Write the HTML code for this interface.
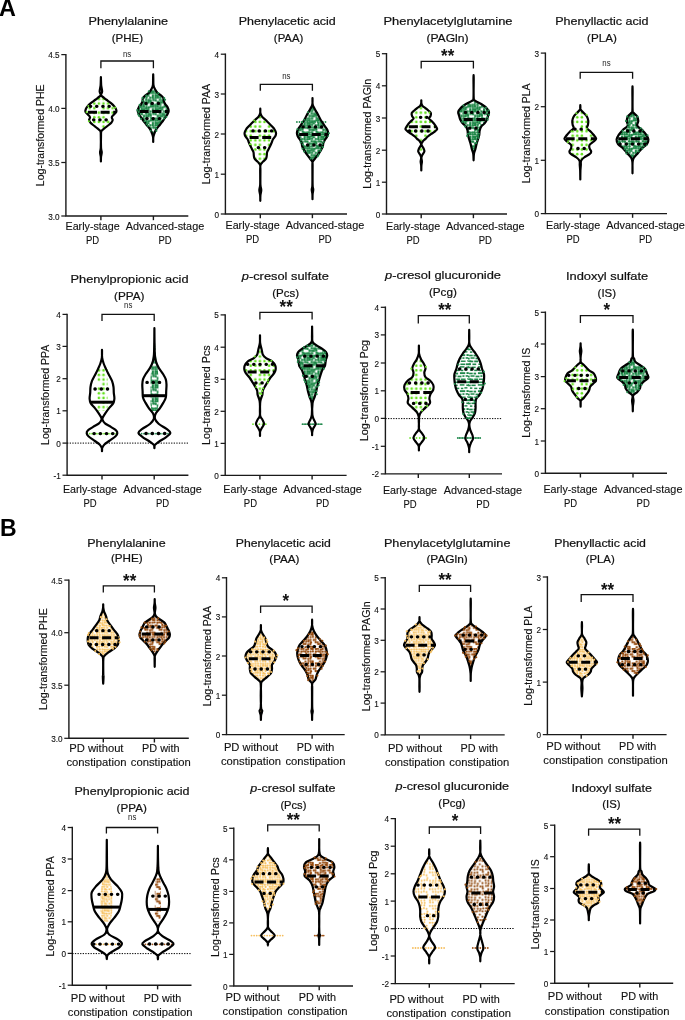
<!DOCTYPE html>
<html><head><meta charset="utf-8"><style>
html,body{margin:0;padding:0;background:#fff;}
svg{display:block;font-family:"Liberation Sans",sans-serif;will-change:transform;}
</style></head><body>
<svg width="685" height="1020" viewBox="0 0 685 1020">
<defs><pattern id="pdgl" width="18" height="18" patternUnits="userSpaceOnUse"><rect width="18" height="18" fill="#fff"/><rect x="1.36" y="0.65" width="3.96" height="1.63" fill="#1f884a"/><rect x="-16.64" y="0.4" width="3.96" height="1.69" fill="#1f884a"/><rect x="6.21" y="0.48" width="3.79" height="1.8" fill="#1f884a"/><rect x="-11.79" y="0.16" width="3.79" height="1.55" fill="#1f884a"/><rect x="10.75" y="0.52" width="4.83" height="1.42" fill="#1f884a"/><rect x="-7.25" y="0.69" width="4.83" height="1.88" fill="#1f884a"/><rect x="17.23" y="0.19" width="4.15" height="1.41" fill="#1f884a"/><rect x="-0.77" y="0.42" width="4.15" height="1.43" fill="#1f884a"/><rect x="0.73" y="3.38" width="2.11" height="1.62" fill="#1f884a"/><rect x="-17.27" y="3.61" width="2.11" height="1.66" fill="#1f884a"/><rect x="4.46" y="3.5" width="3.75" height="1.63" fill="#1f884a"/><rect x="-13.54" y="3.27" width="3.75" height="1.9" fill="#1f884a"/><rect x="10.4" y="3.52" width="4.94" height="1.56" fill="#1f884a"/><rect x="-7.6" y="3.24" width="4.94" height="1.54" fill="#1f884a"/><rect x="16.05" y="3.34" width="4.68" height="1.82" fill="#1f884a"/><rect x="-1.95" y="3.33" width="4.68" height="1.88" fill="#1f884a"/><rect x="0" y="6.65" width="2.73" height="1.63" fill="#1f884a"/><rect x="-18" y="6.69" width="2.73" height="1.6" fill="#1f884a"/><rect x="3.45" y="6.57" width="4.2" height="1.53" fill="#1f884a"/><rect x="-14.55" y="6.15" width="4.2" height="1.57" fill="#1f884a"/><rect x="9.8" y="6.17" width="4.65" height="1.52" fill="#1f884a"/><rect x="-8.2" y="6.16" width="4.65" height="1.43" fill="#1f884a"/><rect x="16.33" y="6.44" width="2.62" height="1.62" fill="#1f884a"/><rect x="-1.67" y="6.21" width="2.62" height="1.77" fill="#1f884a"/><rect x="1.93" y="9.35" width="2.41" height="1.51" fill="#1f884a"/><rect x="-16.07" y="9.26" width="2.41" height="1.89" fill="#1f884a"/><rect x="6.22" y="9.63" width="3.06" height="1.51" fill="#1f884a"/><rect x="-11.78" y="9.34" width="3.06" height="1.83" fill="#1f884a"/><rect x="10.92" y="9.69" width="2.35" height="1.51" fill="#1f884a"/><rect x="-7.08" y="9.25" width="2.35" height="1.79" fill="#1f884a"/><rect x="14.39" y="9.14" width="3.04" height="1.45" fill="#1f884a"/><rect x="-3.61" y="9.45" width="3.04" height="1.52" fill="#1f884a"/><rect x="1.12" y="12.68" width="3.59" height="1.64" fill="#1f884a"/><rect x="-16.88" y="12.44" width="3.59" height="1.83" fill="#1f884a"/><rect x="5.59" y="12.65" width="2.54" height="1.81" fill="#1f884a"/><rect x="-12.41" y="12.25" width="2.54" height="1.49" fill="#1f884a"/><rect x="9.92" y="12.22" width="5.29" height="1.88" fill="#1f884a"/><rect x="-8.08" y="12.63" width="5.29" height="1.7" fill="#1f884a"/><rect x="16.48" y="12.12" width="2.36" height="1.88" fill="#1f884a"/><rect x="-1.52" y="12.24" width="2.36" height="1.75" fill="#1f884a"/><rect x="2.47" y="15.28" width="4.09" height="1.49" fill="#1f884a"/><rect x="-15.53" y="15.53" width="4.09" height="1.43" fill="#1f884a"/><rect x="7.52" y="15.61" width="3.96" height="1.71" fill="#1f884a"/><rect x="-10.48" y="15.27" width="3.96" height="1.86" fill="#1f884a"/><rect x="12.41" y="15.26" width="2.06" height="1.62" fill="#1f884a"/><rect x="-5.59" y="15.14" width="2.06" height="1.49" fill="#1f884a"/><rect x="15.66" y="15.18" width="4" height="1.58" fill="#1f884a"/><rect x="-2.34" y="15.63" width="4" height="1.89" fill="#1f884a"/></pattern><pattern id="plg" width="18.4" height="18.4" patternUnits="userSpaceOnUse"><circle cx="2.3" cy="2.3" r="1.3" fill="#62e01c"/><circle cx="6.9" cy="2.3" r="1.3" fill="#62e01c"/><circle cx="11.5" cy="2.3" r="1.3" fill="#62e01c"/><circle cx="16.1" cy="2.3" r="1.3" fill="#62e01c"/><circle cx="2.3" cy="6.9" r="1.3" fill="#62e01c"/><circle cx="6.9" cy="6.9" r="1.3" fill="#62e01c"/><circle cx="11.5" cy="6.9" r="1.3" fill="#62e01c"/><circle cx="2.3" cy="11.5" r="1.3" fill="#62e01c"/><circle cx="6.9" cy="11.5" r="1.3" fill="#62e01c"/><circle cx="11.5" cy="11.5" r="1.3" fill="#62e01c"/><circle cx="16.1" cy="11.5" r="1.3" fill="#62e01c"/><circle cx="2.3" cy="16.1" r="1.3" fill="#62e01c"/><circle cx="11.5" cy="16.1" r="1.3" fill="#62e01c"/><circle cx="16.1" cy="16.1" r="1.3" fill="#62e01c"/></pattern><pattern id="por" width="14.4" height="14.4" patternUnits="userSpaceOnUse"><rect width="14.4" height="14.4" fill="#fff"/><circle cx="1.6" cy="1.44" r="1.1" fill="#f7c160"/><circle cx="3.89" cy="1.62" r="1.1" fill="#f7c160"/><circle cx="6.19" cy="1.6" r="1.1" fill="#f7c160"/><circle cx="8.32" cy="1.49" r="1.1" fill="#f7c160"/><circle cx="10.87" cy="1.32" r="1.1" fill="#f7c160"/><circle cx="13.28" cy="1.31" r="1.1" fill="#f7c160"/><circle cx="1.34" cy="4.09" r="1.1" fill="#f7c160"/><circle cx="3.83" cy="3.49" r="1.1" fill="#f7c160"/><circle cx="6.08" cy="3.54" r="1.1" fill="#f7c160"/><circle cx="7.98" cy="3.85" r="1.1" fill="#f7c160"/><circle cx="10.9" cy="3.58" r="1.1" fill="#f7c160"/><circle cx="13.4" cy="3.6" r="1.1" fill="#f7c160"/><circle cx="1.62" cy="5.76" r="1.1" fill="#f7c160"/><circle cx="3.4" cy="6.18" r="1.1" fill="#f7c160"/><circle cx="5.67" cy="6.41" r="1.1" fill="#f7c160"/><circle cx="8.34" cy="6.39" r="1.1" fill="#f7c160"/><circle cx="10.97" cy="5.7" r="1.1" fill="#f7c160"/><circle cx="13.51" cy="6.41" r="1.1" fill="#f7c160"/><circle cx="1.08" cy="8.48" r="1.1" fill="#f7c160"/><circle cx="3.24" cy="8.4" r="1.1" fill="#f7c160"/><circle cx="6.35" cy="8.61" r="1.1" fill="#f7c160"/><circle cx="10.47" cy="8.35" r="1.1" fill="#f7c160"/><circle cx="12.91" cy="8.31" r="1.1" fill="#f7c160"/><circle cx="1.19" cy="10.62" r="1.1" fill="#f7c160"/><circle cx="4.08" cy="10.75" r="1.1" fill="#f7c160"/><circle cx="5.53" cy="11.17" r="1.1" fill="#f7c160"/><circle cx="8.61" cy="10.87" r="1.1" fill="#f7c160"/><circle cx="11.09" cy="10.32" r="1.1" fill="#f7c160"/><circle cx="13.15" cy="10.32" r="1.1" fill="#f7c160"/><circle cx="0.94" cy="12.84" r="1.1" fill="#f7c160"/><circle cx="3.73" cy="13.15" r="1.1" fill="#f7c160"/><circle cx="6.16" cy="13.51" r="1.1" fill="#f7c160"/><circle cx="10.5" cy="13.18" r="1.1" fill="#f7c160"/><circle cx="12.71" cy="13.17" r="1.1" fill="#f7c160"/></pattern><pattern id="pdg" width="13.8" height="13.8" patternUnits="userSpaceOnUse"><rect width="13.8" height="13.8" fill="#fff"/><circle cx="0.83" cy="0.92" r="1.28" fill="#1b8645"/><circle cx="3.65" cy="1.17" r="1.28" fill="#1b8645"/><circle cx="6.01" cy="1.04" r="1.28" fill="#1b8645"/><circle cx="8.46" cy="0.74" r="1.28" fill="#1b8645"/><circle cx="12.28" cy="1.1" r="1.28" fill="#1b8645"/><circle cx="1.56" cy="3.33" r="1.28" fill="#1b8645"/><circle cx="3.83" cy="3.75" r="1.28" fill="#1b8645"/><circle cx="8.2" cy="3.15" r="1.28" fill="#1b8645"/><circle cx="10.67" cy="3.59" r="1.28" fill="#1b8645"/><circle cx="12.36" cy="3.85" r="1.28" fill="#1b8645"/><circle cx="6.04" cy="5.57" r="1.28" fill="#1b8645"/><circle cx="8.41" cy="5.6" r="1.28" fill="#1b8645"/><circle cx="10.29" cy="5.8" r="1.28" fill="#1b8645"/><circle cx="12.64" cy="5.28" r="1.28" fill="#1b8645"/><circle cx="0.71" cy="8.35" r="1.28" fill="#1b8645"/><circle cx="3.29" cy="8.34" r="1.28" fill="#1b8645"/><circle cx="5.4" cy="8.07" r="1.28" fill="#1b8645"/><circle cx="8.39" cy="8.24" r="1.28" fill="#1b8645"/><circle cx="13.1" cy="7.64" r="1.28" fill="#1b8645"/><circle cx="1.18" cy="10.14" r="1.28" fill="#1b8645"/><circle cx="3.59" cy="10.37" r="1.28" fill="#1b8645"/><circle cx="5.81" cy="10.16" r="1.28" fill="#1b8645"/><circle cx="8.4" cy="10.75" r="1.28" fill="#1b8645"/><circle cx="10.7" cy="10.82" r="1.28" fill="#1b8645"/><circle cx="12.72" cy="10.05" r="1.28" fill="#1b8645"/><circle cx="1.15" cy="12.76" r="1.28" fill="#1b8645"/><circle cx="3.92" cy="12.67" r="1.28" fill="#1b8645"/><circle cx="6.05" cy="12.71" r="1.28" fill="#1b8645"/><circle cx="8.24" cy="12.22" r="1.28" fill="#1b8645"/><circle cx="10.26" cy="13.11" r="1.28" fill="#1b8645"/></pattern><pattern id="pbr" width="14.4" height="14.4" patternUnits="userSpaceOnUse"><rect width="14.4" height="14.4" fill="#fff"/><circle cx="1.17" cy="0.83" r="1.12" fill="#94480c"/><circle cx="3.92" cy="1.6" r="1.12" fill="#94480c"/><circle cx="5.82" cy="0.89" r="1.12" fill="#94480c"/><circle cx="8.83" cy="0.83" r="1.12" fill="#94480c"/><circle cx="10.32" cy="0.89" r="1.12" fill="#94480c"/><circle cx="13.39" cy="1.02" r="1.12" fill="#94480c"/><circle cx="1.32" cy="3.2" r="1.12" fill="#94480c"/><circle cx="3.22" cy="3.61" r="1.12" fill="#94480c"/><circle cx="5.7" cy="3.63" r="1.12" fill="#94480c"/><circle cx="8.28" cy="3.51" r="1.12" fill="#94480c"/><circle cx="10.46" cy="3.3" r="1.12" fill="#94480c"/><circle cx="13.34" cy="3.63" r="1.12" fill="#94480c"/><circle cx="3.96" cy="5.73" r="1.12" fill="#94480c"/><circle cx="6.31" cy="6.4" r="1.12" fill="#94480c"/><circle cx="8.21" cy="6.42" r="1.12" fill="#94480c"/><circle cx="11.3" cy="6.39" r="1.12" fill="#94480c"/><circle cx="12.94" cy="6.23" r="1.12" fill="#94480c"/><circle cx="0.8" cy="8.73" r="1.12" fill="#94480c"/><circle cx="3.89" cy="8.03" r="1.12" fill="#94480c"/><circle cx="6.19" cy="7.92" r="1.12" fill="#94480c"/><circle cx="8.58" cy="8.81" r="1.12" fill="#94480c"/><circle cx="13.21" cy="8.66" r="1.12" fill="#94480c"/><circle cx="1.39" cy="10.49" r="1.12" fill="#94480c"/><circle cx="3.21" cy="10.34" r="1.12" fill="#94480c"/><circle cx="6.01" cy="10.87" r="1.12" fill="#94480c"/><circle cx="8.08" cy="10.5" r="1.12" fill="#94480c"/><circle cx="3.16" cy="13.65" r="1.12" fill="#94480c"/><circle cx="6.26" cy="13.03" r="1.12" fill="#94480c"/><circle cx="8.42" cy="13.13" r="1.12" fill="#94480c"/><circle cx="10.31" cy="13.4" r="1.12" fill="#94480c"/></pattern><pattern id="porl" width="16.8" height="16.8" patternUnits="userSpaceOnUse"><rect width="16.8" height="16.8" fill="#fff"/><circle cx="1.35" cy="1.64" r="1" fill="#f7c160"/><circle cx="3.9" cy="1.07" r="1" fill="#f7c160"/><circle cx="6.52" cy="1.79" r="1" fill="#f7c160"/><circle cx="12.96" cy="1.53" r="1" fill="#f7c160"/><circle cx="15.5" cy="1.4" r="1" fill="#f7c160"/><circle cx="7.41" cy="4.44" r="1" fill="#f7c160"/><circle cx="15.8" cy="4.58" r="1" fill="#f7c160"/><circle cx="1.67" cy="7.27" r="1" fill="#f7c160"/><circle cx="4.42" cy="6.57" r="1" fill="#f7c160"/><circle cx="6.97" cy="6.51" r="1" fill="#f7c160"/><circle cx="9.94" cy="7.12" r="1" fill="#f7c160"/><circle cx="13.04" cy="7.17" r="1" fill="#f7c160"/><circle cx="15.56" cy="7.07" r="1" fill="#f7c160"/><circle cx="1.29" cy="10.3" r="1" fill="#f7c160"/><circle cx="4.4" cy="10.06" r="1" fill="#f7c160"/><circle cx="9.92" cy="10.04" r="1" fill="#f7c160"/><circle cx="12.5" cy="9.35" r="1" fill="#f7c160"/><circle cx="15.28" cy="9.4" r="1" fill="#f7c160"/><circle cx="1.81" cy="12.65" r="1" fill="#f7c160"/><circle cx="4.67" cy="12.67" r="1" fill="#f7c160"/><circle cx="10.11" cy="12.18" r="1" fill="#f7c160"/><circle cx="12.86" cy="12.15" r="1" fill="#f7c160"/><circle cx="1.37" cy="15.07" r="1" fill="#f7c160"/><circle cx="4.31" cy="14.96" r="1" fill="#f7c160"/><circle cx="9.83" cy="15.5" r="1" fill="#f7c160"/><circle cx="12.39" cy="15.56" r="1" fill="#f7c160"/><circle cx="15.18" cy="15.62" r="1" fill="#f7c160"/></pattern><pattern id="pbrl" width="16.8" height="16.8" patternUnits="userSpaceOnUse"><rect width="16.8" height="16.8" fill="#fff"/><circle cx="0.91" cy="1.15" r="1.05" fill="#8e460a"/><circle cx="3.86" cy="1.65" r="1.05" fill="#8e460a"/><circle cx="7.4" cy="1.65" r="1.05" fill="#8e460a"/><circle cx="10.29" cy="1.84" r="1.05" fill="#8e460a"/><circle cx="13.01" cy="1.33" r="1.05" fill="#8e460a"/><circle cx="15.87" cy="1.14" r="1.05" fill="#8e460a"/><circle cx="1.84" cy="4.42" r="1.05" fill="#8e460a"/><circle cx="4.68" cy="4.52" r="1.05" fill="#8e460a"/><circle cx="6.62" cy="4.32" r="1.05" fill="#8e460a"/><circle cx="9.5" cy="3.75" r="1.05" fill="#8e460a"/><circle cx="12.22" cy="4.14" r="1.05" fill="#8e460a"/><circle cx="15.36" cy="3.96" r="1.05" fill="#8e460a"/><circle cx="1.32" cy="7.28" r="1.05" fill="#8e460a"/><circle cx="4.7" cy="7.45" r="1.05" fill="#8e460a"/><circle cx="9.41" cy="7.39" r="1.05" fill="#8e460a"/><circle cx="15.26" cy="6.77" r="1.05" fill="#8e460a"/><circle cx="1.46" cy="9.89" r="1.05" fill="#8e460a"/><circle cx="4.45" cy="9.49" r="1.05" fill="#8e460a"/><circle cx="7.48" cy="10.22" r="1.05" fill="#8e460a"/><circle cx="12.16" cy="9.57" r="1.05" fill="#8e460a"/><circle cx="15.52" cy="9.4" r="1.05" fill="#8e460a"/><circle cx="0.97" cy="12.19" r="1.05" fill="#8e460a"/><circle cx="4.25" cy="12.73" r="1.05" fill="#8e460a"/><circle cx="6.98" cy="12.31" r="1.05" fill="#8e460a"/><circle cx="10.04" cy="12.94" r="1.05" fill="#8e460a"/><circle cx="12.22" cy="12.91" r="1.05" fill="#8e460a"/><circle cx="15.67" cy="12.31" r="1.05" fill="#8e460a"/><circle cx="1.16" cy="15.71" r="1.05" fill="#8e460a"/><circle cx="4.35" cy="15.89" r="1.05" fill="#8e460a"/><circle cx="7.05" cy="15.65" r="1.05" fill="#8e460a"/><circle cx="12.47" cy="15" r="1.05" fill="#8e460a"/></pattern><pattern id="pwh" width="4" height="4" patternUnits="userSpaceOnUse"><rect width="4" height="4" fill="#fff"/></pattern><clipPath id="fc1"><rect x="0" y="0" width="685" height="414"/></clipPath><clipPath id="fc2"><rect x="0" y="0" width="685" height="414"/></clipPath><clipPath id="fc3"><rect x="0" y="0" width="685" height="428"/></clipPath><clipPath id="fc4"><rect x="0" y="0" width="685" height="428"/></clipPath><clipPath id="fc5"><rect x="0" y="0" width="685" height="926"/></clipPath><clipPath id="fc6"><rect x="0" y="0" width="685" height="930"/></clipPath><clipPath id="fc7"><rect x="0" y="0" width="685" height="935"/></clipPath><clipPath id="fc8"><rect x="0" y="0" width="685" height="934"/></clipPath></defs>
<rect width="685" height="1020" fill="#fff"/>
<text x="-0.9" y="15.7" font-size="23.4" text-anchor="start" font-weight="bold" fill="#000">A</text><text x="-0.1" y="536.2" font-size="23" text-anchor="start" font-weight="bold" fill="#000">B</text>
<path d="M65.9 53.9 V216 H188.3" fill="none" stroke="#1a1a1a" stroke-width="1.4"/>
<line x1="61.3" y1="54.6" x2="65.9" y2="54.6" stroke="#1a1a1a" stroke-width="1.25"/>
<text x="59.6" y="58.1" font-size="8.2" text-anchor="end" font-weight="normal" fill="#111" stroke="#111" stroke-width="0.12">4.5</text>
<line x1="61.3" y1="108.4" x2="65.9" y2="108.4" stroke="#1a1a1a" stroke-width="1.25"/>
<text x="59.6" y="111.9" font-size="8.2" text-anchor="end" font-weight="normal" fill="#111" stroke="#111" stroke-width="0.12">4.0</text>
<line x1="61.3" y1="162.5" x2="65.9" y2="162.5" stroke="#1a1a1a" stroke-width="1.25"/>
<text x="59.6" y="166" font-size="8.2" text-anchor="end" font-weight="normal" fill="#111" stroke="#111" stroke-width="0.12">3.5</text>
<line x1="61.3" y1="216" x2="65.9" y2="216" stroke="#1a1a1a" stroke-width="1.25"/>
<text x="59.6" y="219.5" font-size="8.2" text-anchor="end" font-weight="normal" fill="#111" stroke="#111" stroke-width="0.12">3.0</text>
<line x1="100.9" y1="216" x2="100.9" y2="220.2" stroke="#1a1a1a" stroke-width="1.4"/>
<line x1="153.4" y1="216" x2="153.4" y2="220.2" stroke="#1a1a1a" stroke-width="1.4"/>
<text transform="translate(44.4 135.3) rotate(-90)" font-size="10.53" text-anchor="middle" fill="#111" stroke="#111" stroke-width="0.15">Log-transformed PHE</text>
<text x="128.3" y="25" font-size="11.8" text-anchor="middle" font-weight="normal" textLength="79.5" lengthAdjust="spacingAndGlyphs" fill="#111" stroke="#111" stroke-width="0.22">Phenylalanine</text>
<text x="127.4" y="41.8" font-size="11.8" text-anchor="middle" font-weight="normal" textLength="31.2" lengthAdjust="spacingAndGlyphs" fill="#111" stroke="#111" stroke-width="0.22">(PHE)</text>
<path d="M100.9 68.2 V61 H153.4 V68.2" fill="none" stroke="#111" stroke-width="1.3"/>
<text x="127.1" y="56.6" font-size="8.2" text-anchor="middle" font-weight="normal" textLength="8.3" lengthAdjust="spacingAndGlyphs" fill="#222">ns</text>
<text x="92.6" y="229.8" font-size="10.7" text-anchor="middle" font-weight="normal" textLength="54.2" lengthAdjust="spacingAndGlyphs" fill="#111" stroke="#111" stroke-width="0.12">Early-stage</text>
<text x="92.6" y="243.8" font-size="10.7" text-anchor="middle" font-weight="normal" textLength="13.2" lengthAdjust="spacingAndGlyphs" fill="#111" stroke="#111" stroke-width="0.12">PD</text>
<text x="165" y="229.8" font-size="10.7" text-anchor="middle" font-weight="normal" textLength="78.5" lengthAdjust="spacingAndGlyphs" fill="#111" stroke="#111" stroke-width="0.12">Advanced-stage</text>
<text x="165" y="243.8" font-size="10.7" text-anchor="middle" font-weight="normal" textLength="13.2" lengthAdjust="spacingAndGlyphs" fill="#111" stroke="#111" stroke-width="0.12">PD</text>
<path d="M100.9 77.19 C100.92 77.86 100.96 79.77 101.02 81.2 C101.08 82.64 101.06 84.1 101.25 85.8 C101.44 87.5 102.18 89.85 102.15 91.4 C102.12 92.95 100.74 94.03 101.05 95.1 C101.36 96.17 102.91 96.88 104 97.8 C105.09 98.72 106.38 99.67 107.6 100.6 C108.82 101.53 110.22 102.48 111.3 103.4 C112.38 104.32 113.33 105.18 114.1 106.1 C114.87 107.02 115.52 107.97 115.9 108.9 C116.28 109.83 116.7 110.78 116.4 111.7 C116.1 112.62 114.87 113.48 114.1 114.4 C113.33 115.32 112.03 116.27 111.8 117.2 C111.57 118.13 112.78 119.08 112.7 120 C112.62 120.92 112.07 121.78 111.3 122.7 C110.53 123.62 109.25 124.57 108.1 125.5 C106.95 126.43 105.51 127.38 104.4 128.3 C103.29 129.22 102.01 129.93 101.45 131 C100.89 132.07 101.09 131.93 101.02 134.7 C100.95 137.47 100.9 144.67 101.02 147.6 C101.14 150.53 101.75 150.75 101.75 152.3 C101.75 153.85 101.16 155.38 101.02 156.9 C100.88 158.42 100.92 160.66 100.9 161.41 C100.88 160.66 100.92 158.42 100.78 156.9 C100.64 155.38 100.05 153.85 100.05 152.3 C100.05 150.75 100.66 150.53 100.78 147.6 C100.9 144.67 100.85 137.47 100.78 134.7 C100.71 131.93 100.91 132.07 100.35 131 C99.79 129.93 98.51 129.22 97.4 128.3 C96.29 127.38 94.85 126.43 93.7 125.5 C92.55 124.57 91.27 123.62 90.5 122.7 C89.73 121.78 89.18 120.92 89.1 120 C89.02 119.08 90.23 118.13 90 117.2 C89.77 116.27 88.47 115.32 87.7 114.4 C86.93 113.48 85.7 112.62 85.4 111.7 C85.1 110.78 85.52 109.83 85.9 108.9 C86.28 107.97 86.93 107.02 87.7 106.1 C88.47 105.18 89.42 104.32 90.5 103.4 C91.58 102.48 92.98 101.53 94.2 100.6 C95.42 99.67 96.71 98.72 97.8 97.8 C98.89 96.88 100.44 96.17 100.75 95.1 C101.06 94.03 99.68 92.95 99.65 91.4 C99.62 89.85 100.36 87.5 100.55 85.8 C100.74 84.1 100.72 82.64 100.78 81.2 C100.84 79.77 100.88 77.86 100.9 77.19Z" fill="url(#plg)" stroke="none"/>

<path d="M100.9 77.19 C100.92 77.86 100.96 79.77 101.02 81.2 C101.08 82.64 101.06 84.1 101.25 85.8 C101.44 87.5 102.18 89.85 102.15 91.4 C102.12 92.95 100.74 94.03 101.05 95.1 C101.36 96.17 102.91 96.88 104 97.8 C105.09 98.72 106.38 99.67 107.6 100.6 C108.82 101.53 110.22 102.48 111.3 103.4 C112.38 104.32 113.33 105.18 114.1 106.1 C114.87 107.02 115.52 107.97 115.9 108.9 C116.28 109.83 116.7 110.78 116.4 111.7 C116.1 112.62 114.87 113.48 114.1 114.4 C113.33 115.32 112.03 116.27 111.8 117.2 C111.57 118.13 112.78 119.08 112.7 120 C112.62 120.92 112.07 121.78 111.3 122.7 C110.53 123.62 109.25 124.57 108.1 125.5 C106.95 126.43 105.51 127.38 104.4 128.3 C103.29 129.22 102.01 129.93 101.45 131 C100.89 132.07 101.09 131.93 101.02 134.7 C100.95 137.47 100.9 144.67 101.02 147.6 C101.14 150.53 101.75 150.75 101.75 152.3 C101.75 153.85 101.16 155.38 101.02 156.9 C100.88 158.42 100.92 160.66 100.9 161.41 C100.88 160.66 100.92 158.42 100.78 156.9 C100.64 155.38 100.05 153.85 100.05 152.3 C100.05 150.75 100.66 150.53 100.78 147.6 C100.9 144.67 100.85 137.47 100.78 134.7 C100.71 131.93 100.91 132.07 100.35 131 C99.79 129.93 98.51 129.22 97.4 128.3 C96.29 127.38 94.85 126.43 93.7 125.5 C92.55 124.57 91.27 123.62 90.5 122.7 C89.73 121.78 89.18 120.92 89.1 120 C89.02 119.08 90.23 118.13 90 117.2 C89.77 116.27 88.47 115.32 87.7 114.4 C86.93 113.48 85.7 112.62 85.4 111.7 C85.1 110.78 85.52 109.83 85.9 108.9 C86.28 107.97 86.93 107.02 87.7 106.1 C88.47 105.18 89.42 104.32 90.5 103.4 C91.58 102.48 92.98 101.53 94.2 100.6 C95.42 99.67 96.71 98.72 97.8 97.8 C98.89 96.88 100.44 96.17 100.75 95.1 C101.06 94.03 99.68 92.95 99.65 91.4 C99.62 89.85 100.36 87.5 100.55 85.8 C100.74 84.1 100.72 82.64 100.78 81.2 C100.84 79.77 100.88 77.86 100.9 77.19Z" fill="none" stroke="#000" stroke-width="2.2" stroke-linejoin="round"/>
<circle cx="88.38" cy="106.02" r="1.05" fill="#6fe52e"/><circle cx="115.15" cy="107.49" r="1.05" fill="#6fe52e"/><circle cx="86.7" cy="112.13" r="1.05" fill="#6fe52e"/><circle cx="88.87" cy="121.24" r="1.05" fill="#6fe52e"/>
<line x1="85.91" y1="112.3" x2="115.89" y2="112.3" stroke="#000" stroke-width="3" stroke-dasharray="9 3.6" stroke-dashoffset="10.49"/>
<line x1="89.37" y1="106.3" x2="112.43" y2="106.3" stroke="#000" stroke-width="3.3" stroke-linecap="round" stroke-dasharray="0.3 5.9" stroke-dashoffset="11.38"/>
<line x1="90.96" y1="119.8" x2="110.84" y2="119.8" stroke="#000" stroke-width="3.3" stroke-linecap="round" stroke-dasharray="0.3 5.9" stroke-dashoffset="9.79"/>
<path d="M153.2 74.39 C153.22 75.14 153.28 77.15 153.32 78.9 C153.36 80.65 153.23 83.28 153.45 84.9 C153.67 86.52 154.02 87.35 154.65 88.6 C155.27 89.85 156.16 91.28 157.2 92.4 C158.24 93.52 159.85 94.32 160.9 95.3 C161.95 96.28 163 97.3 163.5 98.3 C164 99.3 163.58 100.3 163.9 101.3 C164.22 102.3 164.78 103.3 165.4 104.3 C166.02 105.3 167.05 106.18 167.6 107.3 C168.15 108.42 168.77 109.77 168.7 111 C168.63 112.23 167.88 113.47 167.2 114.7 C166.52 115.93 165.47 117.15 164.6 118.4 C163.73 119.65 162.93 120.95 162 122.2 C161.07 123.45 160 124.67 159 125.9 C158 127.13 156.76 128.37 156 129.6 C155.24 130.83 154.9 132.05 154.45 133.3 C154 134.55 153.53 135.65 153.32 137.1 C153.11 138.55 153.22 141.19 153.2 142.01 C153.18 141.19 153.29 138.55 153.08 137.1 C152.87 135.65 152.4 134.55 151.95 133.3 C151.5 132.05 151.16 130.83 150.4 129.6 C149.64 128.37 148.4 127.13 147.4 125.9 C146.4 124.67 145.33 123.45 144.4 122.2 C143.47 120.95 142.67 119.65 141.8 118.4 C140.93 117.15 139.88 115.93 139.2 114.7 C138.52 113.47 137.77 112.23 137.7 111 C137.63 109.77 138.25 108.42 138.8 107.3 C139.35 106.18 140.38 105.3 141 104.3 C141.62 103.3 142.18 102.3 142.5 101.3 C142.82 100.3 142.4 99.3 142.9 98.3 C143.4 97.3 144.45 96.28 145.5 95.3 C146.55 94.32 148.16 93.52 149.2 92.4 C150.24 91.28 151.12 89.85 151.75 88.6 C152.38 87.35 152.73 86.52 152.95 84.9 C153.17 83.28 153.04 80.65 153.08 78.9 C153.12 77.15 153.18 75.14 153.2 74.39Z" fill="url(#pdg)" stroke="none"/>

<path d="M153.2 74.39 C153.22 75.14 153.28 77.15 153.32 78.9 C153.36 80.65 153.23 83.28 153.45 84.9 C153.67 86.52 154.02 87.35 154.65 88.6 C155.27 89.85 156.16 91.28 157.2 92.4 C158.24 93.52 159.85 94.32 160.9 95.3 C161.95 96.28 163 97.3 163.5 98.3 C164 99.3 163.58 100.3 163.9 101.3 C164.22 102.3 164.78 103.3 165.4 104.3 C166.02 105.3 167.05 106.18 167.6 107.3 C168.15 108.42 168.77 109.77 168.7 111 C168.63 112.23 167.88 113.47 167.2 114.7 C166.52 115.93 165.47 117.15 164.6 118.4 C163.73 119.65 162.93 120.95 162 122.2 C161.07 123.45 160 124.67 159 125.9 C158 127.13 156.76 128.37 156 129.6 C155.24 130.83 154.9 132.05 154.45 133.3 C154 134.55 153.53 135.65 153.32 137.1 C153.11 138.55 153.22 141.19 153.2 142.01 C153.18 141.19 153.29 138.55 153.08 137.1 C152.87 135.65 152.4 134.55 151.95 133.3 C151.5 132.05 151.16 130.83 150.4 129.6 C149.64 128.37 148.4 127.13 147.4 125.9 C146.4 124.67 145.33 123.45 144.4 122.2 C143.47 120.95 142.67 119.65 141.8 118.4 C140.93 117.15 139.88 115.93 139.2 114.7 C138.52 113.47 137.77 112.23 137.7 111 C137.63 109.77 138.25 108.42 138.8 107.3 C139.35 106.18 140.38 105.3 141 104.3 C141.62 103.3 142.18 102.3 142.5 101.3 C142.82 100.3 142.4 99.3 142.9 98.3 C143.4 97.3 144.45 96.28 145.5 95.3 C146.55 94.32 148.16 93.52 149.2 92.4 C150.24 91.28 151.12 89.85 151.75 88.6 C152.38 87.35 152.73 86.52 152.95 84.9 C153.17 83.28 153.04 80.65 153.08 78.9 C153.12 77.15 153.18 75.14 153.2 74.39Z" fill="none" stroke="#000" stroke-width="2.2" stroke-linejoin="round"/>
<circle cx="148.77" cy="91.42" r="1.05" fill="#1f884a"/><circle cx="158.27" cy="93.09" r="1.05" fill="#1f884a"/><circle cx="146.2" cy="95.55" r="1.05" fill="#1f884a"/><circle cx="142.55" cy="97.9" r="1.05" fill="#1f884a"/><circle cx="164.23" cy="98.07" r="1.05" fill="#1f884a"/><circle cx="142.62" cy="100.64" r="1.05" fill="#1f884a"/><circle cx="165.11" cy="99.82" r="1.05" fill="#1f884a"/><circle cx="139.67" cy="104.83" r="1.05" fill="#1f884a"/><circle cx="139.98" cy="106.91" r="1.05" fill="#1f884a"/><circle cx="137.38" cy="110.11" r="1.05" fill="#1f884a"/><circle cx="138.4" cy="111.92" r="1.05" fill="#1f884a"/><circle cx="138.27" cy="114.55" r="1.05" fill="#1f884a"/><circle cx="139.2" cy="116" r="1.05" fill="#1f884a"/><circle cx="166.29" cy="116.99" r="1.05" fill="#1f884a"/><circle cx="140.87" cy="118.84" r="1.05" fill="#1f884a"/><circle cx="163.89" cy="118.4" r="1.05" fill="#1f884a"/><circle cx="144.54" cy="121.32" r="1.05" fill="#1f884a"/><circle cx="146.53" cy="123.97" r="1.05" fill="#1f884a"/><circle cx="147.89" cy="125.8" r="1.05" fill="#1f884a"/><circle cx="156.16" cy="128.49" r="1.05" fill="#1f884a"/><circle cx="150.66" cy="130.7" r="1.05" fill="#1f884a"/><circle cx="156.39" cy="130.83" r="1.05" fill="#1f884a"/>
<line x1="137.9" y1="111.5" x2="168.5" y2="111.5" stroke="#000" stroke-width="3" stroke-dasharray="9 3.6" stroke-dashoffset="10.8"/>
<line x1="143.25" y1="103.4" x2="163.15" y2="103.4" stroke="#000" stroke-width="3.3" stroke-linecap="round" stroke-dasharray="0.3 5.9" stroke-dashoffset="9.8"/>
<line x1="143.74" y1="118.6" x2="162.66" y2="118.6" stroke="#000" stroke-width="3.3" stroke-linecap="round" stroke-dasharray="0.3 5.9" stroke-dashoffset="9.31"/>
<path d="M225.4 53.5 V214 H347" fill="none" stroke="#1a1a1a" stroke-width="1.4"/>
<line x1="220.8" y1="54.2" x2="225.4" y2="54.2" stroke="#1a1a1a" stroke-width="1.25"/>
<text x="219.1" y="57.7" font-size="8.2" text-anchor="end" font-weight="normal" fill="#111" stroke="#111" stroke-width="0.12">4</text>
<line x1="220.8" y1="94" x2="225.4" y2="94" stroke="#1a1a1a" stroke-width="1.25"/>
<text x="219.1" y="97.5" font-size="8.2" text-anchor="end" font-weight="normal" fill="#111" stroke="#111" stroke-width="0.12">3</text>
<line x1="220.8" y1="134" x2="225.4" y2="134" stroke="#1a1a1a" stroke-width="1.25"/>
<text x="219.1" y="137.5" font-size="8.2" text-anchor="end" font-weight="normal" fill="#111" stroke="#111" stroke-width="0.12">2</text>
<line x1="220.8" y1="174.2" x2="225.4" y2="174.2" stroke="#1a1a1a" stroke-width="1.25"/>
<text x="219.1" y="177.7" font-size="8.2" text-anchor="end" font-weight="normal" fill="#111" stroke="#111" stroke-width="0.12">1</text>
<line x1="220.8" y1="214" x2="225.4" y2="214" stroke="#1a1a1a" stroke-width="1.25"/>
<text x="219.1" y="217.5" font-size="8.2" text-anchor="end" font-weight="normal" fill="#111" stroke="#111" stroke-width="0.12">0</text>
<line x1="260.3" y1="214" x2="260.3" y2="218.2" stroke="#1a1a1a" stroke-width="1.4"/>
<line x1="312.4" y1="214" x2="312.4" y2="218.2" stroke="#1a1a1a" stroke-width="1.4"/>
<text transform="translate(210.1 134.1) rotate(-90)" font-size="10.53" text-anchor="middle" fill="#111" stroke="#111" stroke-width="0.15">Log-transformed PAA</text>
<text x="287.3" y="25" font-size="11.8" text-anchor="middle" font-weight="normal" textLength="97" lengthAdjust="spacingAndGlyphs" fill="#111" stroke="#111" stroke-width="0.22">Phenylacetic acid</text>
<text x="288.6" y="41.8" font-size="11.8" text-anchor="middle" font-weight="normal" textLength="29.5" lengthAdjust="spacingAndGlyphs" fill="#111" stroke="#111" stroke-width="0.22">(PAA)</text>
<path d="M260.3 90.7 V84.3 H312.4 V90.7" fill="none" stroke="#111" stroke-width="1.3"/>
<text x="286.3" y="78.6" font-size="8.2" text-anchor="middle" font-weight="normal" textLength="8.3" lengthAdjust="spacingAndGlyphs" fill="#222">ns</text>
<text x="252.6" y="229.4" font-size="10.7" text-anchor="middle" font-weight="normal" textLength="54.2" lengthAdjust="spacingAndGlyphs" fill="#111" stroke="#111" stroke-width="0.12">Early-stage</text>
<text x="252.6" y="243.4" font-size="10.7" text-anchor="middle" font-weight="normal" textLength="13.2" lengthAdjust="spacingAndGlyphs" fill="#111" stroke="#111" stroke-width="0.12">PD</text>
<text x="325" y="229.4" font-size="10.7" text-anchor="middle" font-weight="normal" textLength="78.5" lengthAdjust="spacingAndGlyphs" fill="#111" stroke="#111" stroke-width="0.12">Advanced-stage</text>
<text x="325" y="243.4" font-size="10.7" text-anchor="middle" font-weight="normal" textLength="13.2" lengthAdjust="spacingAndGlyphs" fill="#111" stroke="#111" stroke-width="0.12">PD</text>
<path d="M260.3 108.69 C260.32 109.46 260.16 111.98 260.45 113.3 C260.74 114.62 261.21 115.52 262.05 116.6 C262.89 117.68 264.39 118.72 265.5 119.8 C266.61 120.88 267.63 122.02 268.7 123.1 C269.77 124.18 270.92 125.23 271.9 126.3 C272.88 127.37 273.92 128.42 274.6 129.5 C275.28 130.58 275.87 131.72 276 132.8 C276.13 133.88 275.9 134.93 275.4 136 C274.9 137.07 273.62 138.12 273 139.2 C272.38 140.28 272.15 141.42 271.7 142.5 C271.25 143.58 270.8 144.62 270.3 145.7 C269.8 146.78 269.23 147.92 268.7 149 C268.17 150.08 267.42 151.13 267.1 152.2 C266.78 153.27 266.98 154.32 266.8 155.4 C266.62 156.48 266.67 157.62 266 158.7 C265.33 159.78 263.73 160.83 262.8 161.9 C261.88 162.97 260.85 163.67 260.45 165.1 C260.05 166.53 260.43 167.25 260.42 170.5 C260.42 173.75 260.28 181.35 260.42 184.6 C260.56 187.85 261.25 188.2 261.25 190 C261.25 191.8 260.58 193.6 260.42 195.4 C260.26 197.2 260.32 199.91 260.3 200.81 C260.28 199.91 260.34 197.2 260.18 195.4 C260.02 193.6 259.35 191.8 259.35 190 C259.35 188.2 260.04 187.85 260.18 184.6 C260.32 181.35 260.19 173.75 260.18 170.5 C260.18 167.25 260.55 166.53 260.15 165.1 C259.75 163.67 258.73 162.97 257.8 161.9 C256.88 160.83 255.27 159.78 254.6 158.7 C253.93 157.62 253.98 156.48 253.8 155.4 C253.62 154.32 253.82 153.27 253.5 152.2 C253.18 151.13 252.43 150.08 251.9 149 C251.37 147.92 250.8 146.78 250.3 145.7 C249.8 144.62 249.35 143.58 248.9 142.5 C248.45 141.42 248.22 140.28 247.6 139.2 C246.98 138.12 245.7 137.07 245.2 136 C244.7 134.93 244.47 133.88 244.6 132.8 C244.73 131.72 245.32 130.58 246 129.5 C246.68 128.42 247.72 127.37 248.7 126.3 C249.68 125.23 250.83 124.18 251.9 123.1 C252.97 122.02 253.99 120.88 255.1 119.8 C256.21 118.72 257.71 117.68 258.55 116.6 C259.39 115.52 259.86 114.62 260.15 113.3 C260.44 111.98 260.28 109.46 260.3 108.69Z" fill="url(#plg)" stroke="none"/>

<path d="M260.3 108.69 C260.32 109.46 260.16 111.98 260.45 113.3 C260.74 114.62 261.21 115.52 262.05 116.6 C262.89 117.68 264.39 118.72 265.5 119.8 C266.61 120.88 267.63 122.02 268.7 123.1 C269.77 124.18 270.92 125.23 271.9 126.3 C272.88 127.37 273.92 128.42 274.6 129.5 C275.28 130.58 275.87 131.72 276 132.8 C276.13 133.88 275.9 134.93 275.4 136 C274.9 137.07 273.62 138.12 273 139.2 C272.38 140.28 272.15 141.42 271.7 142.5 C271.25 143.58 270.8 144.62 270.3 145.7 C269.8 146.78 269.23 147.92 268.7 149 C268.17 150.08 267.42 151.13 267.1 152.2 C266.78 153.27 266.98 154.32 266.8 155.4 C266.62 156.48 266.67 157.62 266 158.7 C265.33 159.78 263.73 160.83 262.8 161.9 C261.88 162.97 260.85 163.67 260.45 165.1 C260.05 166.53 260.43 167.25 260.42 170.5 C260.42 173.75 260.28 181.35 260.42 184.6 C260.56 187.85 261.25 188.2 261.25 190 C261.25 191.8 260.58 193.6 260.42 195.4 C260.26 197.2 260.32 199.91 260.3 200.81 C260.28 199.91 260.34 197.2 260.18 195.4 C260.02 193.6 259.35 191.8 259.35 190 C259.35 188.2 260.04 187.85 260.18 184.6 C260.32 181.35 260.19 173.75 260.18 170.5 C260.18 167.25 260.55 166.53 260.15 165.1 C259.75 163.67 258.73 162.97 257.8 161.9 C256.88 160.83 255.27 159.78 254.6 158.7 C253.93 157.62 253.98 156.48 253.8 155.4 C253.62 154.32 253.82 153.27 253.5 152.2 C253.18 151.13 252.43 150.08 251.9 149 C251.37 147.92 250.8 146.78 250.3 145.7 C249.8 144.62 249.35 143.58 248.9 142.5 C248.45 141.42 248.22 140.28 247.6 139.2 C246.98 138.12 245.7 137.07 245.2 136 C244.7 134.93 244.47 133.88 244.6 132.8 C244.73 131.72 245.32 130.58 246 129.5 C246.68 128.42 247.72 127.37 248.7 126.3 C249.68 125.23 250.83 124.18 251.9 123.1 C252.97 122.02 253.99 120.88 255.1 119.8 C256.21 118.72 257.71 117.68 258.55 116.6 C259.39 115.52 259.86 114.62 260.15 113.3 C260.44 111.98 260.28 109.46 260.3 108.69Z" fill="none" stroke="#000" stroke-width="2.2" stroke-linejoin="round"/>
<circle cx="254.17" cy="120.47" r="1.05" fill="#6fe52e"/><circle cx="250.07" cy="144.23" r="1.05" fill="#6fe52e"/>
<line x1="246.4" y1="137.6" x2="274.2" y2="137.6" stroke="#000" stroke-width="3" stroke-dasharray="9 3.6" stroke-dashoffset="9.4"/>
<line x1="247.21" y1="130.9" x2="273.39" y2="130.9" stroke="#000" stroke-width="3.3" stroke-linecap="round" stroke-dasharray="0.3 5.9" stroke-dashoffset="6.74"/>
<line x1="253.02" y1="147.6" x2="267.58" y2="147.6" stroke="#000" stroke-width="3.3" stroke-linecap="round" stroke-dasharray="0.3 5.9" stroke-dashoffset="7.13"/>
<path d="M312.5 97.99 C312.52 99.02 312.29 102.43 312.62 104.2 C312.95 105.97 313.64 106.93 314.5 108.6 C315.36 110.27 316.78 112.35 317.8 114.2 C318.82 116.05 319.77 118.23 320.6 119.7 C321.43 121.17 322.07 121.88 322.8 123 C323.53 124.12 324.25 125.28 325 126.4 C325.75 127.52 326.78 128.6 327.3 129.7 C327.82 130.8 328.1 131.9 328.1 133 C328.1 134.1 327.82 135.18 327.3 136.3 C326.78 137.42 325.65 138.58 325 139.7 C324.35 140.82 323.77 141.9 323.4 143 C323.03 144.1 323.17 145.2 322.8 146.3 C322.43 147.4 321.93 148.3 321.2 149.6 C320.47 150.9 319.42 152.62 318.4 154.1 C317.38 155.58 316.06 157.22 315.1 158.5 C314.14 159.78 313.06 160.68 312.65 161.8 C312.24 162.92 312.62 161.32 312.62 165.2 C312.62 169.08 312.51 181.05 312.62 185.1 C312.73 189.15 313.25 188.02 313.25 189.5 C313.25 190.98 312.75 192.4 312.62 194 C312.5 195.6 312.52 198.26 312.5 199.11 C312.48 198.26 312.5 195.6 312.38 194 C312.25 192.4 311.75 190.98 311.75 189.5 C311.75 188.02 312.27 189.15 312.38 185.1 C312.49 181.05 312.38 169.08 312.38 165.2 C312.38 161.32 312.76 162.92 312.35 161.8 C311.94 160.68 310.86 159.78 309.9 158.5 C308.94 157.22 307.62 155.58 306.6 154.1 C305.58 152.62 304.53 150.9 303.8 149.6 C303.07 148.3 302.57 147.4 302.2 146.3 C301.83 145.2 301.97 144.1 301.6 143 C301.23 141.9 300.65 140.82 300 139.7 C299.35 138.58 298.22 137.42 297.7 136.3 C297.18 135.18 296.9 134.1 296.9 133 C296.9 131.9 297.18 130.8 297.7 129.7 C298.22 128.6 299.25 127.52 300 126.4 C300.75 125.28 301.47 124.12 302.2 123 C302.93 121.88 303.57 121.17 304.4 119.7 C305.23 118.23 306.18 116.05 307.2 114.2 C308.22 112.35 309.64 110.27 310.5 108.6 C311.36 106.93 312.05 105.97 312.38 104.2 C312.71 102.43 312.48 99.02 312.5 97.99Z" fill="url(#pdg)" stroke="none"/>
<circle cx="296.90" cy="122.00" r="0.90" fill="#238a4e"/><circle cx="299.50" cy="122.00" r="0.90" fill="#238a4e"/><circle cx="302.10" cy="122.00" r="0.90" fill="#238a4e"/><circle cx="304.70" cy="122.00" r="0.90" fill="#238a4e"/><circle cx="307.30" cy="122.00" r="0.90" fill="#238a4e"/><circle cx="309.90" cy="122.00" r="0.90" fill="#238a4e"/><circle cx="312.50" cy="122.00" r="0.90" fill="#238a4e"/><circle cx="315.10" cy="122.00" r="0.90" fill="#238a4e"/><circle cx="317.70" cy="122.00" r="0.90" fill="#238a4e"/><circle cx="320.30" cy="122.00" r="0.90" fill="#238a4e"/><circle cx="322.90" cy="122.00" r="0.90" fill="#238a4e"/><circle cx="325.50" cy="122.00" r="0.90" fill="#238a4e"/>
<path d="M312.5 97.99 C312.52 99.02 312.29 102.43 312.62 104.2 C312.95 105.97 313.64 106.93 314.5 108.6 C315.36 110.27 316.78 112.35 317.8 114.2 C318.82 116.05 319.77 118.23 320.6 119.7 C321.43 121.17 322.07 121.88 322.8 123 C323.53 124.12 324.25 125.28 325 126.4 C325.75 127.52 326.78 128.6 327.3 129.7 C327.82 130.8 328.1 131.9 328.1 133 C328.1 134.1 327.82 135.18 327.3 136.3 C326.78 137.42 325.65 138.58 325 139.7 C324.35 140.82 323.77 141.9 323.4 143 C323.03 144.1 323.17 145.2 322.8 146.3 C322.43 147.4 321.93 148.3 321.2 149.6 C320.47 150.9 319.42 152.62 318.4 154.1 C317.38 155.58 316.06 157.22 315.1 158.5 C314.14 159.78 313.06 160.68 312.65 161.8 C312.24 162.92 312.62 161.32 312.62 165.2 C312.62 169.08 312.51 181.05 312.62 185.1 C312.73 189.15 313.25 188.02 313.25 189.5 C313.25 190.98 312.75 192.4 312.62 194 C312.5 195.6 312.52 198.26 312.5 199.11 C312.48 198.26 312.5 195.6 312.38 194 C312.25 192.4 311.75 190.98 311.75 189.5 C311.75 188.02 312.27 189.15 312.38 185.1 C312.49 181.05 312.38 169.08 312.38 165.2 C312.38 161.32 312.76 162.92 312.35 161.8 C311.94 160.68 310.86 159.78 309.9 158.5 C308.94 157.22 307.62 155.58 306.6 154.1 C305.58 152.62 304.53 150.9 303.8 149.6 C303.07 148.3 302.57 147.4 302.2 146.3 C301.83 145.2 301.97 144.1 301.6 143 C301.23 141.9 300.65 140.82 300 139.7 C299.35 138.58 298.22 137.42 297.7 136.3 C297.18 135.18 296.9 134.1 296.9 133 C296.9 131.9 297.18 130.8 297.7 129.7 C298.22 128.6 299.25 127.52 300 126.4 C300.75 125.28 301.47 124.12 302.2 123 C302.93 121.88 303.57 121.17 304.4 119.7 C305.23 118.23 306.18 116.05 307.2 114.2 C308.22 112.35 309.64 110.27 310.5 108.6 C311.36 106.93 312.05 105.97 312.38 104.2 C312.71 102.43 312.48 99.02 312.5 97.99Z" fill="none" stroke="#000" stroke-width="2.2" stroke-linejoin="round"/>
<circle cx="308.03" cy="112.19" r="1.05" fill="#1f884a"/><circle cx="304.12" cy="119.68" r="1.05" fill="#1f884a"/><circle cx="302.1" cy="122.13" r="1.05" fill="#1f884a"/><circle cx="297.51" cy="129.11" r="1.05" fill="#1f884a"/><circle cx="328.86" cy="133.29" r="1.05" fill="#1f884a"/><circle cx="327.88" cy="135.82" r="1.05" fill="#1f884a"/><circle cx="301.06" cy="140.02" r="1.05" fill="#1f884a"/><circle cx="300.75" cy="142.55" r="1.05" fill="#1f884a"/><circle cx="323.67" cy="142.06" r="1.05" fill="#1f884a"/><circle cx="302.85" cy="144.47" r="1.05" fill="#1f884a"/><circle cx="322.31" cy="144.13" r="1.05" fill="#1f884a"/><circle cx="322.82" cy="147.1" r="1.05" fill="#1f884a"/><circle cx="302.51" cy="148.69" r="1.05" fill="#1f884a"/><circle cx="320.8" cy="149.18" r="1.05" fill="#1f884a"/><circle cx="304.09" cy="151.44" r="1.05" fill="#1f884a"/><circle cx="320.32" cy="151.1" r="1.05" fill="#1f884a"/><circle cx="318.8" cy="154.44" r="1.05" fill="#1f884a"/><circle cx="317.73" cy="156.36" r="1.05" fill="#1f884a"/><circle cx="310.81" cy="158.61" r="1.05" fill="#1f884a"/>
<line x1="297.26" y1="134.5" x2="327.74" y2="134.5" stroke="#000" stroke-width="3" stroke-dasharray="9 3.6" stroke-dashoffset="10.74"/>
<line x1="301.45" y1="126.9" x2="323.55" y2="126.9" stroke="#000" stroke-width="3.3" stroke-linecap="round" stroke-dasharray="0.3 5.9" stroke-dashoffset="10.9"/>
<line x1="303.76" y1="145" x2="321.24" y2="145" stroke="#000" stroke-width="3.3" stroke-linecap="round" stroke-dasharray="0.3 5.9" stroke-dashoffset="8.59"/>
<path d="M386.5 53 V214 H507" fill="none" stroke="#1a1a1a" stroke-width="1.4"/>
<line x1="381.9" y1="53.7" x2="386.5" y2="53.7" stroke="#1a1a1a" stroke-width="1.25"/>
<text x="380.2" y="57.2" font-size="8.2" text-anchor="end" font-weight="normal" fill="#111" stroke="#111" stroke-width="0.12">5</text>
<line x1="381.9" y1="85.8" x2="386.5" y2="85.8" stroke="#1a1a1a" stroke-width="1.25"/>
<text x="380.2" y="89.3" font-size="8.2" text-anchor="end" font-weight="normal" fill="#111" stroke="#111" stroke-width="0.12">4</text>
<line x1="381.9" y1="118" x2="386.5" y2="118" stroke="#1a1a1a" stroke-width="1.25"/>
<text x="380.2" y="121.5" font-size="8.2" text-anchor="end" font-weight="normal" fill="#111" stroke="#111" stroke-width="0.12">3</text>
<line x1="381.9" y1="150.2" x2="386.5" y2="150.2" stroke="#1a1a1a" stroke-width="1.25"/>
<text x="380.2" y="153.7" font-size="8.2" text-anchor="end" font-weight="normal" fill="#111" stroke="#111" stroke-width="0.12">2</text>
<line x1="381.9" y1="182.2" x2="386.5" y2="182.2" stroke="#1a1a1a" stroke-width="1.25"/>
<text x="380.2" y="185.7" font-size="8.2" text-anchor="end" font-weight="normal" fill="#111" stroke="#111" stroke-width="0.12">1</text>
<line x1="381.9" y1="214" x2="386.5" y2="214" stroke="#1a1a1a" stroke-width="1.25"/>
<text x="380.2" y="217.5" font-size="8.2" text-anchor="end" font-weight="normal" fill="#111" stroke="#111" stroke-width="0.12">0</text>
<line x1="421.2" y1="214" x2="421.2" y2="218.2" stroke="#1a1a1a" stroke-width="1.4"/>
<line x1="473.4" y1="214" x2="473.4" y2="218.2" stroke="#1a1a1a" stroke-width="1.4"/>
<text transform="translate(371.2 133.85) rotate(-90)" font-size="10.53" text-anchor="middle" fill="#111" stroke="#111" stroke-width="0.15">Log-transformed PAGln</text>
<text x="448" y="25" font-size="11.8" text-anchor="middle" font-weight="normal" textLength="129" lengthAdjust="spacingAndGlyphs" fill="#111" stroke="#111" stroke-width="0.22">Phenylacetylglutamine</text>
<text x="447.5" y="41.8" font-size="11.8" text-anchor="middle" font-weight="normal" textLength="42.2" lengthAdjust="spacingAndGlyphs" fill="#111" stroke="#111" stroke-width="0.22">(PAGln)</text>
<path d="M421.2 68.5 V61.3 H473.4 V68.5" fill="none" stroke="#111" stroke-width="1.3"/>
<text x="447.7" y="62" font-size="17.5" text-anchor="middle" font-weight="bold" textLength="13.2" lengthAdjust="spacingAndGlyphs" fill="#111">**</text>
<text x="413.1" y="230" font-size="10.7" text-anchor="middle" font-weight="normal" textLength="54.2" lengthAdjust="spacingAndGlyphs" fill="#111" stroke="#111" stroke-width="0.12">Early-stage</text>
<text x="413.1" y="244" font-size="10.7" text-anchor="middle" font-weight="normal" textLength="13.2" lengthAdjust="spacingAndGlyphs" fill="#111" stroke="#111" stroke-width="0.12">PD</text>
<text x="485.3" y="230" font-size="10.7" text-anchor="middle" font-weight="normal" textLength="78.5" lengthAdjust="spacingAndGlyphs" fill="#111" stroke="#111" stroke-width="0.12">Advanced-stage</text>
<text x="485.3" y="244" font-size="10.7" text-anchor="middle" font-weight="normal" textLength="13.2" lengthAdjust="spacingAndGlyphs" fill="#111" stroke="#111" stroke-width="0.12">PD</text>
<path d="M421.3 100.29 C421.32 100.84 421.21 102.65 421.42 103.6 C421.63 104.55 421.82 105.22 422.55 106 C423.28 106.78 424.79 107.52 425.8 108.3 C426.81 109.08 427.75 109.92 428.6 110.7 C429.45 111.48 430.58 112.08 430.9 113 C431.22 113.92 430.82 115.28 430.5 116.2 C430.18 117.12 428.73 117.6 429 118.5 C429.27 119.4 431.12 120.55 432.1 121.6 C433.08 122.65 434.12 123.75 434.9 124.8 C435.68 125.85 436.45 127.12 436.8 127.9 C437.15 128.68 437.38 128.85 437 129.5 C436.62 130.15 435.52 131.02 434.5 131.8 C433.48 132.58 432.02 133.42 430.9 134.2 C429.78 134.98 428.7 135.72 427.8 136.5 C426.9 137.28 426.31 138.12 425.5 138.9 C424.69 139.68 423.63 140.28 422.95 141.2 C422.27 142.12 421.33 143.22 421.42 144.4 C421.51 145.58 423 147.13 423.5 148.3 C424 149.47 424.56 150.35 424.4 151.4 C424.24 152.45 423.05 153.55 422.55 154.6 C422.05 155.65 421.52 156.53 421.42 157.7 C421.32 158.87 421.95 160.3 421.95 161.6 C421.95 162.9 421.53 164.03 421.42 165.5 C421.31 166.97 421.32 169.59 421.3 170.41 C421.28 169.59 421.29 166.97 421.18 165.5 C421.07 164.03 420.65 162.9 420.65 161.6 C420.65 160.3 421.28 158.87 421.18 157.7 C421.08 156.53 420.55 155.65 420.05 154.6 C419.55 153.55 418.36 152.45 418.2 151.4 C418.04 150.35 418.6 149.47 419.1 148.3 C419.6 147.13 421.09 145.58 421.18 144.4 C421.27 143.22 420.33 142.12 419.65 141.2 C418.97 140.28 417.91 139.68 417.1 138.9 C416.29 138.12 415.7 137.28 414.8 136.5 C413.9 135.72 412.82 134.98 411.7 134.2 C410.58 133.42 409.12 132.58 408.1 131.8 C407.08 131.02 405.98 130.15 405.6 129.5 C405.22 128.85 405.45 128.68 405.8 127.9 C406.15 127.12 406.92 125.85 407.7 124.8 C408.48 123.75 409.52 122.65 410.5 121.6 C411.48 120.55 413.33 119.4 413.6 118.5 C413.87 117.6 412.42 117.12 412.1 116.2 C411.78 115.28 411.38 113.92 411.7 113 C412.02 112.08 413.15 111.48 414 110.7 C414.85 109.92 415.79 109.08 416.8 108.3 C417.81 107.52 419.32 106.78 420.05 106 C420.78 105.22 420.97 104.55 421.18 103.6 C421.39 102.65 421.28 100.84 421.3 100.29Z" fill="url(#plg)" stroke="none"/>

<path d="M421.3 100.29 C421.32 100.84 421.21 102.65 421.42 103.6 C421.63 104.55 421.82 105.22 422.55 106 C423.28 106.78 424.79 107.52 425.8 108.3 C426.81 109.08 427.75 109.92 428.6 110.7 C429.45 111.48 430.58 112.08 430.9 113 C431.22 113.92 430.82 115.28 430.5 116.2 C430.18 117.12 428.73 117.6 429 118.5 C429.27 119.4 431.12 120.55 432.1 121.6 C433.08 122.65 434.12 123.75 434.9 124.8 C435.68 125.85 436.45 127.12 436.8 127.9 C437.15 128.68 437.38 128.85 437 129.5 C436.62 130.15 435.52 131.02 434.5 131.8 C433.48 132.58 432.02 133.42 430.9 134.2 C429.78 134.98 428.7 135.72 427.8 136.5 C426.9 137.28 426.31 138.12 425.5 138.9 C424.69 139.68 423.63 140.28 422.95 141.2 C422.27 142.12 421.33 143.22 421.42 144.4 C421.51 145.58 423 147.13 423.5 148.3 C424 149.47 424.56 150.35 424.4 151.4 C424.24 152.45 423.05 153.55 422.55 154.6 C422.05 155.65 421.52 156.53 421.42 157.7 C421.32 158.87 421.95 160.3 421.95 161.6 C421.95 162.9 421.53 164.03 421.42 165.5 C421.31 166.97 421.32 169.59 421.3 170.41 C421.28 169.59 421.29 166.97 421.18 165.5 C421.07 164.03 420.65 162.9 420.65 161.6 C420.65 160.3 421.28 158.87 421.18 157.7 C421.08 156.53 420.55 155.65 420.05 154.6 C419.55 153.55 418.36 152.45 418.2 151.4 C418.04 150.35 418.6 149.47 419.1 148.3 C419.6 147.13 421.09 145.58 421.18 144.4 C421.27 143.22 420.33 142.12 419.65 141.2 C418.97 140.28 417.91 139.68 417.1 138.9 C416.29 138.12 415.7 137.28 414.8 136.5 C413.9 135.72 412.82 134.98 411.7 134.2 C410.58 133.42 409.12 132.58 408.1 131.8 C407.08 131.02 405.98 130.15 405.6 129.5 C405.22 128.85 405.45 128.68 405.8 127.9 C406.15 127.12 406.92 125.85 407.7 124.8 C408.48 123.75 409.52 122.65 410.5 121.6 C411.48 120.55 413.33 119.4 413.6 118.5 C413.87 117.6 412.42 117.12 412.1 116.2 C411.78 115.28 411.38 113.92 411.7 113 C412.02 112.08 413.15 111.48 414 110.7 C414.85 109.92 415.79 109.08 416.8 108.3 C417.81 107.52 419.32 106.78 420.05 106 C420.78 105.22 420.97 104.55 421.18 103.6 C421.39 102.65 421.28 100.84 421.3 100.29Z" fill="none" stroke="#000" stroke-width="2.2" stroke-linejoin="round"/>
<circle cx="429.38" cy="112.57" r="1.05" fill="#6fe52e"/>
<line x1="406.54" y1="126.7" x2="436.06" y2="126.7" stroke="#000" stroke-width="3" stroke-dasharray="9 3.6" stroke-dashoffset="10.26"/>
<line x1="414.62" y1="117.3" x2="427.98" y2="117.3" stroke="#000" stroke-width="3.3" stroke-linecap="round" stroke-dasharray="0.3 5.9" stroke-dashoffset="6.53"/>
<line x1="409.03" y1="131" x2="433.57" y2="131" stroke="#000" stroke-width="3.3" stroke-linecap="round" stroke-dasharray="0.3 5.9" stroke-dashoffset="12.12"/>
<path d="M473.6 75.19 C473.62 75.88 473.7 75.5 473.72 79.3 C473.74 83.1 473.45 94.42 473.72 98 C473.99 101.58 473.97 99.72 475.35 100.8 C476.73 101.88 480.11 103.27 482 104.5 C483.89 105.73 485.53 106.97 486.7 108.2 C487.87 109.43 488.77 110.65 489 111.9 C489.23 113.15 488.42 114.45 488.1 115.7 C487.78 116.95 487.65 118.17 487.1 119.4 C486.55 120.63 485.8 121.87 484.8 123.1 C483.8 124.33 481.95 125.55 481.1 126.8 C480.25 128.05 480.02 129.2 479.7 130.6 C479.38 132 479.52 133.65 479.2 135.2 C478.88 136.75 478.27 138.33 477.8 139.9 C477.33 141.47 476.81 143.05 476.4 144.6 C475.99 146.15 475.76 147.65 475.35 149.2 C474.94 150.75 474.24 152.05 473.95 153.9 C473.66 155.75 473.66 159.24 473.6 160.31 C473.54 159.24 473.54 155.75 473.25 153.9 C472.96 152.05 472.26 150.75 471.85 149.2 C471.44 147.65 471.21 146.15 470.8 144.6 C470.39 143.05 469.87 141.47 469.4 139.9 C468.93 138.33 468.32 136.75 468 135.2 C467.68 133.65 467.82 132 467.5 130.6 C467.18 129.2 466.95 128.05 466.1 126.8 C465.25 125.55 463.4 124.33 462.4 123.1 C461.4 121.87 460.65 120.63 460.1 119.4 C459.55 118.17 459.42 116.95 459.1 115.7 C458.78 114.45 457.97 113.15 458.2 111.9 C458.43 110.65 459.33 109.43 460.5 108.2 C461.67 106.97 463.31 105.73 465.2 104.5 C467.09 103.27 470.47 101.88 471.85 100.8 C473.23 99.72 473.21 101.58 473.48 98 C473.75 94.42 473.46 83.1 473.48 79.3 C473.5 75.5 473.58 75.88 473.6 75.19Z" fill="url(#pdg)" stroke="none"/>

<path d="M473.6 75.19 C473.62 75.88 473.7 75.5 473.72 79.3 C473.74 83.1 473.45 94.42 473.72 98 C473.99 101.58 473.97 99.72 475.35 100.8 C476.73 101.88 480.11 103.27 482 104.5 C483.89 105.73 485.53 106.97 486.7 108.2 C487.87 109.43 488.77 110.65 489 111.9 C489.23 113.15 488.42 114.45 488.1 115.7 C487.78 116.95 487.65 118.17 487.1 119.4 C486.55 120.63 485.8 121.87 484.8 123.1 C483.8 124.33 481.95 125.55 481.1 126.8 C480.25 128.05 480.02 129.2 479.7 130.6 C479.38 132 479.52 133.65 479.2 135.2 C478.88 136.75 478.27 138.33 477.8 139.9 C477.33 141.47 476.81 143.05 476.4 144.6 C475.99 146.15 475.76 147.65 475.35 149.2 C474.94 150.75 474.24 152.05 473.95 153.9 C473.66 155.75 473.66 159.24 473.6 160.31 C473.54 159.24 473.54 155.75 473.25 153.9 C472.96 152.05 472.26 150.75 471.85 149.2 C471.44 147.65 471.21 146.15 470.8 144.6 C470.39 143.05 469.87 141.47 469.4 139.9 C468.93 138.33 468.32 136.75 468 135.2 C467.68 133.65 467.82 132 467.5 130.6 C467.18 129.2 466.95 128.05 466.1 126.8 C465.25 125.55 463.4 124.33 462.4 123.1 C461.4 121.87 460.65 120.63 460.1 119.4 C459.55 118.17 459.42 116.95 459.1 115.7 C458.78 114.45 457.97 113.15 458.2 111.9 C458.43 110.65 459.33 109.43 460.5 108.2 C461.67 106.97 463.31 105.73 465.2 104.5 C467.09 103.27 470.47 101.88 471.85 100.8 C473.23 99.72 473.21 101.58 473.48 98 C473.75 94.42 473.46 83.1 473.48 79.3 C473.5 75.5 473.58 75.88 473.6 75.19Z" fill="none" stroke="#000" stroke-width="2.2" stroke-linejoin="round"/>
<circle cx="463.42" cy="105.52" r="1.05" fill="#1f884a"/><circle cx="485.98" cy="107.68" r="1.05" fill="#1f884a"/><circle cx="488.4" cy="110.36" r="1.05" fill="#1f884a"/><circle cx="489.02" cy="114.75" r="1.05" fill="#1f884a"/><circle cx="487.17" cy="117.33" r="1.05" fill="#1f884a"/><circle cx="487.69" cy="119.7" r="1.05" fill="#1f884a"/><circle cx="462.27" cy="121.84" r="1.05" fill="#1f884a"/><circle cx="464.99" cy="126.4" r="1.05" fill="#1f884a"/><circle cx="468.05" cy="133.81" r="1.05" fill="#1f884a"/><circle cx="478.9" cy="133.79" r="1.05" fill="#1f884a"/><circle cx="467.19" cy="135.92" r="1.05" fill="#1f884a"/><circle cx="478.53" cy="136.03" r="1.05" fill="#1f884a"/><circle cx="478.36" cy="138.05" r="1.05" fill="#1f884a"/><circle cx="476.8" cy="140.39" r="1.05" fill="#1f884a"/><circle cx="476.32" cy="142.97" r="1.05" fill="#1f884a"/>
<line x1="460.1" y1="119.4" x2="487.1" y2="119.4" stroke="#000" stroke-width="3" stroke-dasharray="9 3.6" stroke-dashoffset="9"/>
<line x1="460.12" y1="112.4" x2="487.08" y2="112.4" stroke="#000" stroke-width="3.3" stroke-linecap="round" stroke-dasharray="0.3 5.9" stroke-dashoffset="7.13"/>
<line x1="468.42" y1="128.2" x2="478.78" y2="128.2" stroke="#000" stroke-width="3.3" stroke-linecap="round" stroke-dasharray="0.3 5.9" stroke-dashoffset="11.23"/>
<path d="M545.4 52.4 V213.6 H667" fill="none" stroke="#1a1a1a" stroke-width="1.4"/>
<line x1="540.8" y1="53.1" x2="545.4" y2="53.1" stroke="#1a1a1a" stroke-width="1.25"/>
<text x="539.1" y="56.6" font-size="8.2" text-anchor="end" font-weight="normal" fill="#111" stroke="#111" stroke-width="0.12">3</text>
<line x1="540.8" y1="106.7" x2="545.4" y2="106.7" stroke="#1a1a1a" stroke-width="1.25"/>
<text x="539.1" y="110.2" font-size="8.2" text-anchor="end" font-weight="normal" fill="#111" stroke="#111" stroke-width="0.12">2</text>
<line x1="540.8" y1="160.3" x2="545.4" y2="160.3" stroke="#1a1a1a" stroke-width="1.25"/>
<text x="539.1" y="163.8" font-size="8.2" text-anchor="end" font-weight="normal" fill="#111" stroke="#111" stroke-width="0.12">1</text>
<line x1="540.8" y1="213.6" x2="545.4" y2="213.6" stroke="#1a1a1a" stroke-width="1.25"/>
<text x="539.1" y="217.1" font-size="8.2" text-anchor="end" font-weight="normal" fill="#111" stroke="#111" stroke-width="0.12">0</text>
<line x1="580.2" y1="213.6" x2="580.2" y2="217.8" stroke="#1a1a1a" stroke-width="1.4"/>
<line x1="632.6" y1="213.6" x2="632.6" y2="217.8" stroke="#1a1a1a" stroke-width="1.4"/>
<text transform="translate(530.1 133.35) rotate(-90)" font-size="10.53" text-anchor="middle" fill="#111" stroke="#111" stroke-width="0.15">Log-transformed PLA</text>
<text x="601.9" y="25" font-size="11.8" text-anchor="middle" font-weight="normal" textLength="93.3" lengthAdjust="spacingAndGlyphs" fill="#111" stroke="#111" stroke-width="0.22">Phenyllactic acid</text>
<text x="601.9" y="41.8" font-size="11.8" text-anchor="middle" font-weight="normal" textLength="29.7" lengthAdjust="spacingAndGlyphs" fill="#111" stroke="#111" stroke-width="0.22">(PLA)</text>
<path d="M580.2 78.8 V72.3 H632.6 V78.8" fill="none" stroke="#111" stroke-width="1.3"/>
<text x="606.5" y="66.3" font-size="8.2" text-anchor="middle" font-weight="normal" textLength="8.3" lengthAdjust="spacingAndGlyphs" fill="#222">ns</text>
<text x="573.1" y="228.9" font-size="10.7" text-anchor="middle" font-weight="normal" textLength="54.2" lengthAdjust="spacingAndGlyphs" fill="#111" stroke="#111" stroke-width="0.12">Early-stage</text>
<text x="573.1" y="242.9" font-size="10.7" text-anchor="middle" font-weight="normal" textLength="13.2" lengthAdjust="spacingAndGlyphs" fill="#111" stroke="#111" stroke-width="0.12">PD</text>
<text x="645.5" y="228.9" font-size="10.7" text-anchor="middle" font-weight="normal" textLength="78.5" lengthAdjust="spacingAndGlyphs" fill="#111" stroke="#111" stroke-width="0.12">Advanced-stage</text>
<text x="645.5" y="242.9" font-size="10.7" text-anchor="middle" font-weight="normal" textLength="13.2" lengthAdjust="spacingAndGlyphs" fill="#111" stroke="#111" stroke-width="0.12">PD</text>
<path d="M580.3 105.19 C580.32 105.86 579.92 107.98 580.42 109.2 C580.92 110.42 582.2 111.25 583.3 112.5 C584.4 113.75 586.17 115.32 587 116.7 C587.83 118.08 588.15 119.42 588.3 120.8 C588.45 122.18 588.12 123.75 587.9 125 C587.68 126.25 586.52 127.18 587 128.3 C587.48 129.42 589.68 130.58 590.8 131.7 C591.92 132.82 592.8 133.82 593.7 135 C594.6 136.18 596.27 137.68 596.2 138.8 C596.13 139.92 594.42 140.67 593.3 141.7 C592.18 142.73 590.13 143.9 589.5 145 C588.87 146.1 589.22 147.18 589.5 148.3 C589.78 149.42 591.2 150.72 591.2 151.7 C591.2 152.68 590.68 153.23 589.5 154.2 C588.32 155.17 585.51 156.4 584.1 157.5 C582.69 158.6 581.59 159.55 581.05 160.8 C580.51 162.05 580.95 163.33 580.85 165 C580.74 166.67 580.51 168.4 580.42 170.8 C580.33 173.2 580.32 177.97 580.3 179.41 C580.28 177.97 580.27 173.2 580.18 170.8 C580.09 168.4 579.86 166.67 579.75 165 C579.64 163.33 580.09 162.05 579.55 160.8 C579.01 159.55 577.91 158.6 576.5 157.5 C575.09 156.4 572.28 155.17 571.1 154.2 C569.92 153.23 569.4 152.68 569.4 151.7 C569.4 150.72 570.82 149.42 571.1 148.3 C571.38 147.18 571.73 146.1 571.1 145 C570.47 143.9 568.42 142.73 567.3 141.7 C566.18 140.67 564.47 139.92 564.4 138.8 C564.33 137.68 566 136.18 566.9 135 C567.8 133.82 568.68 132.82 569.8 131.7 C570.92 130.58 573.12 129.42 573.6 128.3 C574.08 127.18 572.92 126.25 572.7 125 C572.48 123.75 572.15 122.18 572.3 120.8 C572.45 119.42 572.77 118.08 573.6 116.7 C574.43 115.32 576.2 113.75 577.3 112.5 C578.4 111.25 579.68 110.42 580.18 109.2 C580.68 107.98 580.28 105.86 580.3 105.19Z" fill="url(#plg)" stroke="none"/>

<path d="M580.3 105.19 C580.32 105.86 579.92 107.98 580.42 109.2 C580.92 110.42 582.2 111.25 583.3 112.5 C584.4 113.75 586.17 115.32 587 116.7 C587.83 118.08 588.15 119.42 588.3 120.8 C588.45 122.18 588.12 123.75 587.9 125 C587.68 126.25 586.52 127.18 587 128.3 C587.48 129.42 589.68 130.58 590.8 131.7 C591.92 132.82 592.8 133.82 593.7 135 C594.6 136.18 596.27 137.68 596.2 138.8 C596.13 139.92 594.42 140.67 593.3 141.7 C592.18 142.73 590.13 143.9 589.5 145 C588.87 146.1 589.22 147.18 589.5 148.3 C589.78 149.42 591.2 150.72 591.2 151.7 C591.2 152.68 590.68 153.23 589.5 154.2 C588.32 155.17 585.51 156.4 584.1 157.5 C582.69 158.6 581.59 159.55 581.05 160.8 C580.51 162.05 580.95 163.33 580.85 165 C580.74 166.67 580.51 168.4 580.42 170.8 C580.33 173.2 580.32 177.97 580.3 179.41 C580.28 177.97 580.27 173.2 580.18 170.8 C580.09 168.4 579.86 166.67 579.75 165 C579.64 163.33 580.09 162.05 579.55 160.8 C579.01 159.55 577.91 158.6 576.5 157.5 C575.09 156.4 572.28 155.17 571.1 154.2 C569.92 153.23 569.4 152.68 569.4 151.7 C569.4 150.72 570.82 149.42 571.1 148.3 C571.38 147.18 571.73 146.1 571.1 145 C570.47 143.9 568.42 142.73 567.3 141.7 C566.18 140.67 564.47 139.92 564.4 138.8 C564.33 137.68 566 136.18 566.9 135 C567.8 133.82 568.68 132.82 569.8 131.7 C570.92 130.58 573.12 129.42 573.6 128.3 C574.08 127.18 572.92 126.25 572.7 125 C572.48 123.75 572.15 122.18 572.3 120.8 C572.45 119.42 572.77 118.08 573.6 116.7 C574.43 115.32 576.2 113.75 577.3 112.5 C578.4 111.25 579.68 110.42 580.18 109.2 C580.68 107.98 580.28 105.86 580.3 105.19Z" fill="none" stroke="#000" stroke-width="2.2" stroke-linejoin="round"/>
<circle cx="576.39" cy="113.36" r="1.05" fill="#6fe52e"/><circle cx="586.56" cy="114.75" r="1.05" fill="#6fe52e"/><circle cx="586.65" cy="128.75" r="1.05" fill="#6fe52e"/><circle cx="571.51" cy="131.28" r="1.05" fill="#6fe52e"/><circle cx="567.86" cy="142.27" r="1.05" fill="#6fe52e"/>
<line x1="564.43" y1="138.75" x2="596.17" y2="138.75" stroke="#000" stroke-width="3" stroke-dasharray="9 3.6" stroke-dashoffset="11.37"/>
<line x1="574.39" y1="129.2" x2="586.21" y2="129.2" stroke="#000" stroke-width="3.3" stroke-linecap="round" stroke-dasharray="0.3 5.9" stroke-dashoffset="11.96"/>
<line x1="572.8" y1="148.5" x2="587.8" y2="148.5" stroke="#000" stroke-width="3.3" stroke-linecap="round" stroke-dasharray="0.3 5.9" stroke-dashoffset="7.35"/>
<path d="M632.5 86.29 C632.52 87.14 632.6 87.42 632.62 91.4 C632.64 95.39 632.43 106.6 632.62 110.2 C632.81 113.8 633 111.97 633.75 113 C634.5 114.03 636.34 115.07 637.1 116.4 C637.86 117.73 638.27 119.47 638.3 121 C638.33 122.53 636.62 124.07 637.3 125.6 C637.98 127.13 640.9 128.67 642.4 130.2 C643.9 131.73 645.3 133.27 646.3 134.8 C647.3 136.33 648.28 137.87 648.4 139.4 C648.52 140.93 648.12 142.47 647 144 C645.88 145.53 643.23 147.07 641.7 148.6 C640.17 150.13 639.11 151.67 637.8 153.2 C636.49 154.73 634.71 156.33 633.85 157.8 C632.99 159.27 632.85 159.41 632.62 162 C632.39 164.59 632.52 171.43 632.5 173.31 C632.48 171.43 632.61 164.59 632.38 162 C632.15 159.41 632.01 159.27 631.15 157.8 C630.29 156.33 628.51 154.73 627.2 153.2 C625.89 151.67 624.83 150.13 623.3 148.6 C621.77 147.07 619.12 145.53 618 144 C616.88 142.47 616.48 140.93 616.6 139.4 C616.72 137.87 617.7 136.33 618.7 134.8 C619.7 133.27 621.1 131.73 622.6 130.2 C624.1 128.67 627.02 127.13 627.7 125.6 C628.38 124.07 626.67 122.53 626.7 121 C626.73 119.47 627.14 117.73 627.9 116.4 C628.66 115.07 630.5 114.03 631.25 113 C632 111.97 632.19 113.8 632.38 110.2 C632.57 106.6 632.36 95.39 632.38 91.4 C632.4 87.42 632.48 87.14 632.5 86.29Z" fill="url(#pdg)" stroke="none"/>

<path d="M632.5 86.29 C632.52 87.14 632.6 87.42 632.62 91.4 C632.64 95.39 632.43 106.6 632.62 110.2 C632.81 113.8 633 111.97 633.75 113 C634.5 114.03 636.34 115.07 637.1 116.4 C637.86 117.73 638.27 119.47 638.3 121 C638.33 122.53 636.62 124.07 637.3 125.6 C637.98 127.13 640.9 128.67 642.4 130.2 C643.9 131.73 645.3 133.27 646.3 134.8 C647.3 136.33 648.28 137.87 648.4 139.4 C648.52 140.93 648.12 142.47 647 144 C645.88 145.53 643.23 147.07 641.7 148.6 C640.17 150.13 639.11 151.67 637.8 153.2 C636.49 154.73 634.71 156.33 633.85 157.8 C632.99 159.27 632.85 159.41 632.62 162 C632.39 164.59 632.52 171.43 632.5 173.31 C632.48 171.43 632.61 164.59 632.38 162 C632.15 159.41 632.01 159.27 631.15 157.8 C630.29 156.33 628.51 154.73 627.2 153.2 C625.89 151.67 624.83 150.13 623.3 148.6 C621.77 147.07 619.12 145.53 618 144 C616.88 142.47 616.48 140.93 616.6 139.4 C616.72 137.87 617.7 136.33 618.7 134.8 C619.7 133.27 621.1 131.73 622.6 130.2 C624.1 128.67 627.02 127.13 627.7 125.6 C628.38 124.07 626.67 122.53 626.7 121 C626.73 119.47 627.14 117.73 627.9 116.4 C628.66 115.07 630.5 114.03 631.25 113 C632 111.97 632.19 113.8 632.38 110.2 C632.57 106.6 632.36 95.39 632.38 91.4 C632.4 87.42 632.48 87.14 632.5 86.29Z" fill="none" stroke="#000" stroke-width="2.2" stroke-linejoin="round"/>
<circle cx="627.27" cy="116.4" r="1.05" fill="#1f884a"/><circle cx="637.53" cy="116.58" r="1.05" fill="#1f884a"/><circle cx="625.96" cy="120.93" r="1.05" fill="#1f884a"/><circle cx="628.2" cy="124.33" r="1.05" fill="#1f884a"/><circle cx="628.14" cy="126.66" r="1.05" fill="#1f884a"/><circle cx="640.78" cy="128.22" r="1.05" fill="#1f884a"/><circle cx="622.58" cy="130.83" r="1.05" fill="#1f884a"/><circle cx="642.56" cy="130.25" r="1.05" fill="#1f884a"/><circle cx="647.52" cy="135.31" r="1.05" fill="#1f884a"/><circle cx="647.21" cy="139.33" r="1.05" fill="#1f884a"/><circle cx="618.64" cy="142.66" r="1.05" fill="#1f884a"/><circle cx="646.4" cy="144.96" r="1.05" fill="#1f884a"/><circle cx="643.74" cy="146.31" r="1.05" fill="#1f884a"/><circle cx="624.59" cy="148.94" r="1.05" fill="#1f884a"/><circle cx="642.36" cy="148.67" r="1.05" fill="#1f884a"/><circle cx="626.22" cy="150.98" r="1.05" fill="#1f884a"/><circle cx="638.67" cy="151.37" r="1.05" fill="#1f884a"/><circle cx="626.42" cy="153.53" r="1.05" fill="#1f884a"/>
<line x1="616.87" y1="138.8" x2="648.13" y2="138.8" stroke="#000" stroke-width="3" stroke-dasharray="9 3.6" stroke-dashoffset="11.13"/>
<line x1="623.72" y1="131" x2="641.28" y2="131" stroke="#000" stroke-width="3.3" stroke-linecap="round" stroke-dasharray="0.3 5.9" stroke-dashoffset="8.63"/>
<line x1="619.92" y1="144.1" x2="645.08" y2="144.1" stroke="#000" stroke-width="3.3" stroke-linecap="round" stroke-dasharray="0.3 5.9" stroke-dashoffset="6.23"/>
<path d="M67.1 313.7 V475.2 H188.4" fill="none" stroke="#1a1a1a" stroke-width="1.4"/>
<line x1="62.5" y1="314.4" x2="67.1" y2="314.4" stroke="#1a1a1a" stroke-width="1.25"/>
<text x="60.8" y="317.9" font-size="8.2" text-anchor="end" font-weight="normal" fill="#111" stroke="#111" stroke-width="0.12">4</text>
<line x1="62.5" y1="346.4" x2="67.1" y2="346.4" stroke="#1a1a1a" stroke-width="1.25"/>
<text x="60.8" y="349.9" font-size="8.2" text-anchor="end" font-weight="normal" fill="#111" stroke="#111" stroke-width="0.12">3</text>
<line x1="62.5" y1="378.7" x2="67.1" y2="378.7" stroke="#1a1a1a" stroke-width="1.25"/>
<text x="60.8" y="382.2" font-size="8.2" text-anchor="end" font-weight="normal" fill="#111" stroke="#111" stroke-width="0.12">2</text>
<line x1="62.5" y1="410.8" x2="67.1" y2="410.8" stroke="#1a1a1a" stroke-width="1.25"/>
<text x="60.8" y="414.3" font-size="8.2" text-anchor="end" font-weight="normal" fill="#111" stroke="#111" stroke-width="0.12">1</text>
<line x1="62.5" y1="443.1" x2="67.1" y2="443.1" stroke="#1a1a1a" stroke-width="1.25"/>
<text x="60.8" y="446.6" font-size="8.2" text-anchor="end" font-weight="normal" fill="#111" stroke="#111" stroke-width="0.12">0</text>
<line x1="62.5" y1="475.2" x2="67.1" y2="475.2" stroke="#1a1a1a" stroke-width="1.25"/>
<text x="60.8" y="478.7" font-size="8.2" text-anchor="end" font-weight="normal" fill="#111" stroke="#111" stroke-width="0.12">-1</text>
<line x1="102" y1="475.2" x2="102" y2="479.4" stroke="#1a1a1a" stroke-width="1.4"/>
<line x1="154.2" y1="475.2" x2="154.2" y2="479.4" stroke="#1a1a1a" stroke-width="1.4"/>
<line x1="67.1" y1="443.1" x2="188.4" y2="443.1" stroke="#000" stroke-width="1" stroke-dasharray="1.3 1.3"/>
<text transform="translate(49.2 394.8) rotate(-90)" font-size="10.53" text-anchor="middle" fill="#111" stroke="#111" stroke-width="0.15">Log-transformed PPA</text>
<text x="129.5" y="283.4" font-size="11.8" text-anchor="middle" font-weight="normal" textLength="118" lengthAdjust="spacingAndGlyphs" fill="#111" stroke="#111" stroke-width="0.22">Phenylpropionic acid</text>
<text x="129.2" y="299.6" font-size="11.8" text-anchor="middle" font-weight="normal" textLength="30.4" lengthAdjust="spacingAndGlyphs" fill="#111" stroke="#111" stroke-width="0.22">(PPA)</text>
<path d="M102 321 V314.4 H154.2 V321" fill="none" stroke="#111" stroke-width="1.3"/>
<text x="128.2" y="307.7" font-size="8.2" text-anchor="middle" font-weight="normal" textLength="8.3" lengthAdjust="spacingAndGlyphs" fill="#222">ns</text>
<text x="90" y="493.2" font-size="10.7" text-anchor="middle" font-weight="normal" textLength="54.2" lengthAdjust="spacingAndGlyphs" fill="#111" stroke="#111" stroke-width="0.12">Early-stage</text>
<text x="90" y="507.2" font-size="10.7" text-anchor="middle" font-weight="normal" textLength="13.2" lengthAdjust="spacingAndGlyphs" fill="#111" stroke="#111" stroke-width="0.12">PD</text>
<text x="162.6" y="493.2" font-size="10.7" text-anchor="middle" font-weight="normal" textLength="78.5" lengthAdjust="spacingAndGlyphs" fill="#111" stroke="#111" stroke-width="0.12">Advanced-stage</text>
<text x="162.6" y="507.2" font-size="10.7" text-anchor="middle" font-weight="normal" textLength="13.2" lengthAdjust="spacingAndGlyphs" fill="#111" stroke="#111" stroke-width="0.12">PD</text>
<path d="M102 349.79 C102.02 351.09 101.84 355.32 102.12 357.6 C102.4 359.88 102.97 361.53 103.65 363.5 C104.33 365.47 105.29 367.45 106.2 369.4 C107.11 371.35 108.12 373.25 109.1 375.2 C110.08 377.15 111.37 379.13 112.1 381.1 C112.83 383.07 113.22 385.03 113.5 387 C113.78 388.97 113.65 390.95 113.8 392.9 C113.95 394.85 114.5 396.95 114.4 398.7 C114.3 400.45 114.08 401.83 113.2 403.4 C112.32 404.97 110.37 406.53 109.1 408.1 C107.83 409.67 106.66 411.23 105.6 412.8 C104.54 414.37 103.26 416.32 102.75 417.5 C102.24 418.68 102.17 418.92 102.55 419.9 C102.92 420.88 103.61 422.23 105 423.4 C106.39 424.57 109.03 425.73 110.9 426.9 C112.77 428.07 115.13 429.32 116.2 430.4 C117.27 431.48 117.4 432.42 117.3 433.4 C117.2 434.38 116.97 435.03 115.6 436.3 C114.23 437.57 110.97 439.63 109.1 441 C107.23 442.37 105.56 443.32 104.4 444.5 C103.24 445.68 102.52 446.98 102.12 448.1 C101.72 449.22 102.02 450.69 102 451.21 C101.98 450.69 102.28 449.22 101.88 448.1 C101.48 446.98 100.76 445.68 99.6 444.5 C98.44 443.32 96.77 442.37 94.9 441 C93.03 439.63 89.77 437.57 88.4 436.3 C87.03 435.03 86.8 434.38 86.7 433.4 C86.6 432.42 86.73 431.48 87.8 430.4 C88.87 429.32 91.23 428.07 93.1 426.9 C94.97 425.73 97.61 424.57 99 423.4 C100.39 422.23 101.08 420.88 101.45 419.9 C101.83 418.92 101.76 418.68 101.25 417.5 C100.74 416.32 99.46 414.37 98.4 412.8 C97.34 411.23 96.17 409.67 94.9 408.1 C93.63 406.53 91.68 404.97 90.8 403.4 C89.92 401.83 89.7 400.45 89.6 398.7 C89.5 396.95 90.05 394.85 90.2 392.9 C90.35 390.95 90.22 388.97 90.5 387 C90.78 385.03 91.17 383.07 91.9 381.1 C92.63 379.13 93.92 377.15 94.9 375.2 C95.88 373.25 96.89 371.35 97.8 369.4 C98.71 367.45 99.67 365.47 100.35 363.5 C101.03 361.53 101.6 359.88 101.88 357.6 C102.16 355.32 101.98 351.09 102 349.79Z" fill="url(#pwh)" stroke="none"/>
<rect x="96.6" y="367" width="11" height="44" fill="url(#plg)"/><circle cx="87.30" cy="433.70" r="0.90" fill="#6fe52e"/><circle cx="89.70" cy="433.70" r="0.90" fill="#6fe52e"/><circle cx="92.10" cy="433.70" r="0.90" fill="#6fe52e"/><circle cx="94.50" cy="433.70" r="0.90" fill="#6fe52e"/><circle cx="96.90" cy="433.70" r="0.90" fill="#6fe52e"/><circle cx="99.30" cy="433.70" r="0.90" fill="#6fe52e"/><circle cx="101.70" cy="433.70" r="0.90" fill="#6fe52e"/><circle cx="104.10" cy="433.70" r="0.90" fill="#6fe52e"/><circle cx="106.50" cy="433.70" r="0.90" fill="#6fe52e"/><circle cx="108.90" cy="433.70" r="0.90" fill="#6fe52e"/><circle cx="111.30" cy="433.70" r="0.90" fill="#6fe52e"/><circle cx="113.70" cy="433.70" r="0.90" fill="#6fe52e"/><circle cx="116.10" cy="433.70" r="0.90" fill="#6fe52e"/>
<path d="M102 349.79 C102.02 351.09 101.84 355.32 102.12 357.6 C102.4 359.88 102.97 361.53 103.65 363.5 C104.33 365.47 105.29 367.45 106.2 369.4 C107.11 371.35 108.12 373.25 109.1 375.2 C110.08 377.15 111.37 379.13 112.1 381.1 C112.83 383.07 113.22 385.03 113.5 387 C113.78 388.97 113.65 390.95 113.8 392.9 C113.95 394.85 114.5 396.95 114.4 398.7 C114.3 400.45 114.08 401.83 113.2 403.4 C112.32 404.97 110.37 406.53 109.1 408.1 C107.83 409.67 106.66 411.23 105.6 412.8 C104.54 414.37 103.26 416.32 102.75 417.5 C102.24 418.68 102.17 418.92 102.55 419.9 C102.92 420.88 103.61 422.23 105 423.4 C106.39 424.57 109.03 425.73 110.9 426.9 C112.77 428.07 115.13 429.32 116.2 430.4 C117.27 431.48 117.4 432.42 117.3 433.4 C117.2 434.38 116.97 435.03 115.6 436.3 C114.23 437.57 110.97 439.63 109.1 441 C107.23 442.37 105.56 443.32 104.4 444.5 C103.24 445.68 102.52 446.98 102.12 448.1 C101.72 449.22 102.02 450.69 102 451.21 C101.98 450.69 102.28 449.22 101.88 448.1 C101.48 446.98 100.76 445.68 99.6 444.5 C98.44 443.32 96.77 442.37 94.9 441 C93.03 439.63 89.77 437.57 88.4 436.3 C87.03 435.03 86.8 434.38 86.7 433.4 C86.6 432.42 86.73 431.48 87.8 430.4 C88.87 429.32 91.23 428.07 93.1 426.9 C94.97 425.73 97.61 424.57 99 423.4 C100.39 422.23 101.08 420.88 101.45 419.9 C101.83 418.92 101.76 418.68 101.25 417.5 C100.74 416.32 99.46 414.37 98.4 412.8 C97.34 411.23 96.17 409.67 94.9 408.1 C93.63 406.53 91.68 404.97 90.8 403.4 C89.92 401.83 89.7 400.45 89.6 398.7 C89.5 396.95 90.05 394.85 90.2 392.9 C90.35 390.95 90.22 388.97 90.5 387 C90.78 385.03 91.17 383.07 91.9 381.1 C92.63 379.13 93.92 377.15 94.9 375.2 C95.88 373.25 96.89 371.35 97.8 369.4 C98.71 367.45 99.67 365.47 100.35 363.5 C101.03 361.53 101.6 359.88 101.88 357.6 C102.16 355.32 101.98 351.09 102 349.79Z" fill="none" stroke="#000" stroke-width="2.2" stroke-linejoin="round"/>
<line x1="90.49" y1="402.2" x2="113.51" y2="402.2" stroke="#000" stroke-width="3"/>
<line x1="92.2" y1="389" x2="111.8" y2="389" stroke="#000" stroke-width="3.3" stroke-linecap="round" stroke-dasharray="0.3 5.9" stroke-dashoffset="9.65"/>
<line x1="88.62" y1="433.6" x2="115.38" y2="433.6" stroke="#000" stroke-width="3.3" stroke-linecap="round" stroke-dasharray="0.3 5.9" stroke-dashoffset="7.03"/>
<path d="M154.4 328.19 C154.42 330.43 154.45 337.2 154.52 341.6 C154.59 346 154.63 351.35 154.85 354.6 C155.07 357.85 155.22 358.93 155.85 361.1 C156.47 363.27 157.38 365.42 158.6 367.6 C159.82 369.78 162 372.23 163.2 374.2 C164.4 376.17 165.25 377.67 165.8 379.4 C166.35 381.13 166.43 382.65 166.5 384.6 C166.57 386.55 166.32 388.93 166.2 391.1 C166.08 393.27 166.3 395.63 165.8 397.6 C165.3 399.57 164.17 401.15 163.2 402.9 C162.23 404.65 161.22 406.37 160 408.1 C158.78 409.83 156.71 411.57 155.85 413.3 C154.99 415.03 154.39 416.77 154.85 418.5 C155.31 420.23 156.66 421.97 158.6 423.7 C160.54 425.43 164.53 427.37 166.5 428.9 C168.47 430.43 170.4 431.58 170.4 432.9 C170.4 434.22 168.47 435.28 166.5 436.8 C164.53 438.32 160.59 440.58 158.6 442 C156.61 443.42 155.25 444.26 154.55 445.3 C153.85 446.34 154.43 447.72 154.4 448.21 C154.38 447.72 154.95 446.34 154.25 445.3 C153.55 444.26 152.19 443.42 150.2 442 C148.21 440.58 144.27 438.32 142.3 436.8 C140.33 435.28 138.4 434.22 138.4 432.9 C138.4 431.58 140.33 430.43 142.3 428.9 C144.27 427.37 148.26 425.43 150.2 423.7 C152.14 421.97 153.49 420.23 153.95 418.5 C154.41 416.77 153.81 415.03 152.95 413.3 C152.09 411.57 150.03 409.83 148.8 408.1 C147.58 406.37 146.57 404.65 145.6 402.9 C144.63 401.15 143.5 399.57 143 397.6 C142.5 395.63 142.72 393.27 142.6 391.1 C142.48 388.93 142.23 386.55 142.3 384.6 C142.37 382.65 142.45 381.13 143 379.4 C143.55 377.67 144.4 376.17 145.6 374.2 C146.8 372.23 148.98 369.78 150.2 367.6 C151.43 365.42 152.33 363.27 152.95 361.1 C153.58 358.93 153.73 357.85 153.95 354.6 C154.17 351.35 154.21 346 154.28 341.6 C154.35 337.2 154.38 330.43 154.4 328.19Z" fill="url(#pwh)" stroke="none"/>
<path d="M154 342 L155 342 L156 356 L157.5 366 L158.5 378 L158.5 404 L157.5 411 L151.5 411 L150.5 404 L150.5 378 L151.5 366 L153 356 Z" fill="url(#pdg)"/><circle cx="139.20" cy="433.70" r="0.90" fill="#238a4e"/><circle cx="141.60" cy="433.70" r="0.90" fill="#238a4e"/><circle cx="144.00" cy="433.70" r="0.90" fill="#238a4e"/><circle cx="146.40" cy="433.70" r="0.90" fill="#238a4e"/><circle cx="148.80" cy="433.70" r="0.90" fill="#238a4e"/><circle cx="151.20" cy="433.70" r="0.90" fill="#238a4e"/><circle cx="153.60" cy="433.70" r="0.90" fill="#238a4e"/><circle cx="156.00" cy="433.70" r="0.90" fill="#238a4e"/><circle cx="158.40" cy="433.70" r="0.90" fill="#238a4e"/><circle cx="160.80" cy="433.70" r="0.90" fill="#238a4e"/><circle cx="163.20" cy="433.70" r="0.90" fill="#238a4e"/><circle cx="165.60" cy="433.70" r="0.90" fill="#238a4e"/><circle cx="168.00" cy="433.70" r="0.90" fill="#238a4e"/>
<path d="M154.4 328.19 C154.42 330.43 154.45 337.2 154.52 341.6 C154.59 346 154.63 351.35 154.85 354.6 C155.07 357.85 155.22 358.93 155.85 361.1 C156.47 363.27 157.38 365.42 158.6 367.6 C159.82 369.78 162 372.23 163.2 374.2 C164.4 376.17 165.25 377.67 165.8 379.4 C166.35 381.13 166.43 382.65 166.5 384.6 C166.57 386.55 166.32 388.93 166.2 391.1 C166.08 393.27 166.3 395.63 165.8 397.6 C165.3 399.57 164.17 401.15 163.2 402.9 C162.23 404.65 161.22 406.37 160 408.1 C158.78 409.83 156.71 411.57 155.85 413.3 C154.99 415.03 154.39 416.77 154.85 418.5 C155.31 420.23 156.66 421.97 158.6 423.7 C160.54 425.43 164.53 427.37 166.5 428.9 C168.47 430.43 170.4 431.58 170.4 432.9 C170.4 434.22 168.47 435.28 166.5 436.8 C164.53 438.32 160.59 440.58 158.6 442 C156.61 443.42 155.25 444.26 154.55 445.3 C153.85 446.34 154.43 447.72 154.4 448.21 C154.38 447.72 154.95 446.34 154.25 445.3 C153.55 444.26 152.19 443.42 150.2 442 C148.21 440.58 144.27 438.32 142.3 436.8 C140.33 435.28 138.4 434.22 138.4 432.9 C138.4 431.58 140.33 430.43 142.3 428.9 C144.27 427.37 148.26 425.43 150.2 423.7 C152.14 421.97 153.49 420.23 153.95 418.5 C154.41 416.77 153.81 415.03 152.95 413.3 C152.09 411.57 150.03 409.83 148.8 408.1 C147.58 406.37 146.57 404.65 145.6 402.9 C144.63 401.15 143.5 399.57 143 397.6 C142.5 395.63 142.72 393.27 142.6 391.1 C142.48 388.93 142.23 386.55 142.3 384.6 C142.37 382.65 142.45 381.13 143 379.4 C143.55 377.67 144.4 376.17 145.6 374.2 C146.8 372.23 148.98 369.78 150.2 367.6 C151.43 365.42 152.33 363.27 152.95 361.1 C153.58 358.93 153.73 357.85 153.95 354.6 C154.17 351.35 154.21 346 154.28 341.6 C154.35 337.2 154.38 330.43 154.4 328.19Z" fill="none" stroke="#000" stroke-width="2.2" stroke-linejoin="round"/>
<line x1="142.88" y1="395.7" x2="165.92" y2="395.7" stroke="#000" stroke-width="3"/>
<line x1="144.4" y1="382.4" x2="164.4" y2="382.4" stroke="#000" stroke-width="3.3" stroke-linecap="round" stroke-dasharray="0.3 5.9" stroke-dashoffset="9.85"/>
<line x1="140.8" y1="433.5" x2="168" y2="433.5" stroke="#000" stroke-width="3.3" stroke-linecap="round" stroke-dasharray="0.3 5.9" stroke-dashoffset="7.25"/>
<path d="M225.2 314.2 V475.4 H346.6" fill="none" stroke="#1a1a1a" stroke-width="1.4"/>
<line x1="220.6" y1="314.9" x2="225.2" y2="314.9" stroke="#1a1a1a" stroke-width="1.25"/>
<text x="218.9" y="318.4" font-size="8.2" text-anchor="end" font-weight="normal" fill="#111" stroke="#111" stroke-width="0.12">5</text>
<line x1="220.6" y1="347.2" x2="225.2" y2="347.2" stroke="#1a1a1a" stroke-width="1.25"/>
<text x="218.9" y="350.7" font-size="8.2" text-anchor="end" font-weight="normal" fill="#111" stroke="#111" stroke-width="0.12">4</text>
<line x1="220.6" y1="379.3" x2="225.2" y2="379.3" stroke="#1a1a1a" stroke-width="1.25"/>
<text x="218.9" y="382.8" font-size="8.2" text-anchor="end" font-weight="normal" fill="#111" stroke="#111" stroke-width="0.12">3</text>
<line x1="220.6" y1="411.3" x2="225.2" y2="411.3" stroke="#1a1a1a" stroke-width="1.25"/>
<text x="218.9" y="414.8" font-size="8.2" text-anchor="end" font-weight="normal" fill="#111" stroke="#111" stroke-width="0.12">2</text>
<line x1="220.6" y1="443.4" x2="225.2" y2="443.4" stroke="#1a1a1a" stroke-width="1.25"/>
<text x="218.9" y="446.9" font-size="8.2" text-anchor="end" font-weight="normal" fill="#111" stroke="#111" stroke-width="0.12">1</text>
<line x1="220.6" y1="475.4" x2="225.2" y2="475.4" stroke="#1a1a1a" stroke-width="1.25"/>
<text x="218.9" y="478.9" font-size="8.2" text-anchor="end" font-weight="normal" fill="#111" stroke="#111" stroke-width="0.12">0</text>
<line x1="259.9" y1="475.4" x2="259.9" y2="479.6" stroke="#1a1a1a" stroke-width="1.4"/>
<line x1="312.1" y1="475.4" x2="312.1" y2="479.6" stroke="#1a1a1a" stroke-width="1.4"/>
<text transform="translate(209.9 395.15) rotate(-90)" font-size="10.53" text-anchor="middle" textLength="99.6" lengthAdjust="spacingAndGlyphs" fill="#111" stroke="#111" stroke-width="0.15">Log-transformed Pcs</text>
<text x="285.3" y="280.4" font-size="11.8" text-anchor="middle" font-weight="normal" textLength="87" lengthAdjust="spacingAndGlyphs" fill="#111" stroke="#111" stroke-width="0.22"><tspan font-style="italic">p</tspan>-cresol sulfate</text>
<text x="285.6" y="297.3" font-size="11.8" text-anchor="middle" font-weight="normal" textLength="26.8" lengthAdjust="spacingAndGlyphs" fill="#111" stroke="#111" stroke-width="0.22">(Pcs)</text>
<path d="M259.9 319.6 V312.3 H312.1 V319.6" fill="none" stroke="#111" stroke-width="1.3"/>
<text x="286.2" y="312.8" font-size="17.5" text-anchor="middle" font-weight="bold" textLength="13.2" lengthAdjust="spacingAndGlyphs" fill="#111">**</text>
<text x="250.4" y="493.2" font-size="10.7" text-anchor="middle" font-weight="normal" textLength="54.2" lengthAdjust="spacingAndGlyphs" fill="#111" stroke="#111" stroke-width="0.12">Early-stage</text>
<text x="250.4" y="507.2" font-size="10.7" text-anchor="middle" font-weight="normal" textLength="13.2" lengthAdjust="spacingAndGlyphs" fill="#111" stroke="#111" stroke-width="0.12">PD</text>
<text x="322.6" y="493.2" font-size="10.7" text-anchor="middle" font-weight="normal" textLength="78.5" lengthAdjust="spacingAndGlyphs" fill="#111" stroke="#111" stroke-width="0.12">Advanced-stage</text>
<text x="322.6" y="507.2" font-size="10.7" text-anchor="middle" font-weight="normal" textLength="13.2" lengthAdjust="spacingAndGlyphs" fill="#111" stroke="#111" stroke-width="0.12">PD</text>
<path d="M260 335.29 C260.02 336.58 259.85 340.65 260.12 343 C260.39 345.35 261.19 347.43 261.65 349.4 C262.11 351.37 262.16 353.35 262.9 354.8 C263.64 356.25 264.57 357.02 266.1 358.1 C267.63 359.18 270.57 360.05 272.1 361.3 C273.63 362.55 274.72 364.17 275.3 365.6 C275.88 367.03 275.78 368.63 275.6 369.9 C275.42 371.17 275.05 371.93 274.2 373.2 C273.35 374.47 271.57 376.07 270.5 377.5 C269.43 378.93 268.7 380.37 267.8 381.8 C266.9 383.23 265.92 384.65 265.1 386.1 C264.28 387.55 263.35 389.05 262.9 390.5 C262.45 391.95 262.74 393.37 262.4 394.8 C262.06 396.23 261.23 397.67 260.85 399.1 C260.47 400.53 260.24 400.7 260.12 403.4 C260 406.1 259.74 412.6 260.12 415.3 C260.5 418 261.75 418.17 262.4 419.6 C263.05 421.03 264.12 422.47 264 423.9 C263.88 425.33 262.3 426.93 261.65 428.2 C261 429.47 260.39 430.22 260.12 431.5 C259.85 432.78 260.02 435.17 260 435.91 C259.98 435.17 260.15 432.78 259.88 431.5 C259.61 430.22 259 429.47 258.35 428.2 C257.7 426.93 256.12 425.33 256 423.9 C255.88 422.47 256.95 421.03 257.6 419.6 C258.25 418.17 259.5 418 259.88 415.3 C260.26 412.6 260 406.1 259.88 403.4 C259.76 400.7 259.53 400.53 259.15 399.1 C258.77 397.67 257.94 396.23 257.6 394.8 C257.26 393.37 257.55 391.95 257.1 390.5 C256.65 389.05 255.72 387.55 254.9 386.1 C254.08 384.65 253.1 383.23 252.2 381.8 C251.3 380.37 250.57 378.93 249.5 377.5 C248.43 376.07 246.65 374.47 245.8 373.2 C244.95 371.93 244.58 371.17 244.4 369.9 C244.22 368.63 244.12 367.03 244.7 365.6 C245.28 364.17 246.37 362.55 247.9 361.3 C249.43 360.05 252.37 359.18 253.9 358.1 C255.43 357.02 256.36 356.25 257.1 354.8 C257.84 353.35 257.89 351.37 258.35 349.4 C258.81 347.43 259.61 345.35 259.88 343 C260.15 340.65 259.98 336.58 260 335.29Z" fill="url(#plg)" stroke="none" clip-path="url(#fc1)"/>
<circle cx="253.00" cy="424.20" r="0.90" fill="#6fe52e"/><circle cx="256.20" cy="424.20" r="0.90" fill="#6fe52e"/><circle cx="259.40" cy="424.20" r="0.90" fill="#6fe52e"/><circle cx="262.60" cy="424.20" r="0.90" fill="#6fe52e"/><circle cx="265.80" cy="424.20" r="0.90" fill="#6fe52e"/>
<path d="M260 335.29 C260.02 336.58 259.85 340.65 260.12 343 C260.39 345.35 261.19 347.43 261.65 349.4 C262.11 351.37 262.16 353.35 262.9 354.8 C263.64 356.25 264.57 357.02 266.1 358.1 C267.63 359.18 270.57 360.05 272.1 361.3 C273.63 362.55 274.72 364.17 275.3 365.6 C275.88 367.03 275.78 368.63 275.6 369.9 C275.42 371.17 275.05 371.93 274.2 373.2 C273.35 374.47 271.57 376.07 270.5 377.5 C269.43 378.93 268.7 380.37 267.8 381.8 C266.9 383.23 265.92 384.65 265.1 386.1 C264.28 387.55 263.35 389.05 262.9 390.5 C262.45 391.95 262.74 393.37 262.4 394.8 C262.06 396.23 261.23 397.67 260.85 399.1 C260.47 400.53 260.24 400.7 260.12 403.4 C260 406.1 259.74 412.6 260.12 415.3 C260.5 418 261.75 418.17 262.4 419.6 C263.05 421.03 264.12 422.47 264 423.9 C263.88 425.33 262.3 426.93 261.65 428.2 C261 429.47 260.39 430.22 260.12 431.5 C259.85 432.78 260.02 435.17 260 435.91 C259.98 435.17 260.15 432.78 259.88 431.5 C259.61 430.22 259 429.47 258.35 428.2 C257.7 426.93 256.12 425.33 256 423.9 C255.88 422.47 256.95 421.03 257.6 419.6 C258.25 418.17 259.5 418 259.88 415.3 C260.26 412.6 260 406.1 259.88 403.4 C259.76 400.7 259.53 400.53 259.15 399.1 C258.77 397.67 257.94 396.23 257.6 394.8 C257.26 393.37 257.55 391.95 257.1 390.5 C256.65 389.05 255.72 387.55 254.9 386.1 C254.08 384.65 253.1 383.23 252.2 381.8 C251.3 380.37 250.57 378.93 249.5 377.5 C248.43 376.07 246.65 374.47 245.8 373.2 C244.95 371.93 244.58 371.17 244.4 369.9 C244.22 368.63 244.12 367.03 244.7 365.6 C245.28 364.17 246.37 362.55 247.9 361.3 C249.43 360.05 252.37 359.18 253.9 358.1 C255.43 357.02 256.36 356.25 257.1 354.8 C257.84 353.35 257.89 351.37 258.35 349.4 C258.81 347.43 259.61 345.35 259.88 343 C260.15 340.65 259.98 336.58 260 335.29Z" fill="none" stroke="#000" stroke-width="2.2" stroke-linejoin="round"/>
<circle cx="254.76" cy="356.44" r="1.05" fill="#6fe52e"/><circle cx="271.4" cy="360.78" r="1.05" fill="#6fe52e"/><circle cx="267.99" cy="380.03" r="1.05" fill="#6fe52e"/><circle cx="267.86" cy="382.58" r="1.05" fill="#6fe52e"/><circle cx="256.25" cy="387.07" r="1.05" fill="#6fe52e"/><circle cx="263.06" cy="388.35" r="1.05" fill="#6fe52e"/><circle cx="262.21" cy="391.08" r="1.05" fill="#6fe52e"/><circle cx="261.35" cy="394.06" r="1.05" fill="#6fe52e"/>
<line x1="245.25" y1="371.9" x2="274.75" y2="371.9" stroke="#000" stroke-width="3" stroke-dasharray="9 3.6" stroke-dashoffset="10.25"/>
<line x1="247.47" y1="364.3" x2="272.53" y2="364.3" stroke="#000" stroke-width="3.3" stroke-linecap="round" stroke-dasharray="0.3 5.9" stroke-dashoffset="6.18"/>
<line x1="254.69" y1="382.9" x2="265.31" y2="382.9" stroke="#000" stroke-width="3.3" stroke-linecap="round" stroke-dasharray="0.3 5.9" stroke-dashoffset="11.36"/>
<path d="M312.1 326.49 C312.12 328.06 312.15 333.37 312.22 335.9 C312.3 338.43 311.89 340.15 312.55 341.7 C313.21 343.25 314.63 344.05 316.2 345.2 C317.78 346.35 320.35 347.45 322 348.6 C323.65 349.75 325.23 350.93 326.1 352.1 C326.97 353.27 327.2 354.43 327.2 355.6 C327.2 356.77 326.38 357.95 326.1 359.1 C325.82 360.25 325.7 361.35 325.5 362.5 C325.3 363.65 325.38 364.83 324.9 366 C324.42 367.17 323.28 368.15 322.6 369.5 C321.92 370.85 321.38 372.37 320.8 374.1 C320.22 375.83 319.67 377.97 319.1 379.9 C318.53 381.83 317.88 383.77 317.4 385.7 C316.92 387.63 316.68 389.57 316.2 391.5 C315.72 393.43 315.11 395.37 314.5 397.3 C313.89 399.23 312.91 400.2 312.55 403.1 C312.19 406 312.15 412 312.35 414.7 C312.55 417.4 313.21 417.75 313.75 419.3 C314.29 420.85 315.7 422.45 315.6 424 C315.5 425.55 313.71 427.25 313.15 428.6 C312.59 429.95 312.4 431.02 312.22 432.1 C312.05 433.19 312.12 434.61 312.1 435.11 C312.08 434.61 312.16 433.19 311.98 432.1 C311.81 431.02 311.61 429.95 311.05 428.6 C310.49 427.25 308.7 425.55 308.6 424 C308.5 422.45 309.91 420.85 310.45 419.3 C310.99 417.75 311.65 417.4 311.85 414.7 C312.05 412 312.01 406 311.65 403.1 C311.29 400.2 310.31 399.23 309.7 397.3 C309.09 395.37 308.48 393.43 308 391.5 C307.52 389.57 307.28 387.63 306.8 385.7 C306.32 383.77 305.67 381.83 305.1 379.9 C304.53 377.97 303.98 375.83 303.4 374.1 C302.82 372.37 302.28 370.85 301.6 369.5 C300.92 368.15 299.78 367.17 299.3 366 C298.82 364.83 298.9 363.65 298.7 362.5 C298.5 361.35 298.38 360.25 298.1 359.1 C297.82 357.95 297 356.77 297 355.6 C297 354.43 297.23 353.27 298.1 352.1 C298.97 350.93 300.55 349.75 302.2 348.6 C303.85 347.45 306.43 346.35 308 345.2 C309.57 344.05 310.99 343.25 311.65 341.7 C312.31 340.15 311.91 338.43 311.98 335.9 C312.06 333.37 312.08 328.06 312.1 326.49Z" fill="url(#pdg)" stroke="none" clip-path="url(#fc2)"/>
<circle cx="302.50" cy="424.20" r="0.90" fill="#238a4e"/><circle cx="304.10" cy="424.20" r="0.90" fill="#238a4e"/><circle cx="305.70" cy="424.20" r="0.90" fill="#238a4e"/><circle cx="307.30" cy="424.20" r="0.90" fill="#238a4e"/><circle cx="308.90" cy="424.20" r="0.90" fill="#238a4e"/><circle cx="310.50" cy="424.20" r="0.90" fill="#238a4e"/><circle cx="312.10" cy="424.20" r="0.90" fill="#238a4e"/><circle cx="313.70" cy="424.20" r="0.90" fill="#238a4e"/><circle cx="315.30" cy="424.20" r="0.90" fill="#238a4e"/><circle cx="316.90" cy="424.20" r="0.90" fill="#238a4e"/><circle cx="318.50" cy="424.20" r="0.90" fill="#238a4e"/><circle cx="320.10" cy="424.20" r="0.90" fill="#238a4e"/><circle cx="321.70" cy="424.20" r="0.90" fill="#238a4e"/>
<path d="M312.1 326.49 C312.12 328.06 312.15 333.37 312.22 335.9 C312.3 338.43 311.89 340.15 312.55 341.7 C313.21 343.25 314.63 344.05 316.2 345.2 C317.78 346.35 320.35 347.45 322 348.6 C323.65 349.75 325.23 350.93 326.1 352.1 C326.97 353.27 327.2 354.43 327.2 355.6 C327.2 356.77 326.38 357.95 326.1 359.1 C325.82 360.25 325.7 361.35 325.5 362.5 C325.3 363.65 325.38 364.83 324.9 366 C324.42 367.17 323.28 368.15 322.6 369.5 C321.92 370.85 321.38 372.37 320.8 374.1 C320.22 375.83 319.67 377.97 319.1 379.9 C318.53 381.83 317.88 383.77 317.4 385.7 C316.92 387.63 316.68 389.57 316.2 391.5 C315.72 393.43 315.11 395.37 314.5 397.3 C313.89 399.23 312.91 400.2 312.55 403.1 C312.19 406 312.15 412 312.35 414.7 C312.55 417.4 313.21 417.75 313.75 419.3 C314.29 420.85 315.7 422.45 315.6 424 C315.5 425.55 313.71 427.25 313.15 428.6 C312.59 429.95 312.4 431.02 312.22 432.1 C312.05 433.19 312.12 434.61 312.1 435.11 C312.08 434.61 312.16 433.19 311.98 432.1 C311.81 431.02 311.61 429.95 311.05 428.6 C310.49 427.25 308.7 425.55 308.6 424 C308.5 422.45 309.91 420.85 310.45 419.3 C310.99 417.75 311.65 417.4 311.85 414.7 C312.05 412 312.01 406 311.65 403.1 C311.29 400.2 310.31 399.23 309.7 397.3 C309.09 395.37 308.48 393.43 308 391.5 C307.52 389.57 307.28 387.63 306.8 385.7 C306.32 383.77 305.67 381.83 305.1 379.9 C304.53 377.97 303.98 375.83 303.4 374.1 C302.82 372.37 302.28 370.85 301.6 369.5 C300.92 368.15 299.78 367.17 299.3 366 C298.82 364.83 298.9 363.65 298.7 362.5 C298.5 361.35 298.38 360.25 298.1 359.1 C297.82 357.95 297 356.77 297 355.6 C297 354.43 297.23 353.27 298.1 352.1 C298.97 350.93 300.55 349.75 302.2 348.6 C303.85 347.45 306.43 346.35 308 345.2 C309.57 344.05 310.99 343.25 311.65 341.7 C312.31 340.15 311.91 338.43 311.98 335.9 C312.06 333.37 312.08 328.06 312.1 326.49Z" fill="none" stroke="#000" stroke-width="2.2" stroke-linejoin="round"/>
<circle cx="307.26" cy="345.47" r="1.05" fill="#1f884a"/><circle cx="303.86" cy="347.42" r="1.05" fill="#1f884a"/><circle cx="324.97" cy="352.54" r="1.05" fill="#1f884a"/><circle cx="297.08" cy="357.36" r="1.05" fill="#1f884a"/><circle cx="298.24" cy="359.78" r="1.05" fill="#1f884a"/><circle cx="325.06" cy="359.16" r="1.05" fill="#1f884a"/><circle cx="297.77" cy="362.07" r="1.05" fill="#1f884a"/><circle cx="324.69" cy="361.19" r="1.05" fill="#1f884a"/><circle cx="300.03" cy="363.9" r="1.05" fill="#1f884a"/><circle cx="300.62" cy="366.53" r="1.05" fill="#1f884a"/><circle cx="323.95" cy="366.03" r="1.05" fill="#1f884a"/><circle cx="302.04" cy="368.49" r="1.05" fill="#1f884a"/><circle cx="323.93" cy="368.66" r="1.05" fill="#1f884a"/><circle cx="302.9" cy="375.68" r="1.05" fill="#1f884a"/><circle cx="304.26" cy="379.95" r="1.05" fill="#1f884a"/><circle cx="317.92" cy="379.69" r="1.05" fill="#1f884a"/><circle cx="305.3" cy="382.13" r="1.05" fill="#1f884a"/><circle cx="319.13" cy="382.46" r="1.05" fill="#1f884a"/><circle cx="307.67" cy="384.25" r="1.05" fill="#1f884a"/><circle cx="318.72" cy="385.23" r="1.05" fill="#1f884a"/><circle cx="316.99" cy="386.82" r="1.05" fill="#1f884a"/><circle cx="308.81" cy="389.39" r="1.05" fill="#1f884a"/><circle cx="316.31" cy="391.2" r="1.05" fill="#1f884a"/><circle cx="316.73" cy="394.24" r="1.05" fill="#1f884a"/><circle cx="309.82" cy="396.69" r="1.05" fill="#1f884a"/>
<line x1="299.27" y1="365.8" x2="324.93" y2="365.8" stroke="#000" stroke-width="3" stroke-dasharray="9 3.6" stroke-dashoffset="8.33"/>
<line x1="298.99" y1="356.2" x2="325.21" y2="356.2" stroke="#000" stroke-width="3.3" stroke-linecap="round" stroke-dasharray="0.3 5.9" stroke-dashoffset="6.76"/>
<line x1="305.87" y1="376.4" x2="318.33" y2="376.4" stroke="#000" stroke-width="3.3" stroke-linecap="round" stroke-dasharray="0.3 5.9" stroke-dashoffset="6.08"/>
<path d="M385.4 306.6 V473.9 H502" fill="none" stroke="#1a1a1a" stroke-width="1.4"/>
<line x1="380.8" y1="307.3" x2="385.4" y2="307.3" stroke="#1a1a1a" stroke-width="1.25"/>
<text x="379.1" y="310.8" font-size="8.2" text-anchor="end" font-weight="normal" fill="#111" stroke="#111" stroke-width="0.12">4</text>
<line x1="380.8" y1="334.9" x2="385.4" y2="334.9" stroke="#1a1a1a" stroke-width="1.25"/>
<text x="379.1" y="338.4" font-size="8.2" text-anchor="end" font-weight="normal" fill="#111" stroke="#111" stroke-width="0.12">3</text>
<line x1="380.8" y1="363" x2="385.4" y2="363" stroke="#1a1a1a" stroke-width="1.25"/>
<text x="379.1" y="366.5" font-size="8.2" text-anchor="end" font-weight="normal" fill="#111" stroke="#111" stroke-width="0.12">2</text>
<line x1="380.8" y1="390.8" x2="385.4" y2="390.8" stroke="#1a1a1a" stroke-width="1.25"/>
<text x="379.1" y="394.3" font-size="8.2" text-anchor="end" font-weight="normal" fill="#111" stroke="#111" stroke-width="0.12">1</text>
<line x1="380.8" y1="418.4" x2="385.4" y2="418.4" stroke="#1a1a1a" stroke-width="1.25"/>
<text x="379.1" y="421.9" font-size="8.2" text-anchor="end" font-weight="normal" fill="#111" stroke="#111" stroke-width="0.12">0</text>
<line x1="380.8" y1="446.3" x2="385.4" y2="446.3" stroke="#1a1a1a" stroke-width="1.25"/>
<text x="379.1" y="449.8" font-size="8.2" text-anchor="end" font-weight="normal" fill="#111" stroke="#111" stroke-width="0.12">-1</text>
<line x1="380.8" y1="473.9" x2="385.4" y2="473.9" stroke="#1a1a1a" stroke-width="1.25"/>
<text x="379.1" y="477.4" font-size="8.2" text-anchor="end" font-weight="normal" fill="#111" stroke="#111" stroke-width="0.12">-2</text>
<line x1="418.3" y1="473.9" x2="418.3" y2="478.1" stroke="#1a1a1a" stroke-width="1.4"/>
<line x1="469.3" y1="473.9" x2="469.3" y2="478.1" stroke="#1a1a1a" stroke-width="1.4"/>
<line x1="385.4" y1="418.6" x2="502" y2="418.6" stroke="#000" stroke-width="1" stroke-dasharray="1.3 1.3"/>
<text transform="translate(367.5 390.6) rotate(-90)" font-size="10.53" text-anchor="middle" textLength="101.4" lengthAdjust="spacingAndGlyphs" fill="#111" stroke="#111" stroke-width="0.15">Log-transformed Pcg</text>
<text x="443" y="279.3" font-size="11.8" text-anchor="middle" font-weight="normal" textLength="116" lengthAdjust="spacingAndGlyphs" fill="#111" stroke="#111" stroke-width="0.22"><tspan font-style="italic">p</tspan>-cresol glucuronide</text>
<text x="442.9" y="296.2" font-size="11.8" text-anchor="middle" font-weight="normal" textLength="28" lengthAdjust="spacingAndGlyphs" fill="#111" stroke="#111" stroke-width="0.22">(Pcg)</text>
<path d="M418.3 323.6 V315.7 H469.3 V323.6" fill="none" stroke="#111" stroke-width="1.3"/>
<text x="444.8" y="315.9" font-size="17.5" text-anchor="middle" font-weight="bold" textLength="13.2" lengthAdjust="spacingAndGlyphs" fill="#111">**</text>
<text x="410" y="493.5" font-size="10.7" text-anchor="middle" font-weight="normal" textLength="54.2" lengthAdjust="spacingAndGlyphs" fill="#111" stroke="#111" stroke-width="0.12">Early-stage</text>
<text x="410" y="507.5" font-size="10.7" text-anchor="middle" font-weight="normal" textLength="13.2" lengthAdjust="spacingAndGlyphs" fill="#111" stroke="#111" stroke-width="0.12">PD</text>
<text x="482.9" y="493.5" font-size="10.7" text-anchor="middle" font-weight="normal" textLength="78.5" lengthAdjust="spacingAndGlyphs" fill="#111" stroke="#111" stroke-width="0.12">Advanced-stage</text>
<text x="482.9" y="507.5" font-size="10.7" text-anchor="middle" font-weight="normal" textLength="13.2" lengthAdjust="spacingAndGlyphs" fill="#111" stroke="#111" stroke-width="0.12">PD</text>
<path d="M418.9 345.49 C418.92 346.82 418.67 351.22 419.02 353.5 C419.37 355.78 420.2 357.5 421 359.2 C421.8 360.9 423.05 362.2 423.8 363.7 C424.55 365.2 425.42 366.7 425.5 368.2 C425.58 369.7 424.3 371.2 424.3 372.7 C424.3 374.2 424.55 375.88 425.5 377.2 C426.45 378.52 428.7 379.28 430 380.6 C431.3 381.92 432.75 383.6 433.3 385.1 C433.85 386.6 433.77 388.1 433.3 389.6 C432.83 391.1 431.15 392.6 430.5 394.1 C429.85 395.6 429.48 397.1 429.4 398.6 C429.32 400.1 430.65 401.6 430 403.1 C429.35 404.6 427 406.1 425.5 407.6 C424 409.1 422.06 410.6 421 412.1 C419.94 413.6 419.48 415.1 419.15 416.6 C418.82 418.1 419.04 419.03 419.02 421.1 C419 423.17 418.51 426.93 419.02 429 C419.53 431.07 421.22 432 422.1 433.5 C422.98 435 424.4 436.5 424.3 438 C424.2 439.5 422.36 441.18 421.5 442.5 C420.64 443.82 419.58 444.56 419.15 445.9 C418.72 447.23 418.94 449.74 418.9 450.51 C418.86 449.74 419.08 447.23 418.65 445.9 C418.22 444.56 417.16 443.82 416.3 442.5 C415.44 441.18 413.6 439.5 413.5 438 C413.4 436.5 414.82 435 415.7 433.5 C416.58 432 418.27 431.07 418.78 429 C419.29 426.93 418.8 423.17 418.78 421.1 C418.76 419.03 418.98 418.1 418.65 416.6 C418.32 415.1 417.86 413.6 416.8 412.1 C415.74 410.6 413.8 409.1 412.3 407.6 C410.8 406.1 408.45 404.6 407.8 403.1 C407.15 401.6 408.48 400.1 408.4 398.6 C408.32 397.1 407.95 395.6 407.3 394.1 C406.65 392.6 404.97 391.1 404.5 389.6 C404.03 388.1 403.95 386.6 404.5 385.1 C405.05 383.6 406.5 381.92 407.8 380.6 C409.1 379.28 411.35 378.52 412.3 377.2 C413.25 375.88 413.5 374.2 413.5 372.7 C413.5 371.2 412.22 369.7 412.3 368.2 C412.38 366.7 413.25 365.2 414 363.7 C414.75 362.2 416 360.9 416.8 359.2 C417.6 357.5 418.43 355.78 418.78 353.5 C419.13 351.22 418.88 346.82 418.9 345.49Z" fill="url(#plg)" stroke="none" clip-path="url(#fc3)"/>
<circle cx="410.10" cy="438.00" r="0.90" fill="#6fe52e"/><circle cx="413.30" cy="438.00" r="0.90" fill="#6fe52e"/><circle cx="416.50" cy="438.00" r="0.90" fill="#6fe52e"/><circle cx="419.70" cy="438.00" r="0.90" fill="#6fe52e"/><circle cx="422.90" cy="438.00" r="0.90" fill="#6fe52e"/><circle cx="426.10" cy="438.00" r="0.90" fill="#6fe52e"/>
<path d="M418.9 345.49 C418.92 346.82 418.67 351.22 419.02 353.5 C419.37 355.78 420.2 357.5 421 359.2 C421.8 360.9 423.05 362.2 423.8 363.7 C424.55 365.2 425.42 366.7 425.5 368.2 C425.58 369.7 424.3 371.2 424.3 372.7 C424.3 374.2 424.55 375.88 425.5 377.2 C426.45 378.52 428.7 379.28 430 380.6 C431.3 381.92 432.75 383.6 433.3 385.1 C433.85 386.6 433.77 388.1 433.3 389.6 C432.83 391.1 431.15 392.6 430.5 394.1 C429.85 395.6 429.48 397.1 429.4 398.6 C429.32 400.1 430.65 401.6 430 403.1 C429.35 404.6 427 406.1 425.5 407.6 C424 409.1 422.06 410.6 421 412.1 C419.94 413.6 419.48 415.1 419.15 416.6 C418.82 418.1 419.04 419.03 419.02 421.1 C419 423.17 418.51 426.93 419.02 429 C419.53 431.07 421.22 432 422.1 433.5 C422.98 435 424.4 436.5 424.3 438 C424.2 439.5 422.36 441.18 421.5 442.5 C420.64 443.82 419.58 444.56 419.15 445.9 C418.72 447.23 418.94 449.74 418.9 450.51 C418.86 449.74 419.08 447.23 418.65 445.9 C418.22 444.56 417.16 443.82 416.3 442.5 C415.44 441.18 413.6 439.5 413.5 438 C413.4 436.5 414.82 435 415.7 433.5 C416.58 432 418.27 431.07 418.78 429 C419.29 426.93 418.8 423.17 418.78 421.1 C418.76 419.03 418.98 418.1 418.65 416.6 C418.32 415.1 417.86 413.6 416.8 412.1 C415.74 410.6 413.8 409.1 412.3 407.6 C410.8 406.1 408.45 404.6 407.8 403.1 C407.15 401.6 408.48 400.1 408.4 398.6 C408.32 397.1 407.95 395.6 407.3 394.1 C406.65 392.6 404.97 391.1 404.5 389.6 C404.03 388.1 403.95 386.6 404.5 385.1 C405.05 383.6 406.5 381.92 407.8 380.6 C409.1 379.28 411.35 378.52 412.3 377.2 C413.25 375.88 413.5 374.2 413.5 372.7 C413.5 371.2 412.22 369.7 412.3 368.2 C412.38 366.7 413.25 365.2 414 363.7 C414.75 362.2 416 360.9 416.8 359.2 C417.6 357.5 418.43 355.78 418.78 353.5 C419.13 351.22 418.88 346.82 418.9 345.49Z" fill="none" stroke="#000" stroke-width="2.2" stroke-linejoin="round"/>
<circle cx="425.9" cy="366.79" r="1.05" fill="#6fe52e"/><circle cx="411.22" cy="368.63" r="1.05" fill="#6fe52e"/><circle cx="408.24" cy="394.01" r="1.05" fill="#6fe52e"/><circle cx="427.19" cy="406.09" r="1.05" fill="#6fe52e"/><circle cx="422.05" cy="410.45" r="1.05" fill="#6fe52e"/>
<line x1="406.24" y1="392.4" x2="431.56" y2="392.4" stroke="#000" stroke-width="3" stroke-dasharray="9 3.6" stroke-dashoffset="8.16"/>
<line x1="407.84" y1="383" x2="429.96" y2="383" stroke="#000" stroke-width="3.3" stroke-linecap="round" stroke-dasharray="0.3 5.9" stroke-dashoffset="10.91"/>
<line x1="409.9" y1="403.4" x2="427.9" y2="403.4" stroke="#000" stroke-width="3.3" stroke-linecap="round" stroke-dasharray="0.3 5.9" stroke-dashoffset="8.85"/>
<path d="M469.2 329.89 C469.22 332.09 468.9 340.03 469.32 343.1 C469.74 346.17 470.65 346.57 471.7 348.3 C472.75 350.03 474.42 351.77 475.6 353.5 C476.78 355.23 477.93 356.98 478.8 358.7 C479.67 360.42 480.25 362.08 480.8 363.8 C481.35 365.52 481.57 367.27 482.1 369 C482.63 370.73 483.68 372.47 484 374.2 C484.32 375.93 484.1 377.68 484 379.4 C483.9 381.12 483.72 382.78 483.4 384.5 C483.08 386.22 482.75 387.97 482.1 389.7 C481.45 391.43 480.47 393.38 479.5 394.9 C478.53 396.42 476.95 397.5 476.3 398.8 C475.65 400.1 475.72 401.2 475.6 402.7 C475.48 404.2 475.7 406.08 475.6 407.8 C475.5 409.52 475.43 411.48 475 413 C474.57 414.52 473.79 415.6 473 416.9 C472.21 418.2 470.86 419.5 470.25 420.8 C469.64 422.1 469.32 423.18 469.32 424.7 C469.32 426.22 469.74 428.18 470.25 429.9 C470.76 431.62 471.94 433.5 472.4 435 C472.86 436.5 473.24 437.6 473 438.9 C472.76 440.2 471.56 441.28 470.95 442.8 C470.34 444.32 469.61 446.43 469.32 448 C469.03 449.57 469.22 451.51 469.2 452.21 C469.18 451.51 469.37 449.57 469.08 448 C468.79 446.43 468.06 444.32 467.45 442.8 C466.84 441.28 465.64 440.2 465.4 438.9 C465.16 437.6 465.54 436.5 466 435 C466.46 433.5 467.64 431.62 468.15 429.9 C468.66 428.18 469.08 426.22 469.08 424.7 C469.08 423.18 468.76 422.1 468.15 420.8 C467.54 419.5 466.19 418.2 465.4 416.9 C464.61 415.6 463.83 414.52 463.4 413 C462.97 411.48 462.9 409.52 462.8 407.8 C462.7 406.08 462.92 404.2 462.8 402.7 C462.68 401.2 462.75 400.1 462.1 398.8 C461.45 397.5 459.87 396.42 458.9 394.9 C457.93 393.38 456.95 391.43 456.3 389.7 C455.65 387.97 455.32 386.22 455 384.5 C454.68 382.78 454.5 381.12 454.4 379.4 C454.3 377.68 454.08 375.93 454.4 374.2 C454.72 372.47 455.77 370.73 456.3 369 C456.83 367.27 457.05 365.52 457.6 363.8 C458.15 362.08 458.73 360.42 459.6 358.7 C460.47 356.98 461.62 355.23 462.8 353.5 C463.98 351.77 465.65 350.03 466.7 348.3 C467.75 346.57 468.66 346.17 469.08 343.1 C469.5 340.03 469.18 332.09 469.2 329.89Z" fill="url(#pdgl)" stroke="none" clip-path="url(#fc4)"/>
<circle cx="457.80" cy="438.00" r="0.90" fill="#238a4e"/><circle cx="459.40" cy="438.00" r="0.90" fill="#238a4e"/><circle cx="461.00" cy="438.00" r="0.90" fill="#238a4e"/><circle cx="462.60" cy="438.00" r="0.90" fill="#238a4e"/><circle cx="464.20" cy="438.00" r="0.90" fill="#238a4e"/><circle cx="465.80" cy="438.00" r="0.90" fill="#238a4e"/><circle cx="467.40" cy="438.00" r="0.90" fill="#238a4e"/><circle cx="469.00" cy="438.00" r="0.90" fill="#238a4e"/><circle cx="470.60" cy="438.00" r="0.90" fill="#238a4e"/><circle cx="472.20" cy="438.00" r="0.90" fill="#238a4e"/><circle cx="473.80" cy="438.00" r="0.90" fill="#238a4e"/><circle cx="475.40" cy="438.00" r="0.90" fill="#238a4e"/><circle cx="477.00" cy="438.00" r="0.90" fill="#238a4e"/><circle cx="478.60" cy="438.00" r="0.90" fill="#238a4e"/><circle cx="480.20" cy="438.00" r="0.90" fill="#238a4e"/>
<path d="M469.2 329.89 C469.22 332.09 468.9 340.03 469.32 343.1 C469.74 346.17 470.65 346.57 471.7 348.3 C472.75 350.03 474.42 351.77 475.6 353.5 C476.78 355.23 477.93 356.98 478.8 358.7 C479.67 360.42 480.25 362.08 480.8 363.8 C481.35 365.52 481.57 367.27 482.1 369 C482.63 370.73 483.68 372.47 484 374.2 C484.32 375.93 484.1 377.68 484 379.4 C483.9 381.12 483.72 382.78 483.4 384.5 C483.08 386.22 482.75 387.97 482.1 389.7 C481.45 391.43 480.47 393.38 479.5 394.9 C478.53 396.42 476.95 397.5 476.3 398.8 C475.65 400.1 475.72 401.2 475.6 402.7 C475.48 404.2 475.7 406.08 475.6 407.8 C475.5 409.52 475.43 411.48 475 413 C474.57 414.52 473.79 415.6 473 416.9 C472.21 418.2 470.86 419.5 470.25 420.8 C469.64 422.1 469.32 423.18 469.32 424.7 C469.32 426.22 469.74 428.18 470.25 429.9 C470.76 431.62 471.94 433.5 472.4 435 C472.86 436.5 473.24 437.6 473 438.9 C472.76 440.2 471.56 441.28 470.95 442.8 C470.34 444.32 469.61 446.43 469.32 448 C469.03 449.57 469.22 451.51 469.2 452.21 C469.18 451.51 469.37 449.57 469.08 448 C468.79 446.43 468.06 444.32 467.45 442.8 C466.84 441.28 465.64 440.2 465.4 438.9 C465.16 437.6 465.54 436.5 466 435 C466.46 433.5 467.64 431.62 468.15 429.9 C468.66 428.18 469.08 426.22 469.08 424.7 C469.08 423.18 468.76 422.1 468.15 420.8 C467.54 419.5 466.19 418.2 465.4 416.9 C464.61 415.6 463.83 414.52 463.4 413 C462.97 411.48 462.9 409.52 462.8 407.8 C462.7 406.08 462.92 404.2 462.8 402.7 C462.68 401.2 462.75 400.1 462.1 398.8 C461.45 397.5 459.87 396.42 458.9 394.9 C457.93 393.38 456.95 391.43 456.3 389.7 C455.65 387.97 455.32 386.22 455 384.5 C454.68 382.78 454.5 381.12 454.4 379.4 C454.3 377.68 454.08 375.93 454.4 374.2 C454.72 372.47 455.77 370.73 456.3 369 C456.83 367.27 457.05 365.52 457.6 363.8 C458.15 362.08 458.73 360.42 459.6 358.7 C460.47 356.98 461.62 355.23 462.8 353.5 C463.98 351.77 465.65 350.03 466.7 348.3 C467.75 346.57 468.66 346.17 469.08 343.1 C469.5 340.03 469.18 332.09 469.2 329.89Z" fill="none" stroke="#000" stroke-width="2.2" stroke-linejoin="round"/>
<circle cx="458.37" cy="364.59" r="1.05" fill="#1f884a"/><circle cx="483.83" cy="371.48" r="1.05" fill="#1f884a"/><circle cx="454.79" cy="383.97" r="1.05" fill="#1f884a"/><circle cx="484.85" cy="383.54" r="1.05" fill="#1f884a"/><circle cx="482.83" cy="385.4" r="1.05" fill="#1f884a"/><circle cx="481.16" cy="392.75" r="1.05" fill="#1f884a"/><circle cx="477.06" cy="397.01" r="1.05" fill="#1f884a"/><circle cx="462.25" cy="402.21" r="1.05" fill="#1f884a"/><circle cx="474.61" cy="401.97" r="1.05" fill="#1f884a"/><circle cx="463.27" cy="413.95" r="1.05" fill="#1f884a"/><circle cx="473.58" cy="412.93" r="1.05" fill="#1f884a"/><circle cx="466.95" cy="418.1" r="1.05" fill="#1f884a"/>
<line x1="454.67" y1="381.7" x2="483.73" y2="381.7" stroke="#000" stroke-width="3" stroke-dasharray="9 3.6" stroke-dashoffset="10.03"/>
<line x1="458.1" y1="369" x2="480.3" y2="369" stroke="#000" stroke-width="3.3" stroke-linecap="round" stroke-dasharray="0.3 5.9" stroke-dashoffset="10.95"/>
<line x1="464.01" y1="399.4" x2="474.39" y2="399.4" stroke="#000" stroke-width="3.3" stroke-linecap="round" stroke-dasharray="0.3 5.9" stroke-dashoffset="11.24"/>
<path d="M545.4 311.6 V473.3 H667" fill="none" stroke="#1a1a1a" stroke-width="1.4"/>
<line x1="540.8" y1="312.3" x2="545.4" y2="312.3" stroke="#1a1a1a" stroke-width="1.25"/>
<text x="539.1" y="315.8" font-size="8.2" text-anchor="end" font-weight="normal" fill="#111" stroke="#111" stroke-width="0.12">5</text>
<line x1="540.8" y1="344" x2="545.4" y2="344" stroke="#1a1a1a" stroke-width="1.25"/>
<text x="539.1" y="347.5" font-size="8.2" text-anchor="end" font-weight="normal" fill="#111" stroke="#111" stroke-width="0.12">4</text>
<line x1="540.8" y1="376.6" x2="545.4" y2="376.6" stroke="#1a1a1a" stroke-width="1.25"/>
<text x="539.1" y="380.1" font-size="8.2" text-anchor="end" font-weight="normal" fill="#111" stroke="#111" stroke-width="0.12">3</text>
<line x1="540.8" y1="408.7" x2="545.4" y2="408.7" stroke="#1a1a1a" stroke-width="1.25"/>
<text x="539.1" y="412.2" font-size="8.2" text-anchor="end" font-weight="normal" fill="#111" stroke="#111" stroke-width="0.12">2</text>
<line x1="540.8" y1="441" x2="545.4" y2="441" stroke="#1a1a1a" stroke-width="1.25"/>
<text x="539.1" y="444.5" font-size="8.2" text-anchor="end" font-weight="normal" fill="#111" stroke="#111" stroke-width="0.12">1</text>
<line x1="540.8" y1="473.3" x2="545.4" y2="473.3" stroke="#1a1a1a" stroke-width="1.25"/>
<text x="539.1" y="476.8" font-size="8.2" text-anchor="end" font-weight="normal" fill="#111" stroke="#111" stroke-width="0.12">0</text>
<line x1="580.4" y1="473.3" x2="580.4" y2="477.5" stroke="#1a1a1a" stroke-width="1.4"/>
<line x1="633" y1="473.3" x2="633" y2="477.5" stroke="#1a1a1a" stroke-width="1.4"/>
<text transform="translate(530.1 392.8) rotate(-90)" font-size="10.53" text-anchor="middle" fill="#111" stroke="#111" stroke-width="0.15">Log-transformed IS</text>
<text x="607.1" y="279.9" font-size="11.8" text-anchor="middle" font-weight="normal" textLength="82.4" lengthAdjust="spacingAndGlyphs" fill="#111" stroke="#111" stroke-width="0.22">Indoxyl sulfate</text>
<text x="606.8" y="296.5" font-size="11.8" text-anchor="middle" font-weight="normal" textLength="18.4" lengthAdjust="spacingAndGlyphs" fill="#111" stroke="#111" stroke-width="0.22">(IS)</text>
<path d="M580.4 323 V315.7 H633 V323" fill="none" stroke="#111" stroke-width="1.3"/>
<text x="606.8" y="315.9" font-size="17.5" text-anchor="middle" font-weight="bold" textLength="6.6" lengthAdjust="spacingAndGlyphs" fill="#111">*</text>
<text x="570.5" y="492.6" font-size="10.7" text-anchor="middle" font-weight="normal" textLength="54.2" lengthAdjust="spacingAndGlyphs" fill="#111" stroke="#111" stroke-width="0.12">Early-stage</text>
<text x="570.5" y="506.6" font-size="10.7" text-anchor="middle" font-weight="normal" textLength="13.2" lengthAdjust="spacingAndGlyphs" fill="#111" stroke="#111" stroke-width="0.12">PD</text>
<text x="643.2" y="492.6" font-size="10.7" text-anchor="middle" font-weight="normal" textLength="78.5" lengthAdjust="spacingAndGlyphs" fill="#111" stroke="#111" stroke-width="0.12">Advanced-stage</text>
<text x="643.2" y="506.6" font-size="10.7" text-anchor="middle" font-weight="normal" textLength="13.2" lengthAdjust="spacingAndGlyphs" fill="#111" stroke="#111" stroke-width="0.12">PD</text>
<path d="M580.6 343.39 C580.62 343.94 580.6 345.41 580.72 346.7 C580.85 347.99 581.35 349.53 581.35 351.1 C581.35 352.67 580.83 354.3 580.72 356.1 C580.62 357.9 580.24 360.45 580.72 361.9 C581.2 363.35 582.64 363.83 583.6 364.8 C584.56 365.77 585.53 366.73 586.5 367.7 C587.47 368.67 588.18 369.63 589.4 370.6 C590.62 371.57 592.77 372.4 593.8 373.5 C594.83 374.6 595.23 375.98 595.6 377.2 C595.97 378.42 596.42 379.72 596 380.8 C595.58 381.88 594.07 382.73 593.1 383.7 C592.13 384.67 590.82 385.63 590.2 386.6 C589.58 387.57 589.77 388.53 589.4 389.5 C589.03 390.47 588.6 391.43 588 392.4 C587.4 393.37 586.53 394.33 585.8 395.3 C585.07 396.27 584.45 397.23 583.6 398.2 C582.75 399.17 581.22 399.7 580.72 401.1 C580.22 402.5 580.62 405.69 580.6 406.61 C580.58 405.69 580.98 402.5 580.48 401.1 C579.98 399.7 578.45 399.17 577.6 398.2 C576.75 397.23 576.13 396.27 575.4 395.3 C574.67 394.33 573.8 393.37 573.2 392.4 C572.6 391.43 572.17 390.47 571.8 389.5 C571.43 388.53 571.62 387.57 571 386.6 C570.38 385.63 569.07 384.67 568.1 383.7 C567.13 382.73 565.62 381.88 565.2 380.8 C564.78 379.72 565.23 378.42 565.6 377.2 C565.97 375.98 566.37 374.6 567.4 373.5 C568.43 372.4 570.58 371.57 571.8 370.6 C573.02 369.63 573.73 368.67 574.7 367.7 C575.67 366.73 576.64 365.77 577.6 364.8 C578.56 363.83 580 363.35 580.48 361.9 C580.96 360.45 580.59 357.9 580.48 356.1 C580.38 354.3 579.85 352.67 579.85 351.1 C579.85 349.53 580.36 347.99 580.48 346.7 C580.61 345.41 580.58 343.94 580.6 343.39Z" fill="url(#plg)" stroke="none"/>

<path d="M580.6 343.39 C580.62 343.94 580.6 345.41 580.72 346.7 C580.85 347.99 581.35 349.53 581.35 351.1 C581.35 352.67 580.83 354.3 580.72 356.1 C580.62 357.9 580.24 360.45 580.72 361.9 C581.2 363.35 582.64 363.83 583.6 364.8 C584.56 365.77 585.53 366.73 586.5 367.7 C587.47 368.67 588.18 369.63 589.4 370.6 C590.62 371.57 592.77 372.4 593.8 373.5 C594.83 374.6 595.23 375.98 595.6 377.2 C595.97 378.42 596.42 379.72 596 380.8 C595.58 381.88 594.07 382.73 593.1 383.7 C592.13 384.67 590.82 385.63 590.2 386.6 C589.58 387.57 589.77 388.53 589.4 389.5 C589.03 390.47 588.6 391.43 588 392.4 C587.4 393.37 586.53 394.33 585.8 395.3 C585.07 396.27 584.45 397.23 583.6 398.2 C582.75 399.17 581.22 399.7 580.72 401.1 C580.22 402.5 580.62 405.69 580.6 406.61 C580.58 405.69 580.98 402.5 580.48 401.1 C579.98 399.7 578.45 399.17 577.6 398.2 C576.75 397.23 576.13 396.27 575.4 395.3 C574.67 394.33 573.8 393.37 573.2 392.4 C572.6 391.43 572.17 390.47 571.8 389.5 C571.43 388.53 571.62 387.57 571 386.6 C570.38 385.63 569.07 384.67 568.1 383.7 C567.13 382.73 565.62 381.88 565.2 380.8 C564.78 379.72 565.23 378.42 565.6 377.2 C565.97 375.98 566.37 374.6 567.4 373.5 C568.43 372.4 570.58 371.57 571.8 370.6 C573.02 369.63 573.73 368.67 574.7 367.7 C575.67 366.73 576.64 365.77 577.6 364.8 C578.56 363.83 580 363.35 580.48 361.9 C580.96 360.45 580.59 357.9 580.48 356.1 C580.38 354.3 579.85 352.67 579.85 351.1 C579.85 349.53 580.36 347.99 580.48 346.7 C580.61 345.41 580.58 343.94 580.6 343.39Z" fill="none" stroke="#000" stroke-width="2.2" stroke-linejoin="round"/>
<circle cx="575.3" cy="367.49" r="1.05" fill="#6fe52e"/><circle cx="566.22" cy="378.18" r="1.05" fill="#6fe52e"/><circle cx="594.86" cy="378.73" r="1.05" fill="#6fe52e"/><circle cx="564.54" cy="381.17" r="1.05" fill="#6fe52e"/><circle cx="573.11" cy="389.57" r="1.05" fill="#6fe52e"/><circle cx="576.89" cy="397.04" r="1.05" fill="#6fe52e"/>
<line x1="565.2" y1="380.8" x2="596" y2="380.8" stroke="#000" stroke-width="3" stroke-dasharray="9 3.6" stroke-dashoffset="10.9"/>
<line x1="568.32" y1="375.3" x2="592.88" y2="375.3" stroke="#000" stroke-width="3.3" stroke-linecap="round" stroke-dasharray="0.3 5.9" stroke-dashoffset="12.13"/>
<line x1="573.32" y1="388.5" x2="587.88" y2="388.5" stroke="#000" stroke-width="3.3" stroke-linecap="round" stroke-dasharray="0.3 5.9" stroke-dashoffset="7.13"/>
<path d="M632.8 329.49 C632.82 330.21 632.9 329.55 632.92 333.8 C632.94 338.05 632.73 350.88 632.92 355 C633.11 359.12 633.62 357.33 634.05 358.5 C634.48 359.67 634.38 360.82 635.5 362 C636.62 363.18 639.18 364.42 640.8 365.6 C642.42 366.78 644.17 367.78 645.2 369.1 C646.23 370.42 646.48 372.03 647 373.5 C647.52 374.97 648.82 376.58 648.3 377.9 C647.78 379.22 645.15 380.22 643.9 381.4 C642.65 382.58 641.47 383.82 640.8 385 C640.13 386.18 640.48 387.33 639.9 388.5 C639.32 389.67 638.42 390.83 637.3 392 C636.17 393.17 633.77 394.03 633.15 395.5 C632.52 396.97 633.59 399.03 633.55 400.8 C633.51 402.57 633.04 404.35 632.92 406.1 C632.79 407.85 632.82 410.44 632.8 411.31 C632.78 410.44 632.8 407.85 632.68 406.1 C632.55 404.35 632.09 402.57 632.05 400.8 C632.01 399.03 633.07 396.97 632.45 395.5 C631.82 394.03 629.42 393.17 628.3 392 C627.17 390.83 626.28 389.67 625.7 388.5 C625.12 387.33 625.47 386.18 624.8 385 C624.13 383.82 622.95 382.58 621.7 381.4 C620.45 380.22 617.82 379.22 617.3 377.9 C616.78 376.58 618.08 374.97 618.6 373.5 C619.12 372.03 619.37 370.42 620.4 369.1 C621.43 367.78 623.18 366.78 624.8 365.6 C626.42 364.42 628.97 363.18 630.1 362 C631.22 360.82 631.12 359.67 631.55 358.5 C631.98 357.33 632.49 359.12 632.68 355 C632.87 350.88 632.66 338.05 632.68 333.8 C632.7 329.55 632.78 330.21 632.8 329.49Z" fill="url(#pdg)" stroke="none"/>

<path d="M632.8 329.49 C632.82 330.21 632.9 329.55 632.92 333.8 C632.94 338.05 632.73 350.88 632.92 355 C633.11 359.12 633.62 357.33 634.05 358.5 C634.48 359.67 634.38 360.82 635.5 362 C636.62 363.18 639.18 364.42 640.8 365.6 C642.42 366.78 644.17 367.78 645.2 369.1 C646.23 370.42 646.48 372.03 647 373.5 C647.52 374.97 648.82 376.58 648.3 377.9 C647.78 379.22 645.15 380.22 643.9 381.4 C642.65 382.58 641.47 383.82 640.8 385 C640.13 386.18 640.48 387.33 639.9 388.5 C639.32 389.67 638.42 390.83 637.3 392 C636.17 393.17 633.77 394.03 633.15 395.5 C632.52 396.97 633.59 399.03 633.55 400.8 C633.51 402.57 633.04 404.35 632.92 406.1 C632.79 407.85 632.82 410.44 632.8 411.31 C632.78 410.44 632.8 407.85 632.68 406.1 C632.55 404.35 632.09 402.57 632.05 400.8 C632.01 399.03 633.07 396.97 632.45 395.5 C631.82 394.03 629.42 393.17 628.3 392 C627.17 390.83 626.28 389.67 625.7 388.5 C625.12 387.33 625.47 386.18 624.8 385 C624.13 383.82 622.95 382.58 621.7 381.4 C620.45 380.22 617.82 379.22 617.3 377.9 C616.78 376.58 618.08 374.97 618.6 373.5 C619.12 372.03 619.37 370.42 620.4 369.1 C621.43 367.78 623.18 366.78 624.8 365.6 C626.42 364.42 628.97 363.18 630.1 362 C631.22 360.82 631.12 359.67 631.55 358.5 C631.98 357.33 632.49 359.12 632.68 355 C632.87 350.88 632.66 338.05 632.68 333.8 C632.7 329.55 632.78 330.21 632.8 329.49Z" fill="none" stroke="#000" stroke-width="2.2" stroke-linejoin="round"/>
<circle cx="629.21" cy="362.24" r="1.05" fill="#1f884a"/><circle cx="643.3" cy="367.26" r="1.05" fill="#1f884a"/><circle cx="621.31" cy="369.26" r="1.05" fill="#1f884a"/><circle cx="645.97" cy="369.79" r="1.05" fill="#1f884a"/><circle cx="619.9" cy="371.59" r="1.05" fill="#1f884a"/><circle cx="618.2" cy="376.61" r="1.05" fill="#1f884a"/><circle cx="618.21" cy="378.18" r="1.05" fill="#1f884a"/><circle cx="621.5" cy="380.31" r="1.05" fill="#1f884a"/><circle cx="623.68" cy="384.9" r="1.05" fill="#1f884a"/><circle cx="641.59" cy="384.8" r="1.05" fill="#1f884a"/><circle cx="638.85" cy="387.39" r="1.05" fill="#1f884a"/><circle cx="638.89" cy="389.45" r="1.05" fill="#1f884a"/><circle cx="627.31" cy="392.22" r="1.05" fill="#1f884a"/>
<line x1="617.42" y1="377.5" x2="648.18" y2="377.5" stroke="#000" stroke-width="3" stroke-dasharray="9 3.6" stroke-dashoffset="10.88"/>
<line x1="621.46" y1="370.9" x2="644.14" y2="370.9" stroke="#000" stroke-width="3.3" stroke-linecap="round" stroke-dasharray="0.3 5.9" stroke-dashoffset="11.19"/>
<line x1="624.71" y1="382.8" x2="640.89" y2="382.8" stroke="#000" stroke-width="3.3" stroke-linecap="round" stroke-dasharray="0.3 5.9" stroke-dashoffset="7.94"/>
<path d="M68.9 579.4 V738.3 H188.8" fill="none" stroke="#1a1a1a" stroke-width="1.4"/>
<line x1="64.3" y1="580.1" x2="68.9" y2="580.1" stroke="#1a1a1a" stroke-width="1.25"/>
<text x="62.6" y="583.6" font-size="8.2" text-anchor="end" font-weight="normal" fill="#111" stroke="#111" stroke-width="0.12">4.5</text>
<line x1="64.3" y1="632.7" x2="68.9" y2="632.7" stroke="#1a1a1a" stroke-width="1.25"/>
<text x="62.6" y="636.2" font-size="8.2" text-anchor="end" font-weight="normal" fill="#111" stroke="#111" stroke-width="0.12">4.0</text>
<line x1="64.3" y1="685.2" x2="68.9" y2="685.2" stroke="#1a1a1a" stroke-width="1.25"/>
<text x="62.6" y="688.7" font-size="8.2" text-anchor="end" font-weight="normal" fill="#111" stroke="#111" stroke-width="0.12">3.5</text>
<line x1="64.3" y1="738.3" x2="68.9" y2="738.3" stroke="#1a1a1a" stroke-width="1.25"/>
<text x="62.6" y="741.8" font-size="8.2" text-anchor="end" font-weight="normal" fill="#111" stroke="#111" stroke-width="0.12">3.0</text>
<line x1="103.3" y1="738.3" x2="103.3" y2="742.5" stroke="#1a1a1a" stroke-width="1.4"/>
<line x1="154.4" y1="738.3" x2="154.4" y2="742.5" stroke="#1a1a1a" stroke-width="1.4"/>
<text transform="translate(47.4 659.2) rotate(-90)" font-size="10.53" text-anchor="middle" fill="#111" stroke="#111" stroke-width="0.15">Log-transformed PHE</text>
<text x="126.5" y="546.8" font-size="11.8" text-anchor="middle" font-weight="normal" textLength="78.5" lengthAdjust="spacingAndGlyphs" fill="#111" stroke="#111" stroke-width="0.22">Phenylalanine</text>
<text x="126.8" y="562.2" font-size="11.8" text-anchor="middle" font-weight="normal" textLength="31.8" lengthAdjust="spacingAndGlyphs" fill="#111" stroke="#111" stroke-width="0.22">(PHE)</text>
<path d="M103.3 592.5 V585.9 H154.4 V592.5" fill="none" stroke="#111" stroke-width="1.3"/>
<text x="129.7" y="587.1" font-size="17.5" text-anchor="middle" font-weight="bold" textLength="13.2" lengthAdjust="spacingAndGlyphs" fill="#111">**</text>
<text x="96.4" y="752" font-size="10.7" text-anchor="middle" font-weight="normal" textLength="54.2" lengthAdjust="spacingAndGlyphs" fill="#111" stroke="#111" stroke-width="0.12">PD without</text>
<text x="96.4" y="766.3" font-size="10.7" text-anchor="middle" font-weight="normal" textLength="60" lengthAdjust="spacingAndGlyphs" fill="#111" stroke="#111" stroke-width="0.12">constipation</text>
<text x="160.8" y="752" font-size="10.7" text-anchor="middle" font-weight="normal" textLength="37.4" lengthAdjust="spacingAndGlyphs" fill="#111" stroke="#111" stroke-width="0.12">PD with</text>
<text x="160.8" y="766.3" font-size="10.7" text-anchor="middle" font-weight="normal" textLength="60" lengthAdjust="spacingAndGlyphs" fill="#111" stroke="#111" stroke-width="0.12">constipation</text>
<path d="M103.2 604.39 C103.22 604.98 103.18 606.71 103.32 607.9 C103.46 609.09 103.6 610.13 104.05 611.5 C104.5 612.87 105.46 614.58 106 616.1 C106.54 617.62 106.55 619.1 107.3 620.6 C108.05 622.1 109.43 623.6 110.5 625.1 C111.57 626.6 112.57 628.1 113.7 629.6 C114.83 631.1 116.48 632.75 117.3 634.1 C118.12 635.45 118.38 636.5 118.6 637.7 C118.82 638.9 118.75 640.08 118.6 641.3 C118.45 642.52 118.45 643.78 117.7 645 C116.95 646.22 115.6 647.4 114.1 648.6 C112.6 649.8 110.31 651 108.7 652.2 C107.09 653.4 105.35 654.6 104.45 655.8 C103.55 657 103.51 656.25 103.32 659.4 C103.13 662.55 103.28 671.83 103.32 674.7 C103.36 677.57 103.57 675.1 103.55 676.6 C103.53 678.1 103.26 682.53 103.2 683.71 C103.14 682.53 102.87 678.1 102.85 676.6 C102.83 675.1 103.04 677.57 103.08 674.7 C103.12 671.83 103.27 662.55 103.08 659.4 C102.89 656.25 102.85 657 101.95 655.8 C101.05 654.6 99.31 653.4 97.7 652.2 C96.09 651 93.8 649.8 92.3 648.6 C90.8 647.4 89.45 646.22 88.7 645 C87.95 643.78 87.95 642.52 87.8 641.3 C87.65 640.08 87.58 638.9 87.8 637.7 C88.02 636.5 88.28 635.45 89.1 634.1 C89.92 632.75 91.57 631.1 92.7 629.6 C93.83 628.1 94.83 626.6 95.9 625.1 C96.97 623.6 98.35 622.1 99.1 620.6 C99.85 619.1 99.86 617.62 100.4 616.1 C100.94 614.58 101.9 612.87 102.35 611.5 C102.8 610.13 102.94 609.09 103.08 607.9 C103.22 606.71 103.18 604.98 103.2 604.39Z" fill="url(#por)" stroke="none"/>

<path d="M103.2 604.39 C103.22 604.98 103.18 606.71 103.32 607.9 C103.46 609.09 103.6 610.13 104.05 611.5 C104.5 612.87 105.46 614.58 106 616.1 C106.54 617.62 106.55 619.1 107.3 620.6 C108.05 622.1 109.43 623.6 110.5 625.1 C111.57 626.6 112.57 628.1 113.7 629.6 C114.83 631.1 116.48 632.75 117.3 634.1 C118.12 635.45 118.38 636.5 118.6 637.7 C118.82 638.9 118.75 640.08 118.6 641.3 C118.45 642.52 118.45 643.78 117.7 645 C116.95 646.22 115.6 647.4 114.1 648.6 C112.6 649.8 110.31 651 108.7 652.2 C107.09 653.4 105.35 654.6 104.45 655.8 C103.55 657 103.51 656.25 103.32 659.4 C103.13 662.55 103.28 671.83 103.32 674.7 C103.36 677.57 103.57 675.1 103.55 676.6 C103.53 678.1 103.26 682.53 103.2 683.71 C103.14 682.53 102.87 678.1 102.85 676.6 C102.83 675.1 103.04 677.57 103.08 674.7 C103.12 671.83 103.27 662.55 103.08 659.4 C102.89 656.25 102.85 657 101.95 655.8 C101.05 654.6 99.31 653.4 97.7 652.2 C96.09 651 93.8 649.8 92.3 648.6 C90.8 647.4 89.45 646.22 88.7 645 C87.95 643.78 87.95 642.52 87.8 641.3 C87.65 640.08 87.58 638.9 87.8 637.7 C88.02 636.5 88.28 635.45 89.1 634.1 C89.92 632.75 91.57 631.1 92.7 629.6 C93.83 628.1 94.83 626.6 95.9 625.1 C96.97 623.6 98.35 622.1 99.1 620.6 C99.85 619.1 99.86 617.62 100.4 616.1 C100.94 614.58 101.9 612.87 102.35 611.5 C102.8 610.13 102.94 609.09 103.08 607.9 C103.22 606.71 103.18 604.98 103.2 604.39Z" fill="none" stroke="#000" stroke-width="2.2" stroke-linejoin="round"/>
<circle cx="100.8" cy="617.14" r="1.05" fill="#f7c160"/><circle cx="106.57" cy="619.22" r="1.05" fill="#f7c160"/><circle cx="109.75" cy="626.11" r="1.05" fill="#f7c160"/><circle cx="88.83" cy="633" r="1.05" fill="#f7c160"/><circle cx="87.97" cy="634.9" r="1.05" fill="#f7c160"/><circle cx="118.29" cy="637.02" r="1.05" fill="#f7c160"/><circle cx="119.1" cy="639.14" r="1.05" fill="#f7c160"/><circle cx="88.01" cy="641.38" r="1.05" fill="#f7c160"/><circle cx="119.58" cy="642.35" r="1.05" fill="#f7c160"/><circle cx="89.75" cy="644.58" r="1.05" fill="#f7c160"/><circle cx="115.55" cy="646.99" r="1.05" fill="#f7c160"/><circle cx="113.01" cy="648.7" r="1.05" fill="#f7c160"/><circle cx="95.3" cy="650.94" r="1.05" fill="#f7c160"/><circle cx="99.01" cy="653.96" r="1.05" fill="#f7c160"/>
<line x1="87.8" y1="637.7" x2="118.6" y2="637.7" stroke="#000" stroke-width="3" stroke-dasharray="9 3.6" stroke-dashoffset="10.9"/>
<line x1="93.62" y1="630.7" x2="112.78" y2="630.7" stroke="#000" stroke-width="3.3" stroke-linecap="round" stroke-dasharray="0.3 5.9" stroke-dashoffset="9.43"/>
<line x1="90.38" y1="644.5" x2="116.02" y2="644.5" stroke="#000" stroke-width="3.3" stroke-linecap="round" stroke-dasharray="0.3 5.9" stroke-dashoffset="6.47"/>
<path d="M154.7 599.19 C154.72 599.86 154.69 601.77 154.82 603.2 C154.94 604.63 155.45 606.15 155.45 607.8 C155.45 609.45 154.74 611.7 154.82 613.1 C154.9 614.5 155.15 615.18 155.95 616.2 C156.75 617.22 158.22 618.18 159.6 619.2 C160.97 620.22 163.12 621.27 164.2 622.3 C165.28 623.33 165.53 624.38 166.1 625.4 C166.67 626.42 167.1 627.38 167.6 628.4 C168.1 629.42 168.72 630.48 169.1 631.5 C169.48 632.52 169.9 633.48 169.9 634.5 C169.9 635.52 169.73 636.57 169.1 637.6 C168.47 638.63 167.12 639.68 166.1 640.7 C165.08 641.72 163.9 642.68 163 643.7 C162.1 644.72 161.47 645.78 160.7 646.8 C159.93 647.82 159.12 648.78 158.4 649.8 C157.67 650.82 156.94 651.87 156.35 652.9 C155.76 653.93 155.1 654.98 154.85 656 C154.59 657.02 154.84 657.2 154.82 659 C154.79 660.8 154.72 665.51 154.7 666.81 C154.68 665.51 154.6 660.8 154.58 659 C154.55 657.2 154.8 657.02 154.55 656 C154.29 654.98 153.64 653.93 153.05 652.9 C152.46 651.87 151.72 650.82 151 649.8 C150.28 648.78 149.47 647.82 148.7 646.8 C147.93 645.78 147.3 644.72 146.4 643.7 C145.5 642.68 144.32 641.72 143.3 640.7 C142.28 639.68 140.93 638.63 140.3 637.6 C139.67 636.57 139.5 635.52 139.5 634.5 C139.5 633.48 139.92 632.52 140.3 631.5 C140.68 630.48 141.3 629.42 141.8 628.4 C142.3 627.38 142.73 626.42 143.3 625.4 C143.87 624.38 144.12 623.33 145.2 622.3 C146.28 621.27 148.42 620.22 149.8 619.2 C151.17 618.18 152.65 617.22 153.45 616.2 C154.25 615.18 154.5 614.5 154.58 613.1 C154.66 611.7 153.95 609.45 153.95 607.8 C153.95 606.15 154.45 604.63 154.58 603.2 C154.7 601.77 154.68 599.86 154.7 599.19Z" fill="url(#pbr)" stroke="none"/>

<path d="M154.7 599.19 C154.72 599.86 154.69 601.77 154.82 603.2 C154.94 604.63 155.45 606.15 155.45 607.8 C155.45 609.45 154.74 611.7 154.82 613.1 C154.9 614.5 155.15 615.18 155.95 616.2 C156.75 617.22 158.22 618.18 159.6 619.2 C160.97 620.22 163.12 621.27 164.2 622.3 C165.28 623.33 165.53 624.38 166.1 625.4 C166.67 626.42 167.1 627.38 167.6 628.4 C168.1 629.42 168.72 630.48 169.1 631.5 C169.48 632.52 169.9 633.48 169.9 634.5 C169.9 635.52 169.73 636.57 169.1 637.6 C168.47 638.63 167.12 639.68 166.1 640.7 C165.08 641.72 163.9 642.68 163 643.7 C162.1 644.72 161.47 645.78 160.7 646.8 C159.93 647.82 159.12 648.78 158.4 649.8 C157.67 650.82 156.94 651.87 156.35 652.9 C155.76 653.93 155.1 654.98 154.85 656 C154.59 657.02 154.84 657.2 154.82 659 C154.79 660.8 154.72 665.51 154.7 666.81 C154.68 665.51 154.6 660.8 154.58 659 C154.55 657.2 154.8 657.02 154.55 656 C154.29 654.98 153.64 653.93 153.05 652.9 C152.46 651.87 151.72 650.82 151 649.8 C150.28 648.78 149.47 647.82 148.7 646.8 C147.93 645.78 147.3 644.72 146.4 643.7 C145.5 642.68 144.32 641.72 143.3 640.7 C142.28 639.68 140.93 638.63 140.3 637.6 C139.67 636.57 139.5 635.52 139.5 634.5 C139.5 633.48 139.92 632.52 140.3 631.5 C140.68 630.48 141.3 629.42 141.8 628.4 C142.3 627.38 142.73 626.42 143.3 625.4 C143.87 624.38 144.12 623.33 145.2 622.3 C146.28 621.27 148.42 620.22 149.8 619.2 C151.17 618.18 152.65 617.22 153.45 616.2 C154.25 615.18 154.5 614.5 154.58 613.1 C154.66 611.7 153.95 609.45 153.95 607.8 C153.95 606.15 154.45 604.63 154.58 603.2 C154.7 601.77 154.68 599.86 154.7 599.19Z" fill="none" stroke="#000" stroke-width="2.2" stroke-linejoin="round"/>
<circle cx="151.91" cy="618.46" r="1.05" fill="#8e460a"/><circle cx="158.19" cy="618.26" r="1.05" fill="#8e460a"/><circle cx="144.6" cy="622.61" r="1.05" fill="#8e460a"/><circle cx="165.97" cy="625.44" r="1.05" fill="#8e460a"/><circle cx="141.47" cy="627.39" r="1.05" fill="#8e460a"/><circle cx="140.09" cy="631.54" r="1.05" fill="#8e460a"/><circle cx="168.89" cy="631.52" r="1.05" fill="#8e460a"/><circle cx="139.61" cy="634.58" r="1.05" fill="#8e460a"/><circle cx="139.93" cy="636.95" r="1.05" fill="#8e460a"/><circle cx="144.76" cy="641.81" r="1.05" fill="#8e460a"/><circle cx="165.4" cy="641.57" r="1.05" fill="#8e460a"/><circle cx="164.31" cy="643.35" r="1.05" fill="#8e460a"/><circle cx="150.12" cy="648.18" r="1.05" fill="#8e460a"/><circle cx="151.53" cy="649.96" r="1.05" fill="#8e460a"/><circle cx="157.57" cy="650.06" r="1.05" fill="#8e460a"/>
<line x1="139.66" y1="633.9" x2="169.74" y2="633.9" stroke="#000" stroke-width="3" stroke-dasharray="9 3.6" stroke-dashoffset="10.54"/>
<line x1="144.35" y1="626.9" x2="165.05" y2="626.9" stroke="#000" stroke-width="3.3" stroke-linecap="round" stroke-dasharray="0.3 5.9" stroke-dashoffset="10.2"/>
<line x1="144.33" y1="639.9" x2="165.07" y2="639.9" stroke="#000" stroke-width="3.3" stroke-linecap="round" stroke-dasharray="0.3 5.9" stroke-dashoffset="10.22"/>
<path d="M226.5 577.1 V734.6 H344.7" fill="none" stroke="#1a1a1a" stroke-width="1.4"/>
<line x1="221.9" y1="577.8" x2="226.5" y2="577.8" stroke="#1a1a1a" stroke-width="1.25"/>
<text x="220.2" y="581.3" font-size="8.2" text-anchor="end" font-weight="normal" fill="#111" stroke="#111" stroke-width="0.12">4</text>
<line x1="221.9" y1="616.9" x2="226.5" y2="616.9" stroke="#1a1a1a" stroke-width="1.25"/>
<text x="220.2" y="620.4" font-size="8.2" text-anchor="end" font-weight="normal" fill="#111" stroke="#111" stroke-width="0.12">3</text>
<line x1="221.9" y1="656" x2="226.5" y2="656" stroke="#1a1a1a" stroke-width="1.25"/>
<text x="220.2" y="659.5" font-size="8.2" text-anchor="end" font-weight="normal" fill="#111" stroke="#111" stroke-width="0.12">2</text>
<line x1="221.9" y1="695.2" x2="226.5" y2="695.2" stroke="#1a1a1a" stroke-width="1.25"/>
<text x="220.2" y="698.7" font-size="8.2" text-anchor="end" font-weight="normal" fill="#111" stroke="#111" stroke-width="0.12">1</text>
<line x1="221.9" y1="734.6" x2="226.5" y2="734.6" stroke="#1a1a1a" stroke-width="1.25"/>
<text x="220.2" y="738.1" font-size="8.2" text-anchor="end" font-weight="normal" fill="#111" stroke="#111" stroke-width="0.12">0</text>
<line x1="260.6" y1="734.6" x2="260.6" y2="738.8" stroke="#1a1a1a" stroke-width="1.4"/>
<line x1="312.1" y1="734.6" x2="312.1" y2="738.8" stroke="#1a1a1a" stroke-width="1.4"/>
<text transform="translate(211.2 656.2) rotate(-90)" font-size="10.53" text-anchor="middle" fill="#111" stroke="#111" stroke-width="0.15">Log-transformed PAA</text>
<text x="283.3" y="546.7" font-size="11.8" text-anchor="middle" font-weight="normal" textLength="95" lengthAdjust="spacingAndGlyphs" fill="#111" stroke="#111" stroke-width="0.22">Phenylacetic acid</text>
<text x="284.4" y="562.6" font-size="11.8" text-anchor="middle" font-weight="normal" textLength="30.2" lengthAdjust="spacingAndGlyphs" fill="#111" stroke="#111" stroke-width="0.22">(PAA)</text>
<path d="M260.6 613 V606.2 H312.1 V613" fill="none" stroke="#111" stroke-width="1.3"/>
<text x="285.8" y="607.4" font-size="17.5" text-anchor="middle" font-weight="bold" textLength="6.6" lengthAdjust="spacingAndGlyphs" fill="#111">*</text>
<text x="251" y="750.9" font-size="10.7" text-anchor="middle" font-weight="normal" textLength="54.2" lengthAdjust="spacingAndGlyphs" fill="#111" stroke="#111" stroke-width="0.12">PD without</text>
<text x="251" y="765.2" font-size="10.7" text-anchor="middle" font-weight="normal" textLength="60" lengthAdjust="spacingAndGlyphs" fill="#111" stroke="#111" stroke-width="0.12">constipation</text>
<text x="315.5" y="750.9" font-size="10.7" text-anchor="middle" font-weight="normal" textLength="37.4" lengthAdjust="spacingAndGlyphs" fill="#111" stroke="#111" stroke-width="0.12">PD with</text>
<text x="315.5" y="765.2" font-size="10.7" text-anchor="middle" font-weight="normal" textLength="60" lengthAdjust="spacingAndGlyphs" fill="#111" stroke="#111" stroke-width="0.12">constipation</text>
<path d="M260.9 625.09 C260.92 625.94 260.69 628.67 261.02 630.2 C261.35 631.74 262.17 632.93 262.9 634.3 C263.63 635.67 264.82 637.05 265.4 638.4 C265.98 639.75 265.97 641.05 266.4 642.4 C266.83 643.75 267.07 645.3 268 646.5 C268.93 647.7 270.82 648.57 272 649.6 C273.18 650.63 274.37 651.52 275.1 652.7 C275.83 653.88 276.48 655.35 276.4 656.7 C276.32 658.05 275.33 659.43 274.6 660.8 C273.87 662.17 272.43 663.53 272 664.9 C271.57 666.27 272.17 667.63 272 669 C271.83 670.37 271.85 671.75 271 673.1 C270.15 674.45 268.36 675.75 266.9 677.1 C265.44 678.45 263.23 679.83 262.25 681.2 C261.27 682.57 261.22 681.05 261.02 685.3 C260.81 689.55 260.81 702.45 261.02 706.7 C261.22 710.95 262.23 709.43 262.25 710.8 C262.27 712.17 261.38 713.37 261.15 714.9 C260.92 716.43 260.94 719.16 260.9 720.01 C260.86 719.16 260.88 716.43 260.65 714.9 C260.42 713.37 259.53 712.17 259.55 710.8 C259.57 709.43 260.57 710.95 260.78 706.7 C260.98 702.45 260.98 689.55 260.78 685.3 C260.57 681.05 260.53 682.57 259.55 681.2 C258.57 679.83 256.36 678.45 254.9 677.1 C253.44 675.75 251.65 674.45 250.8 673.1 C249.95 671.75 249.97 670.37 249.8 669 C249.63 667.63 250.23 666.27 249.8 664.9 C249.37 663.53 247.93 662.17 247.2 660.8 C246.47 659.43 245.48 658.05 245.4 656.7 C245.32 655.35 245.97 653.88 246.7 652.7 C247.43 651.52 248.62 650.63 249.8 649.6 C250.98 648.57 252.87 647.7 253.8 646.5 C254.73 645.3 254.97 643.75 255.4 642.4 C255.83 641.05 255.82 639.75 256.4 638.4 C256.98 637.05 258.17 635.67 258.9 634.3 C259.63 632.93 260.45 631.74 260.78 630.2 C261.11 628.67 260.88 625.94 260.9 625.09Z" fill="url(#por)" stroke="none"/>

<path d="M260.9 625.09 C260.92 625.94 260.69 628.67 261.02 630.2 C261.35 631.74 262.17 632.93 262.9 634.3 C263.63 635.67 264.82 637.05 265.4 638.4 C265.98 639.75 265.97 641.05 266.4 642.4 C266.83 643.75 267.07 645.3 268 646.5 C268.93 647.7 270.82 648.57 272 649.6 C273.18 650.63 274.37 651.52 275.1 652.7 C275.83 653.88 276.48 655.35 276.4 656.7 C276.32 658.05 275.33 659.43 274.6 660.8 C273.87 662.17 272.43 663.53 272 664.9 C271.57 666.27 272.17 667.63 272 669 C271.83 670.37 271.85 671.75 271 673.1 C270.15 674.45 268.36 675.75 266.9 677.1 C265.44 678.45 263.23 679.83 262.25 681.2 C261.27 682.57 261.22 681.05 261.02 685.3 C260.81 689.55 260.81 702.45 261.02 706.7 C261.22 710.95 262.23 709.43 262.25 710.8 C262.27 712.17 261.38 713.37 261.15 714.9 C260.92 716.43 260.94 719.16 260.9 720.01 C260.86 719.16 260.88 716.43 260.65 714.9 C260.42 713.37 259.53 712.17 259.55 710.8 C259.57 709.43 260.57 710.95 260.78 706.7 C260.98 702.45 260.98 689.55 260.78 685.3 C260.57 681.05 260.53 682.57 259.55 681.2 C258.57 679.83 256.36 678.45 254.9 677.1 C253.44 675.75 251.65 674.45 250.8 673.1 C249.95 671.75 249.97 670.37 249.8 669 C249.63 667.63 250.23 666.27 249.8 664.9 C249.37 663.53 247.93 662.17 247.2 660.8 C246.47 659.43 245.48 658.05 245.4 656.7 C245.32 655.35 245.97 653.88 246.7 652.7 C247.43 651.52 248.62 650.63 249.8 649.6 C250.98 648.57 252.87 647.7 253.8 646.5 C254.73 645.3 254.97 643.75 255.4 642.4 C255.83 641.05 255.82 639.75 256.4 638.4 C256.98 637.05 258.17 635.67 258.9 634.3 C259.63 632.93 260.45 631.74 260.78 630.2 C261.11 628.67 260.88 625.94 260.9 625.09Z" fill="none" stroke="#000" stroke-width="2.2" stroke-linejoin="round"/>
<circle cx="264.17" cy="637.63" r="1.05" fill="#f7c160"/><circle cx="266.64" cy="639.74" r="1.05" fill="#f7c160"/><circle cx="255.13" cy="641.58" r="1.05" fill="#f7c160"/><circle cx="267.34" cy="641.82" r="1.05" fill="#f7c160"/><circle cx="266.17" cy="643.65" r="1.05" fill="#f7c160"/><circle cx="252.03" cy="649.18" r="1.05" fill="#f7c160"/><circle cx="273.78" cy="650.63" r="1.05" fill="#f7c160"/><circle cx="277.33" cy="655.22" r="1.05" fill="#f7c160"/><circle cx="245.42" cy="657.5" r="1.05" fill="#f7c160"/><circle cx="275.78" cy="658.17" r="1.05" fill="#f7c160"/><circle cx="247.9" cy="663" r="1.05" fill="#f7c160"/><circle cx="274.2" cy="662.3" r="1.05" fill="#f7c160"/><circle cx="251.09" cy="665.2" r="1.05" fill="#f7c160"/><circle cx="250.64" cy="669.21" r="1.05" fill="#f7c160"/><circle cx="251.54" cy="671.61" r="1.05" fill="#f7c160"/><circle cx="271.17" cy="671.94" r="1.05" fill="#f7c160"/><circle cx="269.06" cy="674.08" r="1.05" fill="#f7c160"/>
<line x1="246.32" y1="658.8" x2="275.48" y2="658.8" stroke="#000" stroke-width="3" stroke-dasharray="9 3.6" stroke-dashoffset="10.08"/>
<line x1="249.4" y1="651.8" x2="272.4" y2="651.8" stroke="#000" stroke-width="3.3" stroke-linecap="round" stroke-dasharray="0.3 5.9" stroke-dashoffset="11.35"/>
<line x1="251.6" y1="669" x2="270.2" y2="669" stroke="#000" stroke-width="3.3" stroke-linecap="round" stroke-dasharray="0.3 5.9" stroke-dashoffset="9.15"/>
<path d="M312.1 619.69 C312.12 620.69 311.93 623.82 312.22 625.7 C312.51 627.59 313.02 629.22 313.85 631 C314.68 632.78 316.03 634.78 317.2 636.4 C318.38 638.02 319.65 639.27 320.9 640.7 C322.15 642.13 323.8 643.58 324.7 645 C325.6 646.42 325.92 647.78 326.3 649.2 C326.68 650.62 327 652.07 327 653.5 C327 654.93 326.68 656.37 326.3 657.8 C325.92 659.23 325.42 660.68 324.7 662.1 C323.98 663.52 322.98 664.88 322 666.3 C321.02 667.72 319.68 669.17 318.8 670.6 C317.92 672.03 317.23 673.47 316.7 674.9 C316.17 676.33 316.34 677.78 315.6 679.2 C314.86 680.62 312.81 681.98 312.25 683.4 C311.69 684.82 312.23 683.77 312.22 687.7 C312.22 691.63 312.13 703.07 312.22 707 C312.31 710.93 312.75 710.05 312.75 711.3 C312.75 712.55 312.33 713.07 312.22 714.5 C312.11 715.93 312.12 719.01 312.1 719.91 C312.08 719.01 312.09 715.93 311.98 714.5 C311.87 713.07 311.45 712.55 311.45 711.3 C311.45 710.05 311.89 710.93 311.98 707 C312.07 703.07 311.99 691.63 311.98 687.7 C311.98 683.77 312.51 684.82 311.95 683.4 C311.39 681.98 309.34 680.62 308.6 679.2 C307.86 677.78 308.03 676.33 307.5 674.9 C306.97 673.47 306.28 672.03 305.4 670.6 C304.52 669.17 303.18 667.72 302.2 666.3 C301.22 664.88 300.22 663.52 299.5 662.1 C298.78 660.68 298.28 659.23 297.9 657.8 C297.52 656.37 297.2 654.93 297.2 653.5 C297.2 652.07 297.52 650.62 297.9 649.2 C298.28 647.78 298.6 646.42 299.5 645 C300.4 643.58 302.05 642.13 303.3 640.7 C304.55 639.27 305.82 638.02 307 636.4 C308.18 634.78 309.52 632.78 310.35 631 C311.18 629.22 311.69 627.59 311.98 625.7 C312.27 623.82 312.08 620.69 312.1 619.69Z" fill="url(#pbr)" stroke="none"/>

<path d="M312.1 619.69 C312.12 620.69 311.93 623.82 312.22 625.7 C312.51 627.59 313.02 629.22 313.85 631 C314.68 632.78 316.03 634.78 317.2 636.4 C318.38 638.02 319.65 639.27 320.9 640.7 C322.15 642.13 323.8 643.58 324.7 645 C325.6 646.42 325.92 647.78 326.3 649.2 C326.68 650.62 327 652.07 327 653.5 C327 654.93 326.68 656.37 326.3 657.8 C325.92 659.23 325.42 660.68 324.7 662.1 C323.98 663.52 322.98 664.88 322 666.3 C321.02 667.72 319.68 669.17 318.8 670.6 C317.92 672.03 317.23 673.47 316.7 674.9 C316.17 676.33 316.34 677.78 315.6 679.2 C314.86 680.62 312.81 681.98 312.25 683.4 C311.69 684.82 312.23 683.77 312.22 687.7 C312.22 691.63 312.13 703.07 312.22 707 C312.31 710.93 312.75 710.05 312.75 711.3 C312.75 712.55 312.33 713.07 312.22 714.5 C312.11 715.93 312.12 719.01 312.1 719.91 C312.08 719.01 312.09 715.93 311.98 714.5 C311.87 713.07 311.45 712.55 311.45 711.3 C311.45 710.05 311.89 710.93 311.98 707 C312.07 703.07 311.99 691.63 311.98 687.7 C311.98 683.77 312.51 684.82 311.95 683.4 C311.39 681.98 309.34 680.62 308.6 679.2 C307.86 677.78 308.03 676.33 307.5 674.9 C306.97 673.47 306.28 672.03 305.4 670.6 C304.52 669.17 303.18 667.72 302.2 666.3 C301.22 664.88 300.22 663.52 299.5 662.1 C298.78 660.68 298.28 659.23 297.9 657.8 C297.52 656.37 297.2 654.93 297.2 653.5 C297.2 652.07 297.52 650.62 297.9 649.2 C298.28 647.78 298.6 646.42 299.5 645 C300.4 643.58 302.05 642.13 303.3 640.7 C304.55 639.27 305.82 638.02 307 636.4 C308.18 634.78 309.52 632.78 310.35 631 C311.18 629.22 311.69 627.59 311.98 625.7 C312.27 623.82 312.08 620.69 312.1 619.69Z" fill="none" stroke="#000" stroke-width="2.2" stroke-linejoin="round"/>
<circle cx="308.95" cy="634.18" r="1.05" fill="#8e460a"/><circle cx="320.07" cy="639.19" r="1.05" fill="#8e460a"/><circle cx="303.96" cy="640.8" r="1.05" fill="#8e460a"/><circle cx="322.35" cy="640.81" r="1.05" fill="#8e460a"/><circle cx="325.74" cy="645.49" r="1.05" fill="#8e460a"/><circle cx="297.95" cy="648.4" r="1.05" fill="#8e460a"/><circle cx="296.4" cy="650.15" r="1.05" fill="#8e460a"/><circle cx="326.65" cy="652.39" r="1.05" fill="#8e460a"/><circle cx="298.55" cy="655.15" r="1.05" fill="#8e460a"/><circle cx="327.82" cy="654.37" r="1.05" fill="#8e460a"/><circle cx="298.61" cy="657.72" r="1.05" fill="#8e460a"/><circle cx="299.56" cy="661.46" r="1.05" fill="#8e460a"/><circle cx="325.04" cy="661.54" r="1.05" fill="#8e460a"/><circle cx="300.7" cy="664.61" r="1.05" fill="#8e460a"/><circle cx="322.71" cy="665.93" r="1.05" fill="#8e460a"/><circle cx="321.59" cy="668.74" r="1.05" fill="#8e460a"/><circle cx="306.16" cy="671.05" r="1.05" fill="#8e460a"/><circle cx="307.45" cy="673.31" r="1.05" fill="#8e460a"/><circle cx="307.27" cy="676.09" r="1.05" fill="#8e460a"/><circle cx="317.41" cy="675.62" r="1.05" fill="#8e460a"/><circle cx="309.42" cy="678.42" r="1.05" fill="#8e460a"/><circle cx="308.21" cy="680.28" r="1.05" fill="#8e460a"/>
<line x1="297.54" y1="655.6" x2="326.66" y2="655.6" stroke="#000" stroke-width="3" stroke-dasharray="9 3.6" stroke-dashoffset="10.06"/>
<line x1="300.69" y1="646.6" x2="323.51" y2="646.6" stroke="#000" stroke-width="3.3" stroke-linecap="round" stroke-dasharray="0.3 5.9" stroke-dashoffset="11.26"/>
<line x1="302.78" y1="664.4" x2="321.42" y2="664.4" stroke="#000" stroke-width="3.3" stroke-linecap="round" stroke-dasharray="0.3 5.9" stroke-dashoffset="9.17"/>
<path d="M385.2 577.1 V734.9 H504.7" fill="none" stroke="#1a1a1a" stroke-width="1.4"/>
<line x1="380.6" y1="577.8" x2="385.2" y2="577.8" stroke="#1a1a1a" stroke-width="1.25"/>
<text x="378.9" y="581.3" font-size="8.2" text-anchor="end" font-weight="normal" fill="#111" stroke="#111" stroke-width="0.12">5</text>
<line x1="380.6" y1="609" x2="385.2" y2="609" stroke="#1a1a1a" stroke-width="1.25"/>
<text x="378.9" y="612.5" font-size="8.2" text-anchor="end" font-weight="normal" fill="#111" stroke="#111" stroke-width="0.12">4</text>
<line x1="380.6" y1="640.3" x2="385.2" y2="640.3" stroke="#1a1a1a" stroke-width="1.25"/>
<text x="378.9" y="643.8" font-size="8.2" text-anchor="end" font-weight="normal" fill="#111" stroke="#111" stroke-width="0.12">3</text>
<line x1="380.6" y1="671.8" x2="385.2" y2="671.8" stroke="#1a1a1a" stroke-width="1.25"/>
<text x="378.9" y="675.3" font-size="8.2" text-anchor="end" font-weight="normal" fill="#111" stroke="#111" stroke-width="0.12">2</text>
<line x1="380.6" y1="703.1" x2="385.2" y2="703.1" stroke="#1a1a1a" stroke-width="1.25"/>
<text x="378.9" y="706.6" font-size="8.2" text-anchor="end" font-weight="normal" fill="#111" stroke="#111" stroke-width="0.12">1</text>
<line x1="380.6" y1="734.9" x2="385.2" y2="734.9" stroke="#1a1a1a" stroke-width="1.25"/>
<text x="378.9" y="738.4" font-size="8.2" text-anchor="end" font-weight="normal" fill="#111" stroke="#111" stroke-width="0.12">0</text>
<line x1="419.3" y1="734.9" x2="419.3" y2="739.1" stroke="#1a1a1a" stroke-width="1.4"/>
<line x1="470.6" y1="734.9" x2="470.6" y2="739.1" stroke="#1a1a1a" stroke-width="1.4"/>
<text transform="translate(369.9 656.35) rotate(-90)" font-size="10.53" text-anchor="middle" fill="#111" stroke="#111" stroke-width="0.15">Log-transformed PAGln</text>
<text x="447.2" y="546.7" font-size="11.8" text-anchor="middle" font-weight="normal" textLength="126.5" lengthAdjust="spacingAndGlyphs" fill="#111" stroke="#111" stroke-width="0.22">Phenylacetylglutamine</text>
<text x="447.1" y="562.6" font-size="11.8" text-anchor="middle" font-weight="normal" textLength="41.4" lengthAdjust="spacingAndGlyphs" fill="#111" stroke="#111" stroke-width="0.22">(PAGln)</text>
<path d="M419.3 592 V585.4 H470.6 V592" fill="none" stroke="#111" stroke-width="1.3"/>
<text x="445.1" y="585.9" font-size="17.5" text-anchor="middle" font-weight="bold" textLength="13.2" lengthAdjust="spacingAndGlyphs" fill="#111">**</text>
<text x="415" y="751.8" font-size="10.7" text-anchor="middle" font-weight="normal" textLength="54.2" lengthAdjust="spacingAndGlyphs" fill="#111" stroke="#111" stroke-width="0.12">PD without</text>
<text x="415" y="766.1" font-size="10.7" text-anchor="middle" font-weight="normal" textLength="60" lengthAdjust="spacingAndGlyphs" fill="#111" stroke="#111" stroke-width="0.12">constipation</text>
<text x="479.3" y="751.8" font-size="10.7" text-anchor="middle" font-weight="normal" textLength="37.4" lengthAdjust="spacingAndGlyphs" fill="#111" stroke="#111" stroke-width="0.12">PD with</text>
<text x="479.3" y="766.1" font-size="10.7" text-anchor="middle" font-weight="normal" textLength="60" lengthAdjust="spacingAndGlyphs" fill="#111" stroke="#111" stroke-width="0.12">constipation</text>
<path d="M419.5 617.19 C419.52 617.86 419.19 619.98 419.62 621.2 C420.05 622.42 420.72 623.25 422.1 624.5 C423.48 625.75 426.38 627.45 427.9 628.7 C429.42 629.95 430.57 630.9 431.2 632 C431.83 633.1 431.62 634.18 431.7 635.3 C431.78 636.42 431.37 637.58 431.7 638.7 C432.03 639.82 433.15 640.9 433.7 642 C434.25 643.1 435.2 644.18 435 645.3 C434.8 646.42 433.4 647.58 432.5 648.7 C431.6 649.82 430.3 650.9 429.6 652 C428.9 653.1 428.65 654.18 428.3 655.3 C427.95 656.42 427.98 657.58 427.5 658.7 C427.02 659.82 426.17 660.9 425.4 662 C424.63 663.1 423.43 664.18 422.9 665.3 C422.37 666.42 422.33 667.58 422.2 668.7 C422.07 669.82 422.43 670.9 422.1 672 C421.78 673.1 420.66 674.18 420.25 675.3 C419.84 676.42 419.73 676.75 419.62 678.7 C419.51 680.65 419.64 684.82 419.62 687 C419.6 689.18 419.52 691.01 419.5 691.81 C419.48 691.01 419.4 689.18 419.38 687 C419.36 684.82 419.49 680.65 419.38 678.7 C419.27 676.75 419.16 676.42 418.75 675.3 C418.34 674.18 417.22 673.1 416.9 672 C416.57 670.9 416.93 669.82 416.8 668.7 C416.67 667.58 416.63 666.42 416.1 665.3 C415.57 664.18 414.37 663.1 413.6 662 C412.83 660.9 411.98 659.82 411.5 658.7 C411.02 657.58 411.05 656.42 410.7 655.3 C410.35 654.18 410.1 653.1 409.4 652 C408.7 650.9 407.4 649.82 406.5 648.7 C405.6 647.58 404.2 646.42 404 645.3 C403.8 644.18 404.75 643.1 405.3 642 C405.85 640.9 406.97 639.82 407.3 638.7 C407.63 637.58 407.22 636.42 407.3 635.3 C407.38 634.18 407.17 633.1 407.8 632 C408.43 630.9 409.58 629.95 411.1 628.7 C412.62 627.45 415.52 625.75 416.9 624.5 C418.28 623.25 418.95 622.42 419.38 621.2 C419.81 619.98 419.48 617.86 419.5 617.19Z" fill="url(#por)" stroke="none"/>

<path d="M419.5 617.19 C419.52 617.86 419.19 619.98 419.62 621.2 C420.05 622.42 420.72 623.25 422.1 624.5 C423.48 625.75 426.38 627.45 427.9 628.7 C429.42 629.95 430.57 630.9 431.2 632 C431.83 633.1 431.62 634.18 431.7 635.3 C431.78 636.42 431.37 637.58 431.7 638.7 C432.03 639.82 433.15 640.9 433.7 642 C434.25 643.1 435.2 644.18 435 645.3 C434.8 646.42 433.4 647.58 432.5 648.7 C431.6 649.82 430.3 650.9 429.6 652 C428.9 653.1 428.65 654.18 428.3 655.3 C427.95 656.42 427.98 657.58 427.5 658.7 C427.02 659.82 426.17 660.9 425.4 662 C424.63 663.1 423.43 664.18 422.9 665.3 C422.37 666.42 422.33 667.58 422.2 668.7 C422.07 669.82 422.43 670.9 422.1 672 C421.78 673.1 420.66 674.18 420.25 675.3 C419.84 676.42 419.73 676.75 419.62 678.7 C419.51 680.65 419.64 684.82 419.62 687 C419.6 689.18 419.52 691.01 419.5 691.81 C419.48 691.01 419.4 689.18 419.38 687 C419.36 684.82 419.49 680.65 419.38 678.7 C419.27 676.75 419.16 676.42 418.75 675.3 C418.34 674.18 417.22 673.1 416.9 672 C416.57 670.9 416.93 669.82 416.8 668.7 C416.67 667.58 416.63 666.42 416.1 665.3 C415.57 664.18 414.37 663.1 413.6 662 C412.83 660.9 411.98 659.82 411.5 658.7 C411.02 657.58 411.05 656.42 410.7 655.3 C410.35 654.18 410.1 653.1 409.4 652 C408.7 650.9 407.4 649.82 406.5 648.7 C405.6 647.58 404.2 646.42 404 645.3 C403.8 644.18 404.75 643.1 405.3 642 C405.85 640.9 406.97 639.82 407.3 638.7 C407.63 637.58 407.22 636.42 407.3 635.3 C407.38 634.18 407.17 633.1 407.8 632 C408.43 630.9 409.58 629.95 411.1 628.7 C412.62 627.45 415.52 625.75 416.9 624.5 C418.28 623.25 418.95 622.42 419.38 621.2 C419.81 619.98 419.48 617.86 419.5 617.19Z" fill="none" stroke="#000" stroke-width="2.2" stroke-linejoin="round"/>
<circle cx="415.79" cy="624.5" r="1.05" fill="#f7c160"/><circle cx="411.16" cy="629.62" r="1.05" fill="#f7c160"/><circle cx="406.72" cy="631.25" r="1.05" fill="#f7c160"/><circle cx="429.83" cy="631.63" r="1.05" fill="#f7c160"/><circle cx="406.71" cy="635.82" r="1.05" fill="#f7c160"/><circle cx="407.64" cy="638.05" r="1.05" fill="#f7c160"/><circle cx="405.21" cy="640.69" r="1.05" fill="#f7c160"/><circle cx="406.23" cy="648.24" r="1.05" fill="#f7c160"/><circle cx="433" cy="647.69" r="1.05" fill="#f7c160"/><circle cx="431.75" cy="650.4" r="1.05" fill="#f7c160"/><circle cx="430.69" cy="652.16" r="1.05" fill="#f7c160"/><circle cx="427.8" cy="659.3" r="1.05" fill="#f7c160"/><circle cx="424" cy="663.29" r="1.05" fill="#f7c160"/><circle cx="422.39" cy="668.46" r="1.05" fill="#f7c160"/><circle cx="417.62" cy="671.36" r="1.05" fill="#f7c160"/>
<line x1="404" y1="645.3" x2="435" y2="645.3" stroke="#000" stroke-width="3" stroke-dasharray="9 3.6" stroke-dashoffset="11"/>
<line x1="409.1" y1="636.8" x2="429.9" y2="636.8" stroke="#000" stroke-width="3.3" stroke-linecap="round" stroke-dasharray="0.3 5.9" stroke-dashoffset="10.25"/>
<line x1="412.34" y1="654.9" x2="426.66" y2="654.9" stroke="#000" stroke-width="3.3" stroke-linecap="round" stroke-dasharray="0.3 5.9" stroke-dashoffset="7.01"/>
<path d="M470.7 598.59 C470.72 599.33 470.8 599.25 470.82 603 C470.84 606.75 470.55 617.48 470.82 621.1 C471.09 624.72 471.34 623.5 472.45 624.7 C473.56 625.9 475.82 627.1 477.5 628.3 C479.18 629.5 481.07 630.7 482.5 631.9 C483.93 633.1 485.95 634.3 486.1 635.5 C486.25 636.7 484.3 637.88 483.4 639.1 C482.5 640.32 481.37 641.58 480.7 642.8 C480.03 644.02 479.78 645.2 479.4 646.4 C479.02 647.6 478.87 648.8 478.4 650 C477.93 651.2 477.2 652.4 476.6 653.6 C476 654.8 475.32 656 474.8 657.2 C474.28 658.4 473.89 659.6 473.5 660.8 C473.11 662 472.77 663.2 472.45 664.4 C472.12 665.6 471.82 666.48 471.55 668 C471.28 669.52 470.96 671.33 470.82 673.5 C470.68 675.67 470.72 679.76 470.7 681.01 C470.68 679.76 470.72 675.67 470.58 673.5 C470.44 671.33 470.12 669.52 469.85 668 C469.58 666.48 469.27 665.6 468.95 664.4 C468.62 663.2 468.29 662 467.9 660.8 C467.51 659.6 467.12 658.4 466.6 657.2 C466.08 656 465.4 654.8 464.8 653.6 C464.2 652.4 463.47 651.2 463 650 C462.53 648.8 462.38 647.6 462 646.4 C461.62 645.2 461.37 644.02 460.7 642.8 C460.03 641.58 458.9 640.32 458 639.1 C457.1 637.88 455.15 636.7 455.3 635.5 C455.45 634.3 457.47 633.1 458.9 631.9 C460.33 630.7 462.22 629.5 463.9 628.3 C465.57 627.1 467.84 625.9 468.95 624.7 C470.06 623.5 470.31 624.72 470.58 621.1 C470.85 617.48 470.56 606.75 470.58 603 C470.6 599.25 470.68 599.33 470.7 598.59Z" fill="url(#pbr)" stroke="none"/>

<path d="M470.7 598.59 C470.72 599.33 470.8 599.25 470.82 603 C470.84 606.75 470.55 617.48 470.82 621.1 C471.09 624.72 471.34 623.5 472.45 624.7 C473.56 625.9 475.82 627.1 477.5 628.3 C479.18 629.5 481.07 630.7 482.5 631.9 C483.93 633.1 485.95 634.3 486.1 635.5 C486.25 636.7 484.3 637.88 483.4 639.1 C482.5 640.32 481.37 641.58 480.7 642.8 C480.03 644.02 479.78 645.2 479.4 646.4 C479.02 647.6 478.87 648.8 478.4 650 C477.93 651.2 477.2 652.4 476.6 653.6 C476 654.8 475.32 656 474.8 657.2 C474.28 658.4 473.89 659.6 473.5 660.8 C473.11 662 472.77 663.2 472.45 664.4 C472.12 665.6 471.82 666.48 471.55 668 C471.28 669.52 470.96 671.33 470.82 673.5 C470.68 675.67 470.72 679.76 470.7 681.01 C470.68 679.76 470.72 675.67 470.58 673.5 C470.44 671.33 470.12 669.52 469.85 668 C469.58 666.48 469.27 665.6 468.95 664.4 C468.62 663.2 468.29 662 467.9 660.8 C467.51 659.6 467.12 658.4 466.6 657.2 C466.08 656 465.4 654.8 464.8 653.6 C464.2 652.4 463.47 651.2 463 650 C462.53 648.8 462.38 647.6 462 646.4 C461.62 645.2 461.37 644.02 460.7 642.8 C460.03 641.58 458.9 640.32 458 639.1 C457.1 637.88 455.15 636.7 455.3 635.5 C455.45 634.3 457.47 633.1 458.9 631.9 C460.33 630.7 462.22 629.5 463.9 628.3 C465.57 627.1 467.84 625.9 468.95 624.7 C470.06 623.5 470.31 624.72 470.58 621.1 C470.85 617.48 470.56 606.75 470.58 603 C470.6 599.25 470.68 599.33 470.7 598.59Z" fill="none" stroke="#000" stroke-width="2.2" stroke-linejoin="round"/>
<circle cx="464.94" cy="627.07" r="1.05" fill="#8e460a"/><circle cx="475.96" cy="626.56" r="1.05" fill="#8e460a"/><circle cx="463.94" cy="629.38" r="1.05" fill="#8e460a"/><circle cx="457.48" cy="634.07" r="1.05" fill="#8e460a"/><circle cx="484.7" cy="634.1" r="1.05" fill="#8e460a"/><circle cx="455.19" cy="635.56" r="1.05" fill="#8e460a"/><circle cx="486.63" cy="635.67" r="1.05" fill="#8e460a"/><circle cx="458.73" cy="638.71" r="1.05" fill="#8e460a"/><circle cx="483.87" cy="638.32" r="1.05" fill="#8e460a"/><circle cx="481.48" cy="643.31" r="1.05" fill="#8e460a"/><circle cx="463.01" cy="652.78" r="1.05" fill="#8e460a"/><circle cx="476.18" cy="652" r="1.05" fill="#8e460a"/><circle cx="465.55" cy="654" r="1.05" fill="#8e460a"/><circle cx="474.86" cy="654.4" r="1.05" fill="#8e460a"/><circle cx="465.73" cy="656.66" r="1.05" fill="#8e460a"/><circle cx="476.28" cy="657.26" r="1.05" fill="#8e460a"/><circle cx="473.9" cy="659.03" r="1.05" fill="#8e460a"/><circle cx="469.3" cy="661.34" r="1.05" fill="#8e460a"/>
<line x1="459.39" y1="641" x2="482.01" y2="641" stroke="#000" stroke-width="3" stroke-dasharray="9 3.6" stroke-dashoffset="19.41"/>
<line x1="457.5" y1="635.1" x2="483.9" y2="635.1" stroke="#000" stroke-width="3.3" stroke-linecap="round" stroke-dasharray="0.3 5.9" stroke-dashoffset="6.85"/>
<line x1="464.61" y1="649.3" x2="476.79" y2="649.3" stroke="#000" stroke-width="3.3" stroke-linecap="round" stroke-dasharray="0.3 5.9" stroke-dashoffset="12.14"/>
<path d="M547.4 576.3 V734.6 H666.6" fill="none" stroke="#1a1a1a" stroke-width="1.4"/>
<line x1="542.8" y1="577" x2="547.4" y2="577" stroke="#1a1a1a" stroke-width="1.25"/>
<text x="541.1" y="580.5" font-size="8.2" text-anchor="end" font-weight="normal" fill="#111" stroke="#111" stroke-width="0.12">3</text>
<line x1="542.8" y1="629.5" x2="547.4" y2="629.5" stroke="#1a1a1a" stroke-width="1.25"/>
<text x="541.1" y="633" font-size="8.2" text-anchor="end" font-weight="normal" fill="#111" stroke="#111" stroke-width="0.12">2</text>
<line x1="542.8" y1="682.1" x2="547.4" y2="682.1" stroke="#1a1a1a" stroke-width="1.25"/>
<text x="541.1" y="685.6" font-size="8.2" text-anchor="end" font-weight="normal" fill="#111" stroke="#111" stroke-width="0.12">1</text>
<line x1="542.8" y1="734.6" x2="547.4" y2="734.6" stroke="#1a1a1a" stroke-width="1.25"/>
<text x="541.1" y="738.1" font-size="8.2" text-anchor="end" font-weight="normal" fill="#111" stroke="#111" stroke-width="0.12">0</text>
<line x1="581.2" y1="734.6" x2="581.2" y2="738.8" stroke="#1a1a1a" stroke-width="1.4"/>
<line x1="633" y1="734.6" x2="633" y2="738.8" stroke="#1a1a1a" stroke-width="1.4"/>
<text transform="translate(532.1 655.8) rotate(-90)" font-size="10.53" text-anchor="middle" fill="#111" stroke="#111" stroke-width="0.15">Log-transformed PLA</text>
<text x="600.1" y="546.7" font-size="11.8" text-anchor="middle" font-weight="normal" textLength="91.8" lengthAdjust="spacingAndGlyphs" fill="#111" stroke="#111" stroke-width="0.22">Phenyllactic acid</text>
<text x="600.2" y="562.6" font-size="11.8" text-anchor="middle" font-weight="normal" textLength="29.1" lengthAdjust="spacingAndGlyphs" fill="#111" stroke="#111" stroke-width="0.22">(PLA)</text>
<path d="M581.2 602 V594.6 H633 V602" fill="none" stroke="#111" stroke-width="1.3"/>
<text x="607.5" y="595.6" font-size="17.5" text-anchor="middle" font-weight="bold" textLength="13.2" lengthAdjust="spacingAndGlyphs" fill="#111">**</text>
<text x="573.3" y="749.8" font-size="10.7" text-anchor="middle" font-weight="normal" textLength="54.2" lengthAdjust="spacingAndGlyphs" fill="#111" stroke="#111" stroke-width="0.12">PD without</text>
<text x="573.3" y="764.1" font-size="10.7" text-anchor="middle" font-weight="normal" textLength="60" lengthAdjust="spacingAndGlyphs" fill="#111" stroke="#111" stroke-width="0.12">constipation</text>
<text x="637.7" y="749.8" font-size="10.7" text-anchor="middle" font-weight="normal" textLength="37.4" lengthAdjust="spacingAndGlyphs" fill="#111" stroke="#111" stroke-width="0.12">PD with</text>
<text x="637.7" y="764.1" font-size="10.7" text-anchor="middle" font-weight="normal" textLength="60" lengthAdjust="spacingAndGlyphs" fill="#111" stroke="#111" stroke-width="0.12">constipation</text>
<path d="M581.9 622.19 C581.92 622.83 582 624.01 582.02 626 C582.04 627.99 581.64 632.08 582.02 634.1 C582.4 636.12 583.59 636.77 584.3 638.1 C585.01 639.43 586.03 640.9 586.3 642.1 C586.57 643.3 586.1 644.23 585.9 645.3 C585.7 646.37 584.77 647.43 585.1 648.5 C585.43 649.57 586.9 650.63 587.9 651.7 C588.9 652.77 590.1 653.82 591.1 654.9 C592.1 655.98 592.9 656.98 593.9 658.2 C594.9 659.42 596.97 661 597.1 662.2 C597.23 663.4 595.63 664.33 594.7 665.4 C593.77 666.47 592.17 667.53 591.5 668.6 C590.83 669.67 591.3 670.73 590.7 671.8 C590.1 672.87 589.12 673.93 587.9 675 C586.67 676.07 584.29 676.98 583.35 678.2 C582.41 679.42 582.4 680.55 582.25 682.3 C582.1 684.05 582.51 686.33 582.45 688.7 C582.39 691.07 581.99 695.21 581.9 696.51 C581.81 695.21 581.41 691.07 581.35 688.7 C581.29 686.33 581.7 684.05 581.55 682.3 C581.4 680.55 581.39 679.42 580.45 678.2 C579.51 676.98 577.12 676.07 575.9 675 C574.67 673.93 573.7 672.87 573.1 671.8 C572.5 670.73 572.97 669.67 572.3 668.6 C571.63 667.53 570.03 666.47 569.1 665.4 C568.17 664.33 566.57 663.4 566.7 662.2 C566.83 661 568.9 659.42 569.9 658.2 C570.9 656.98 571.7 655.98 572.7 654.9 C573.7 653.82 574.9 652.77 575.9 651.7 C576.9 650.63 578.37 649.57 578.7 648.5 C579.03 647.43 578.1 646.37 577.9 645.3 C577.7 644.23 577.23 643.3 577.5 642.1 C577.77 640.9 578.79 639.43 579.5 638.1 C580.21 636.77 581.4 636.12 581.78 634.1 C582.16 632.08 581.76 627.99 581.78 626 C581.8 624.01 581.88 622.83 581.9 622.19Z" fill="url(#por)" stroke="none"/>

<path d="M581.9 622.19 C581.92 622.83 582 624.01 582.02 626 C582.04 627.99 581.64 632.08 582.02 634.1 C582.4 636.12 583.59 636.77 584.3 638.1 C585.01 639.43 586.03 640.9 586.3 642.1 C586.57 643.3 586.1 644.23 585.9 645.3 C585.7 646.37 584.77 647.43 585.1 648.5 C585.43 649.57 586.9 650.63 587.9 651.7 C588.9 652.77 590.1 653.82 591.1 654.9 C592.1 655.98 592.9 656.98 593.9 658.2 C594.9 659.42 596.97 661 597.1 662.2 C597.23 663.4 595.63 664.33 594.7 665.4 C593.77 666.47 592.17 667.53 591.5 668.6 C590.83 669.67 591.3 670.73 590.7 671.8 C590.1 672.87 589.12 673.93 587.9 675 C586.67 676.07 584.29 676.98 583.35 678.2 C582.41 679.42 582.4 680.55 582.25 682.3 C582.1 684.05 582.51 686.33 582.45 688.7 C582.39 691.07 581.99 695.21 581.9 696.51 C581.81 695.21 581.41 691.07 581.35 688.7 C581.29 686.33 581.7 684.05 581.55 682.3 C581.4 680.55 581.39 679.42 580.45 678.2 C579.51 676.98 577.12 676.07 575.9 675 C574.67 673.93 573.7 672.87 573.1 671.8 C572.5 670.73 572.97 669.67 572.3 668.6 C571.63 667.53 570.03 666.47 569.1 665.4 C568.17 664.33 566.57 663.4 566.7 662.2 C566.83 661 568.9 659.42 569.9 658.2 C570.9 656.98 571.7 655.98 572.7 654.9 C573.7 653.82 574.9 652.77 575.9 651.7 C576.9 650.63 578.37 649.57 578.7 648.5 C579.03 647.43 578.1 646.37 577.9 645.3 C577.7 644.23 577.23 643.3 577.5 642.1 C577.77 640.9 578.79 639.43 579.5 638.1 C580.21 636.77 581.4 636.12 581.78 634.1 C582.16 632.08 581.76 627.99 581.78 626 C581.8 624.01 581.88 622.83 581.9 622.19Z" fill="none" stroke="#000" stroke-width="2.2" stroke-linejoin="round"/>
<circle cx="588.57" cy="652.49" r="1.05" fill="#f7c160"/><circle cx="570.45" cy="657.8" r="1.05" fill="#f7c160"/><circle cx="592.17" cy="657.52" r="1.05" fill="#f7c160"/><circle cx="569.62" cy="659.44" r="1.05" fill="#f7c160"/><circle cx="594.19" cy="659.6" r="1.05" fill="#f7c160"/><circle cx="568.15" cy="662.05" r="1.05" fill="#f7c160"/><circle cx="596.73" cy="663.79" r="1.05" fill="#f7c160"/><circle cx="571.57" cy="666.06" r="1.05" fill="#f7c160"/><circle cx="586.63" cy="675.72" r="1.05" fill="#f7c160"/>
<line x1="566.7" y1="662.2" x2="597.1" y2="662.2" stroke="#000" stroke-width="3" stroke-dasharray="9 3.6" stroke-dashoffset="10.7"/>
<line x1="573.74" y1="655.8" x2="590.06" y2="655.8" stroke="#000" stroke-width="3.3" stroke-linecap="round" stroke-dasharray="0.3 5.9" stroke-dashoffset="8.01"/>
<line x1="574.25" y1="669.2" x2="589.55" y2="669.2" stroke="#000" stroke-width="3.3" stroke-linecap="round" stroke-dasharray="0.3 5.9" stroke-dashoffset="7.5"/>
<path d="M633 608.79 C633.02 609.56 633.1 609.5 633.12 613.4 C633.14 617.3 632.91 628.43 633.12 632.2 C633.33 635.97 633.72 634.73 634.35 636 C634.98 637.27 636.16 638.55 636.9 639.8 C637.64 641.05 638.17 642.25 638.8 643.5 C639.43 644.75 640 646.03 640.7 647.3 C641.4 648.57 642.07 649.85 643 651.1 C643.93 652.35 645.52 653.55 646.3 654.8 C647.08 656.05 647.47 657.33 647.7 658.6 C647.93 659.87 648.02 661.15 647.7 662.4 C647.38 663.65 646.82 664.85 645.8 666.1 C644.78 667.35 642.93 668.65 641.6 669.9 C640.27 671.15 639.01 672.35 637.8 673.6 C636.59 674.85 635.13 676.13 634.35 677.4 C633.57 678.67 633.35 678.15 633.12 681.2 C632.89 684.25 633.02 693.29 633 695.71 C632.98 693.29 633.11 684.25 632.88 681.2 C632.65 678.15 632.43 678.67 631.65 677.4 C630.87 676.13 629.41 674.85 628.2 673.6 C626.99 672.35 625.73 671.15 624.4 669.9 C623.07 668.65 621.22 667.35 620.2 666.1 C619.18 664.85 618.62 663.65 618.3 662.4 C617.98 661.15 618.07 659.87 618.3 658.6 C618.53 657.33 618.92 656.05 619.7 654.8 C620.48 653.55 622.07 652.35 623 651.1 C623.93 649.85 624.6 648.57 625.3 647.3 C626 646.03 626.57 644.75 627.2 643.5 C627.83 642.25 628.36 641.05 629.1 639.8 C629.84 638.55 631.02 637.27 631.65 636 C632.28 634.73 632.67 635.97 632.88 632.2 C633.09 628.43 632.86 617.3 632.88 613.4 C632.9 609.5 632.98 609.56 633 608.79Z" fill="url(#pbr)" stroke="none"/>

<path d="M633 608.79 C633.02 609.56 633.1 609.5 633.12 613.4 C633.14 617.3 632.91 628.43 633.12 632.2 C633.33 635.97 633.72 634.73 634.35 636 C634.98 637.27 636.16 638.55 636.9 639.8 C637.64 641.05 638.17 642.25 638.8 643.5 C639.43 644.75 640 646.03 640.7 647.3 C641.4 648.57 642.07 649.85 643 651.1 C643.93 652.35 645.52 653.55 646.3 654.8 C647.08 656.05 647.47 657.33 647.7 658.6 C647.93 659.87 648.02 661.15 647.7 662.4 C647.38 663.65 646.82 664.85 645.8 666.1 C644.78 667.35 642.93 668.65 641.6 669.9 C640.27 671.15 639.01 672.35 637.8 673.6 C636.59 674.85 635.13 676.13 634.35 677.4 C633.57 678.67 633.35 678.15 633.12 681.2 C632.89 684.25 633.02 693.29 633 695.71 C632.98 693.29 633.11 684.25 632.88 681.2 C632.65 678.15 632.43 678.67 631.65 677.4 C630.87 676.13 629.41 674.85 628.2 673.6 C626.99 672.35 625.73 671.15 624.4 669.9 C623.07 668.65 621.22 667.35 620.2 666.1 C619.18 664.85 618.62 663.65 618.3 662.4 C617.98 661.15 618.07 659.87 618.3 658.6 C618.53 657.33 618.92 656.05 619.7 654.8 C620.48 653.55 622.07 652.35 623 651.1 C623.93 649.85 624.6 648.57 625.3 647.3 C626 646.03 626.57 644.75 627.2 643.5 C627.83 642.25 628.36 641.05 629.1 639.8 C629.84 638.55 631.02 637.27 631.65 636 C632.28 634.73 632.67 635.97 632.88 632.2 C633.09 628.43 632.86 617.3 632.88 613.4 C632.9 609.5 632.98 609.56 633 608.79Z" fill="none" stroke="#000" stroke-width="2.2" stroke-linejoin="round"/>
<circle cx="636.12" cy="639.77" r="1.05" fill="#8e460a"/><circle cx="627.98" cy="641.35" r="1.05" fill="#8e460a"/><circle cx="639.72" cy="643.88" r="1.05" fill="#8e460a"/><circle cx="624.79" cy="646.62" r="1.05" fill="#8e460a"/><circle cx="640.72" cy="645.84" r="1.05" fill="#8e460a"/><circle cx="641.91" cy="649.09" r="1.05" fill="#8e460a"/><circle cx="642.96" cy="650.85" r="1.05" fill="#8e460a"/><circle cx="622.03" cy="652.92" r="1.05" fill="#8e460a"/><circle cx="643.76" cy="653.4" r="1.05" fill="#8e460a"/><circle cx="619.96" cy="655" r="1.05" fill="#8e460a"/><circle cx="647.77" cy="655.24" r="1.05" fill="#8e460a"/><circle cx="618.96" cy="658.32" r="1.05" fill="#8e460a"/><circle cx="647.03" cy="657.44" r="1.05" fill="#8e460a"/><circle cx="617.27" cy="662.18" r="1.05" fill="#8e460a"/><circle cx="621.87" cy="666.73" r="1.05" fill="#8e460a"/><circle cx="645.74" cy="666.99" r="1.05" fill="#8e460a"/><circle cx="623.66" cy="669.7" r="1.05" fill="#8e460a"/><circle cx="637.39" cy="673.45" r="1.05" fill="#8e460a"/>
<line x1="618.37" y1="658.4" x2="647.63" y2="658.4" stroke="#000" stroke-width="3" stroke-dasharray="9 3.6" stroke-dashoffset="10.13"/>
<line x1="624.44" y1="651.5" x2="641.56" y2="651.5" stroke="#000" stroke-width="3.3" stroke-linecap="round" stroke-dasharray="0.3 5.9" stroke-dashoffset="8.41"/>
<line x1="621.28" y1="664.7" x2="644.72" y2="664.7" stroke="#000" stroke-width="3.3" stroke-linecap="round" stroke-dasharray="0.3 5.9" stroke-dashoffset="11.57"/>
<path d="M72.3 826.8 V985.2 H191.5" fill="none" stroke="#1a1a1a" stroke-width="1.4"/>
<line x1="67.7" y1="827.5" x2="72.3" y2="827.5" stroke="#1a1a1a" stroke-width="1.25"/>
<text x="66" y="831" font-size="8.2" text-anchor="end" font-weight="normal" fill="#111" stroke="#111" stroke-width="0.12">4</text>
<line x1="67.7" y1="859" x2="72.3" y2="859" stroke="#1a1a1a" stroke-width="1.25"/>
<text x="66" y="862.5" font-size="8.2" text-anchor="end" font-weight="normal" fill="#111" stroke="#111" stroke-width="0.12">3</text>
<line x1="67.7" y1="890.6" x2="72.3" y2="890.6" stroke="#1a1a1a" stroke-width="1.25"/>
<text x="66" y="894.1" font-size="8.2" text-anchor="end" font-weight="normal" fill="#111" stroke="#111" stroke-width="0.12">2</text>
<line x1="67.7" y1="921.8" x2="72.3" y2="921.8" stroke="#1a1a1a" stroke-width="1.25"/>
<text x="66" y="925.3" font-size="8.2" text-anchor="end" font-weight="normal" fill="#111" stroke="#111" stroke-width="0.12">1</text>
<line x1="67.7" y1="953.4" x2="72.3" y2="953.4" stroke="#1a1a1a" stroke-width="1.25"/>
<text x="66" y="956.9" font-size="8.2" text-anchor="end" font-weight="normal" fill="#111" stroke="#111" stroke-width="0.12">0</text>
<line x1="67.7" y1="985.2" x2="72.3" y2="985.2" stroke="#1a1a1a" stroke-width="1.25"/>
<text x="66" y="988.7" font-size="8.2" text-anchor="end" font-weight="normal" fill="#111" stroke="#111" stroke-width="0.12">-1</text>
<line x1="106.4" y1="985.2" x2="106.4" y2="989.4" stroke="#1a1a1a" stroke-width="1.4"/>
<line x1="157.6" y1="985.2" x2="157.6" y2="989.4" stroke="#1a1a1a" stroke-width="1.4"/>
<line x1="72.3" y1="953.6" x2="191.5" y2="953.6" stroke="#000" stroke-width="1" stroke-dasharray="1.3 1.3"/>
<text transform="translate(54.4 906.35) rotate(-90)" font-size="10.53" text-anchor="middle" fill="#111" stroke="#111" stroke-width="0.15">Log-transformed PPA</text>
<text x="132" y="794.9" font-size="11.8" text-anchor="middle" font-weight="normal" textLength="115.1" lengthAdjust="spacingAndGlyphs" fill="#111" stroke="#111" stroke-width="0.22">Phenylpropionic acid</text>
<text x="131.7" y="811.7" font-size="11.8" text-anchor="middle" font-weight="normal" textLength="30.2" lengthAdjust="spacingAndGlyphs" fill="#111" stroke="#111" stroke-width="0.22">(PPA)</text>
<path d="M106.4 833.6 V827.5 H157.6 V833.6" fill="none" stroke="#111" stroke-width="1.3"/>
<text x="132.2" y="820.2" font-size="8.2" text-anchor="middle" font-weight="normal" textLength="8.3" lengthAdjust="spacingAndGlyphs" fill="#222">ns</text>
<text x="97.8" y="1001.8" font-size="10.7" text-anchor="middle" font-weight="normal" textLength="54.2" lengthAdjust="spacingAndGlyphs" fill="#111" stroke="#111" stroke-width="0.12">PD without</text>
<text x="97.8" y="1016.1" font-size="10.7" text-anchor="middle" font-weight="normal" textLength="60" lengthAdjust="spacingAndGlyphs" fill="#111" stroke="#111" stroke-width="0.12">constipation</text>
<text x="162.5" y="1001.8" font-size="10.7" text-anchor="middle" font-weight="normal" textLength="37.4" lengthAdjust="spacingAndGlyphs" fill="#111" stroke="#111" stroke-width="0.12">PD with</text>
<text x="162.5" y="1016.1" font-size="10.7" text-anchor="middle" font-weight="normal" textLength="60" lengthAdjust="spacingAndGlyphs" fill="#111" stroke="#111" stroke-width="0.12">constipation</text>
<path d="M106.8 839.79 C106.82 842.17 106.88 849.58 106.92 854.1 C106.96 858.62 106.91 863.7 107.05 866.9 C107.19 870.1 107.08 871.17 107.75 873.3 C108.42 875.43 109.49 877.58 111.1 879.7 C112.71 881.82 115.6 883.88 117.4 886 C119.2 888.12 121.15 890.27 121.9 892.4 C122.65 894.53 122.12 896.67 121.9 898.8 C121.68 900.93 121.13 903.07 120.6 905.2 C120.07 907.33 119.77 909.48 118.7 911.6 C117.63 913.72 115.8 915.78 114.2 917.9 C112.6 920.02 110.29 922.38 109.1 924.3 C107.91 926.22 107.05 927.7 107.05 929.4 C107.05 931.1 107.26 932.8 109.1 934.5 C110.94 936.2 115.97 938.12 118.1 939.6 C120.23 941.08 121.68 942.12 121.9 943.4 C122.12 944.68 120.88 946.02 119.4 947.3 C117.92 948.58 114.94 949.83 113 951.1 C111.06 952.37 108.78 953.58 107.75 954.9 C106.72 956.22 106.96 958.33 106.8 959.01 C106.64 958.33 106.88 956.22 105.85 954.9 C104.82 953.58 102.54 952.37 100.6 951.1 C98.66 949.83 95.68 948.58 94.2 947.3 C92.72 946.02 91.48 944.68 91.7 943.4 C91.92 942.12 93.37 941.08 95.5 939.6 C97.63 938.12 102.66 936.2 104.5 934.5 C106.34 932.8 106.55 931.1 106.55 929.4 C106.55 927.7 105.69 926.22 104.5 924.3 C103.31 922.38 101 920.02 99.4 917.9 C97.8 915.78 95.97 913.72 94.9 911.6 C93.83 909.48 93.53 907.33 93 905.2 C92.47 903.07 91.92 900.93 91.7 898.8 C91.48 896.67 90.95 894.53 91.7 892.4 C92.45 890.27 94.4 888.12 96.2 886 C98 883.88 100.89 881.82 102.5 879.7 C104.11 877.58 105.17 875.43 105.85 873.3 C106.52 871.17 106.41 870.1 106.55 866.9 C106.69 863.7 106.64 858.62 106.68 854.1 C106.72 849.58 106.78 842.17 106.8 839.79Z" fill="url(#pwh)" stroke="none"/>
<path d="M105.5 870 L107.5 870 L110.5 880 L112.3 892 L112.3 912 L110.5 922 L102.5 922 L100.5 912 L100.5 892 L102.5 880 Z" fill="url(#por)"/><circle cx="91.50" cy="944.30" r="0.90" fill="#f6be5c"/><circle cx="93.90" cy="944.30" r="0.90" fill="#f6be5c"/><circle cx="96.30" cy="944.30" r="0.90" fill="#f6be5c"/><circle cx="98.70" cy="944.30" r="0.90" fill="#f6be5c"/><circle cx="101.10" cy="944.30" r="0.90" fill="#f6be5c"/><circle cx="103.50" cy="944.30" r="0.90" fill="#f6be5c"/><circle cx="105.90" cy="944.30" r="0.90" fill="#f6be5c"/><circle cx="108.30" cy="944.30" r="0.90" fill="#f6be5c"/><circle cx="110.70" cy="944.30" r="0.90" fill="#f6be5c"/><circle cx="113.10" cy="944.30" r="0.90" fill="#f6be5c"/><circle cx="115.50" cy="944.30" r="0.90" fill="#f6be5c"/><circle cx="117.90" cy="944.30" r="0.90" fill="#f6be5c"/><circle cx="120.30" cy="944.30" r="0.90" fill="#f6be5c"/>
<path d="M106.8 839.79 C106.82 842.17 106.88 849.58 106.92 854.1 C106.96 858.62 106.91 863.7 107.05 866.9 C107.19 870.1 107.08 871.17 107.75 873.3 C108.42 875.43 109.49 877.58 111.1 879.7 C112.71 881.82 115.6 883.88 117.4 886 C119.2 888.12 121.15 890.27 121.9 892.4 C122.65 894.53 122.12 896.67 121.9 898.8 C121.68 900.93 121.13 903.07 120.6 905.2 C120.07 907.33 119.77 909.48 118.7 911.6 C117.63 913.72 115.8 915.78 114.2 917.9 C112.6 920.02 110.29 922.38 109.1 924.3 C107.91 926.22 107.05 927.7 107.05 929.4 C107.05 931.1 107.26 932.8 109.1 934.5 C110.94 936.2 115.97 938.12 118.1 939.6 C120.23 941.08 121.68 942.12 121.9 943.4 C122.12 944.68 120.88 946.02 119.4 947.3 C117.92 948.58 114.94 949.83 113 951.1 C111.06 952.37 108.78 953.58 107.75 954.9 C106.72 956.22 106.96 958.33 106.8 959.01 C106.64 958.33 106.88 956.22 105.85 954.9 C104.82 953.58 102.54 952.37 100.6 951.1 C98.66 949.83 95.68 948.58 94.2 947.3 C92.72 946.02 91.48 944.68 91.7 943.4 C91.92 942.12 93.37 941.08 95.5 939.6 C97.63 938.12 102.66 936.2 104.5 934.5 C106.34 932.8 106.55 931.1 106.55 929.4 C106.55 927.7 105.69 926.22 104.5 924.3 C103.31 922.38 101 920.02 99.4 917.9 C97.8 915.78 95.97 913.72 94.9 911.6 C93.83 909.48 93.53 907.33 93 905.2 C92.47 903.07 91.92 900.93 91.7 898.8 C91.48 896.67 90.95 894.53 91.7 892.4 C92.45 890.27 94.4 888.12 96.2 886 C98 883.88 100.89 881.82 102.5 879.7 C104.11 877.58 105.17 875.43 105.85 873.3 C106.52 871.17 106.41 870.1 106.55 866.9 C106.69 863.7 106.64 858.62 106.68 854.1 C106.72 849.58 106.78 842.17 106.8 839.79Z" fill="none" stroke="#000" stroke-width="2.2" stroke-linejoin="round"/>
<line x1="93.56" y1="907.1" x2="120.04" y2="907.1" stroke="#000" stroke-width="3"/>
<line x1="93.5" y1="894.3" x2="120.1" y2="894.3" stroke="#000" stroke-width="3.3" stroke-linecap="round" stroke-dasharray="0.3 5.9" stroke-dashoffset="6.95"/>
<line x1="93.95" y1="944.1" x2="119.65" y2="944.1" stroke="#000" stroke-width="3.3" stroke-linecap="round" stroke-dasharray="0.3 5.9" stroke-dashoffset="6.5"/>
<path d="M157.9 845.89 C157.92 847.99 157.91 854.35 158.02 858.5 C158.13 862.65 158.14 867.72 158.55 870.8 C158.96 873.88 159.66 874.93 160.5 877 C161.34 879.07 162.57 881.15 163.6 883.2 C164.63 885.25 165.88 887.25 166.7 889.3 C167.52 891.35 168.1 893.43 168.5 895.5 C168.9 897.57 169.1 899.65 169.1 901.7 C169.1 903.75 169 905.75 168.5 907.8 C168 909.85 167.12 911.93 166.1 914 C165.08 916.07 163.66 918.15 162.4 920.2 C161.14 922.25 159.28 924.45 158.55 926.3 C157.82 928.15 157.38 929.65 158.02 931.3 C158.66 932.95 160.24 934.57 162.4 936.2 C164.56 937.83 169.15 939.77 171 941.1 C172.85 942.43 173.92 942.97 173.5 944.2 C173.08 945.43 170.35 947.17 168.5 948.5 C166.65 949.83 164.15 950.97 162.4 952.2 C160.65 953.43 158.77 954.72 158.02 955.9 C157.27 957.08 157.92 958.74 157.9 959.31 C157.88 958.74 158.53 957.08 157.78 955.9 C157.03 954.72 155.15 953.43 153.4 952.2 C151.65 950.97 149.15 949.83 147.3 948.5 C145.45 947.17 142.72 945.43 142.3 944.2 C141.88 942.97 142.95 942.43 144.8 941.1 C146.65 939.77 151.24 937.83 153.4 936.2 C155.56 934.57 157.14 932.95 157.78 931.3 C158.42 929.65 157.98 928.15 157.25 926.3 C156.52 924.45 154.66 922.25 153.4 920.2 C152.14 918.15 150.72 916.07 149.7 914 C148.68 911.93 147.8 909.85 147.3 907.8 C146.8 905.75 146.7 903.75 146.7 901.7 C146.7 899.65 146.9 897.57 147.3 895.5 C147.7 893.43 148.28 891.35 149.1 889.3 C149.92 887.25 151.17 885.25 152.2 883.2 C153.23 881.15 154.46 879.07 155.3 877 C156.14 874.93 156.84 873.88 157.25 870.8 C157.66 867.72 157.67 862.65 157.78 858.5 C157.89 854.35 157.88 847.99 157.9 845.89Z" fill="url(#pwh)" stroke="none"/>
<path d="M157.3 861 L158.5 861 L160 876 L161 888 L161 914 L160 921.5 L155.8 921.5 L154.8 914 L154.8 888 L155.8 876 Z" fill="url(#pbr)"/><circle cx="142.90" cy="944.30" r="0.90" fill="#a0561c"/><circle cx="145.30" cy="944.30" r="0.90" fill="#a0561c"/><circle cx="147.70" cy="944.30" r="0.90" fill="#a0561c"/><circle cx="150.10" cy="944.30" r="0.90" fill="#a0561c"/><circle cx="152.50" cy="944.30" r="0.90" fill="#a0561c"/><circle cx="154.90" cy="944.30" r="0.90" fill="#a0561c"/><circle cx="157.30" cy="944.30" r="0.90" fill="#a0561c"/><circle cx="159.70" cy="944.30" r="0.90" fill="#a0561c"/><circle cx="162.10" cy="944.30" r="0.90" fill="#a0561c"/><circle cx="164.50" cy="944.30" r="0.90" fill="#a0561c"/><circle cx="166.90" cy="944.30" r="0.90" fill="#a0561c"/><circle cx="169.30" cy="944.30" r="0.90" fill="#a0561c"/><circle cx="171.70" cy="944.30" r="0.90" fill="#a0561c"/>
<path d="M157.9 845.89 C157.92 847.99 157.91 854.35 158.02 858.5 C158.13 862.65 158.14 867.72 158.55 870.8 C158.96 873.88 159.66 874.93 160.5 877 C161.34 879.07 162.57 881.15 163.6 883.2 C164.63 885.25 165.88 887.25 166.7 889.3 C167.52 891.35 168.1 893.43 168.5 895.5 C168.9 897.57 169.1 899.65 169.1 901.7 C169.1 903.75 169 905.75 168.5 907.8 C168 909.85 167.12 911.93 166.1 914 C165.08 916.07 163.66 918.15 162.4 920.2 C161.14 922.25 159.28 924.45 158.55 926.3 C157.82 928.15 157.38 929.65 158.02 931.3 C158.66 932.95 160.24 934.57 162.4 936.2 C164.56 937.83 169.15 939.77 171 941.1 C172.85 942.43 173.92 942.97 173.5 944.2 C173.08 945.43 170.35 947.17 168.5 948.5 C166.65 949.83 164.15 950.97 162.4 952.2 C160.65 953.43 158.77 954.72 158.02 955.9 C157.27 957.08 157.92 958.74 157.9 959.31 C157.88 958.74 158.53 957.08 157.78 955.9 C157.03 954.72 155.15 953.43 153.4 952.2 C151.65 950.97 149.15 949.83 147.3 948.5 C145.45 947.17 142.72 945.43 142.3 944.2 C141.88 942.97 142.95 942.43 144.8 941.1 C146.65 939.77 151.24 937.83 153.4 936.2 C155.56 934.57 157.14 932.95 157.78 931.3 C158.42 929.65 157.98 928.15 157.25 926.3 C156.52 924.45 154.66 922.25 153.4 920.2 C152.14 918.15 150.72 916.07 149.7 914 C148.68 911.93 147.8 909.85 147.3 907.8 C146.8 905.75 146.7 903.75 146.7 901.7 C146.7 899.65 146.9 897.57 147.3 895.5 C147.7 893.43 148.28 891.35 149.1 889.3 C149.92 887.25 151.17 885.25 152.2 883.2 C153.23 881.15 154.46 879.07 155.3 877 C156.14 874.93 156.84 873.88 157.25 870.8 C157.66 867.72 157.67 862.65 157.78 858.5 C157.89 854.35 157.88 847.99 157.9 845.89Z" fill="none" stroke="#000" stroke-width="2.2" stroke-linejoin="round"/>
<line x1="147.92" y1="909.4" x2="167.88" y2="909.4" stroke="#000" stroke-width="3"/>
<line x1="149.04" y1="896.1" x2="166.76" y2="896.1" stroke="#000" stroke-width="3.3" stroke-linecap="round" stroke-dasharray="0.3 5.9" stroke-dashoffset="8.71"/>
<line x1="144.26" y1="944" x2="171.54" y2="944" stroke="#000" stroke-width="3.3" stroke-linecap="round" stroke-dasharray="0.3 5.9" stroke-dashoffset="7.29"/>
<path d="M233.8 827.6 V986 H353" fill="none" stroke="#1a1a1a" stroke-width="1.4"/>
<line x1="229.2" y1="828.3" x2="233.8" y2="828.3" stroke="#1a1a1a" stroke-width="1.25"/>
<text x="227.5" y="831.8" font-size="8.2" text-anchor="end" font-weight="normal" fill="#111" stroke="#111" stroke-width="0.12">5</text>
<line x1="229.2" y1="859.8" x2="233.8" y2="859.8" stroke="#1a1a1a" stroke-width="1.25"/>
<text x="227.5" y="863.3" font-size="8.2" text-anchor="end" font-weight="normal" fill="#111" stroke="#111" stroke-width="0.12">4</text>
<line x1="229.2" y1="891.4" x2="233.8" y2="891.4" stroke="#1a1a1a" stroke-width="1.25"/>
<text x="227.5" y="894.9" font-size="8.2" text-anchor="end" font-weight="normal" fill="#111" stroke="#111" stroke-width="0.12">3</text>
<line x1="229.2" y1="922.9" x2="233.8" y2="922.9" stroke="#1a1a1a" stroke-width="1.25"/>
<text x="227.5" y="926.4" font-size="8.2" text-anchor="end" font-weight="normal" fill="#111" stroke="#111" stroke-width="0.12">2</text>
<line x1="229.2" y1="954.4" x2="233.8" y2="954.4" stroke="#1a1a1a" stroke-width="1.25"/>
<text x="227.5" y="957.9" font-size="8.2" text-anchor="end" font-weight="normal" fill="#111" stroke="#111" stroke-width="0.12">1</text>
<line x1="229.2" y1="986" x2="233.8" y2="986" stroke="#1a1a1a" stroke-width="1.25"/>
<text x="227.5" y="989.5" font-size="8.2" text-anchor="end" font-weight="normal" fill="#111" stroke="#111" stroke-width="0.12">0</text>
<line x1="267.7" y1="986" x2="267.7" y2="990.2" stroke="#1a1a1a" stroke-width="1.4"/>
<line x1="319.2" y1="986" x2="319.2" y2="990.2" stroke="#1a1a1a" stroke-width="1.4"/>
<text transform="translate(218.5 907.15) rotate(-90)" font-size="10.53" text-anchor="middle" textLength="99.6" lengthAdjust="spacingAndGlyphs" fill="#111" stroke="#111" stroke-width="0.15">Log-transformed Pcs</text>
<text x="292.9" y="791.6" font-size="11.8" text-anchor="middle" font-weight="normal" textLength="85.2" lengthAdjust="spacingAndGlyphs" fill="#111" stroke="#111" stroke-width="0.22"><tspan font-style="italic">p</tspan>-cresol sulfate</text>
<text x="293.4" y="808.5" font-size="11.8" text-anchor="middle" font-weight="normal" textLength="26" lengthAdjust="spacingAndGlyphs" fill="#111" stroke="#111" stroke-width="0.22">(Pcs)</text>
<path d="M267.7 831.5 V824.9 H319.2 V831.5" fill="none" stroke="#111" stroke-width="1.3"/>
<text x="293.3" y="825.6" font-size="17.5" text-anchor="middle" font-weight="bold" textLength="13.2" lengthAdjust="spacingAndGlyphs" fill="#111">**</text>
<text x="252.6" y="1001" font-size="10.7" text-anchor="middle" font-weight="normal" textLength="54.2" lengthAdjust="spacingAndGlyphs" fill="#111" stroke="#111" stroke-width="0.12">PD without</text>
<text x="252.6" y="1015.3" font-size="10.7" text-anchor="middle" font-weight="normal" textLength="60" lengthAdjust="spacingAndGlyphs" fill="#111" stroke="#111" stroke-width="0.12">constipation</text>
<text x="317.4" y="1001" font-size="10.7" text-anchor="middle" font-weight="normal" textLength="37.4" lengthAdjust="spacingAndGlyphs" fill="#111" stroke="#111" stroke-width="0.12">PD with</text>
<text x="317.4" y="1015.3" font-size="10.7" text-anchor="middle" font-weight="normal" textLength="60" lengthAdjust="spacingAndGlyphs" fill="#111" stroke="#111" stroke-width="0.12">constipation</text>
<path d="M267.9 848.19 C267.92 849.08 267.5 851.91 268.02 853.5 C268.54 855.09 269.99 856.3 271 857.7 C272.01 859.1 273.05 860.5 274.1 861.9 C275.15 863.3 276.5 864.7 277.3 866.1 C278.1 867.5 278.12 868.9 278.9 870.3 C279.68 871.7 281.25 873.1 282 874.5 C282.75 875.9 283.22 877.3 283.4 878.7 C283.58 880.1 283.77 881.5 283.1 882.9 C282.43 884.3 280.63 885.7 279.4 887.1 C278.17 888.5 276.58 889.9 275.7 891.3 C274.82 892.7 274.62 894.1 274.1 895.5 C273.58 896.9 273.03 898.3 272.6 899.7 C272.17 901.1 271.85 902.5 271.5 903.9 C271.15 905.3 270.96 906.7 270.5 908.1 C270.04 909.5 269.16 910.9 268.75 912.3 C268.34 913.7 268.14 914.05 268.02 916.5 C267.9 918.95 267.52 924.55 268.02 927 C268.52 929.45 269.89 929.8 271 931.2 C272.11 932.6 274.7 934 274.7 935.4 C274.7 936.8 272.11 938.38 271 939.6 C269.89 940.82 268.54 941.73 268.02 942.7 C267.5 943.67 267.92 944.96 267.9 945.41 C267.88 944.96 268.3 943.67 267.78 942.7 C267.26 941.73 265.91 940.82 264.8 939.6 C263.69 938.38 261.1 936.8 261.1 935.4 C261.1 934 263.69 932.6 264.8 931.2 C265.91 929.8 267.28 929.45 267.78 927 C268.28 924.55 267.9 918.95 267.78 916.5 C267.66 914.05 267.46 913.7 267.05 912.3 C266.64 910.9 265.76 909.5 265.3 908.1 C264.84 906.7 264.65 905.3 264.3 903.9 C263.95 902.5 263.63 901.1 263.2 899.7 C262.77 898.3 262.22 896.9 261.7 895.5 C261.18 894.1 260.98 892.7 260.1 891.3 C259.22 889.9 257.63 888.5 256.4 887.1 C255.17 885.7 253.37 884.3 252.7 882.9 C252.03 881.5 252.22 880.1 252.4 878.7 C252.58 877.3 253.05 875.9 253.8 874.5 C254.55 873.1 256.12 871.7 256.9 870.3 C257.68 868.9 257.7 867.5 258.5 866.1 C259.3 864.7 260.65 863.3 261.7 861.9 C262.75 860.5 263.79 859.1 264.8 857.7 C265.81 856.3 267.26 855.09 267.78 853.5 C268.3 851.91 267.88 849.08 267.9 848.19Z" fill="url(#por)" stroke="none" clip-path="url(#fc5)"/>
<circle cx="251.50" cy="935.60" r="0.90" fill="#f6be5c"/><circle cx="254.10" cy="935.60" r="0.90" fill="#f6be5c"/><circle cx="256.70" cy="935.60" r="0.90" fill="#f6be5c"/><circle cx="259.30" cy="935.60" r="0.90" fill="#f6be5c"/><circle cx="261.90" cy="935.60" r="0.90" fill="#f6be5c"/><circle cx="264.50" cy="935.60" r="0.90" fill="#f6be5c"/><circle cx="267.10" cy="935.60" r="0.90" fill="#f6be5c"/><circle cx="269.70" cy="935.60" r="0.90" fill="#f6be5c"/><circle cx="272.30" cy="935.60" r="0.90" fill="#f6be5c"/><circle cx="274.90" cy="935.60" r="0.90" fill="#f6be5c"/><circle cx="277.50" cy="935.60" r="0.90" fill="#f6be5c"/><circle cx="280.10" cy="935.60" r="0.90" fill="#f6be5c"/><circle cx="282.70" cy="935.60" r="0.90" fill="#f6be5c"/>
<path d="M267.9 848.19 C267.92 849.08 267.5 851.91 268.02 853.5 C268.54 855.09 269.99 856.3 271 857.7 C272.01 859.1 273.05 860.5 274.1 861.9 C275.15 863.3 276.5 864.7 277.3 866.1 C278.1 867.5 278.12 868.9 278.9 870.3 C279.68 871.7 281.25 873.1 282 874.5 C282.75 875.9 283.22 877.3 283.4 878.7 C283.58 880.1 283.77 881.5 283.1 882.9 C282.43 884.3 280.63 885.7 279.4 887.1 C278.17 888.5 276.58 889.9 275.7 891.3 C274.82 892.7 274.62 894.1 274.1 895.5 C273.58 896.9 273.03 898.3 272.6 899.7 C272.17 901.1 271.85 902.5 271.5 903.9 C271.15 905.3 270.96 906.7 270.5 908.1 C270.04 909.5 269.16 910.9 268.75 912.3 C268.34 913.7 268.14 914.05 268.02 916.5 C267.9 918.95 267.52 924.55 268.02 927 C268.52 929.45 269.89 929.8 271 931.2 C272.11 932.6 274.7 934 274.7 935.4 C274.7 936.8 272.11 938.38 271 939.6 C269.89 940.82 268.54 941.73 268.02 942.7 C267.5 943.67 267.92 944.96 267.9 945.41 C267.88 944.96 268.3 943.67 267.78 942.7 C267.26 941.73 265.91 940.82 264.8 939.6 C263.69 938.38 261.1 936.8 261.1 935.4 C261.1 934 263.69 932.6 264.8 931.2 C265.91 929.8 267.28 929.45 267.78 927 C268.28 924.55 267.9 918.95 267.78 916.5 C267.66 914.05 267.46 913.7 267.05 912.3 C266.64 910.9 265.76 909.5 265.3 908.1 C264.84 906.7 264.65 905.3 264.3 903.9 C263.95 902.5 263.63 901.1 263.2 899.7 C262.77 898.3 262.22 896.9 261.7 895.5 C261.18 894.1 260.98 892.7 260.1 891.3 C259.22 889.9 257.63 888.5 256.4 887.1 C255.17 885.7 253.37 884.3 252.7 882.9 C252.03 881.5 252.22 880.1 252.4 878.7 C252.58 877.3 253.05 875.9 253.8 874.5 C254.55 873.1 256.12 871.7 256.9 870.3 C257.68 868.9 257.7 867.5 258.5 866.1 C259.3 864.7 260.65 863.3 261.7 861.9 C262.75 860.5 263.79 859.1 264.8 857.7 C265.81 856.3 267.26 855.09 267.78 853.5 C268.3 851.91 267.88 849.08 267.9 848.19Z" fill="none" stroke="#000" stroke-width="2.2" stroke-linejoin="round"/>
<circle cx="263.13" cy="860.51" r="1.05" fill="#f7c160"/><circle cx="261.19" cy="862.97" r="1.05" fill="#f7c160"/><circle cx="273.7" cy="863" r="1.05" fill="#f7c160"/><circle cx="275.37" cy="865.14" r="1.05" fill="#f7c160"/><circle cx="257.57" cy="866.73" r="1.05" fill="#f7c160"/><circle cx="257.57" cy="869.82" r="1.05" fill="#f7c160"/><circle cx="253.16" cy="876.27" r="1.05" fill="#f7c160"/><circle cx="251.32" cy="878.63" r="1.05" fill="#f7c160"/><circle cx="252.12" cy="883.99" r="1.05" fill="#f7c160"/><circle cx="283.39" cy="883.66" r="1.05" fill="#f7c160"/><circle cx="279.81" cy="885.58" r="1.05" fill="#f7c160"/><circle cx="258.84" cy="890.21" r="1.05" fill="#f7c160"/><circle cx="274" cy="892.97" r="1.05" fill="#f7c160"/><circle cx="274.38" cy="894.99" r="1.05" fill="#f7c160"/><circle cx="272.29" cy="899.62" r="1.05" fill="#f7c160"/><circle cx="262.53" cy="901.24" r="1.05" fill="#f7c160"/><circle cx="264.22" cy="903.54" r="1.05" fill="#f7c160"/><circle cx="272.83" cy="904.44" r="1.05" fill="#f7c160"/><circle cx="264.96" cy="905.83" r="1.05" fill="#f7c160"/><circle cx="270.13" cy="906.97" r="1.05" fill="#f7c160"/>
<line x1="252.64" y1="882.1" x2="283.16" y2="882.1" stroke="#000" stroke-width="3" stroke-dasharray="9 3.6" stroke-dashoffset="10.76"/>
<line x1="256.19" y1="873.7" x2="279.61" y2="873.7" stroke="#000" stroke-width="3.3" stroke-linecap="round" stroke-dasharray="0.3 5.9" stroke-dashoffset="11.56"/>
<line x1="262.7" y1="893.4" x2="273.1" y2="893.4" stroke="#000" stroke-width="3.3" stroke-linecap="round" stroke-dasharray="0.3 5.9" stroke-dashoffset="11.25"/>
<path d="M319.2 838.99 C319.22 840.99 319.09 848.23 319.32 851 C319.55 853.77 319.47 854.27 320.55 855.6 C321.63 856.93 323.79 857.87 325.8 859 C327.81 860.13 331.17 861.07 332.6 862.4 C334.03 863.73 334.3 865.48 334.4 867 C334.5 868.52 333.3 870 333.2 871.5 C333.1 873 334.55 874.48 333.8 876 C333.05 877.52 330.03 878.88 328.7 880.6 C327.37 882.32 326.47 884.4 325.8 886.3 C325.13 888.2 325.07 890.12 324.7 892 C324.33 893.88 323.98 895.72 323.6 897.6 C323.22 899.48 322.91 901.58 322.4 903.3 C321.89 905.02 321.06 906.38 320.55 907.9 C320.04 909.42 319.52 908.43 319.32 912.4 C319.12 916.37 319.21 927.92 319.32 931.7 C319.43 935.48 319.95 933.97 319.95 935.1 C319.95 936.23 319.44 936.85 319.32 938.5 C319.19 940.15 319.22 943.92 319.2 945.01 C319.18 943.92 319.2 940.15 319.08 938.5 C318.95 936.85 318.45 936.23 318.45 935.1 C318.45 933.97 318.97 935.48 319.08 931.7 C319.19 927.92 319.28 916.37 319.08 912.4 C318.88 908.43 318.36 909.42 317.85 907.9 C317.34 906.38 316.51 905.02 316 903.3 C315.49 901.58 315.18 899.48 314.8 897.6 C314.42 895.72 314.07 893.88 313.7 892 C313.33 890.12 313.27 888.2 312.6 886.3 C311.93 884.4 311.03 882.32 309.7 880.6 C308.37 878.88 305.35 877.52 304.6 876 C303.85 874.48 305.3 873 305.2 871.5 C305.1 870 303.9 868.52 304 867 C304.1 865.48 304.37 863.73 305.8 862.4 C307.23 861.07 310.59 860.13 312.6 859 C314.61 857.87 316.77 856.93 317.85 855.6 C318.93 854.27 318.85 853.77 319.08 851 C319.31 848.23 319.18 840.99 319.2 838.99Z" fill="url(#pbr)" stroke="none" clip-path="url(#fc6)"/>
<circle cx="314.70" cy="935.60" r="0.90" fill="#a0561c"/><circle cx="316.20" cy="935.60" r="0.90" fill="#a0561c"/><circle cx="317.70" cy="935.60" r="0.90" fill="#a0561c"/><circle cx="319.20" cy="935.60" r="0.90" fill="#a0561c"/><circle cx="320.70" cy="935.60" r="0.90" fill="#a0561c"/><circle cx="322.20" cy="935.60" r="0.90" fill="#a0561c"/><circle cx="323.70" cy="935.60" r="0.90" fill="#a0561c"/>
<path d="M319.2 838.99 C319.22 840.99 319.09 848.23 319.32 851 C319.55 853.77 319.47 854.27 320.55 855.6 C321.63 856.93 323.79 857.87 325.8 859 C327.81 860.13 331.17 861.07 332.6 862.4 C334.03 863.73 334.3 865.48 334.4 867 C334.5 868.52 333.3 870 333.2 871.5 C333.1 873 334.55 874.48 333.8 876 C333.05 877.52 330.03 878.88 328.7 880.6 C327.37 882.32 326.47 884.4 325.8 886.3 C325.13 888.2 325.07 890.12 324.7 892 C324.33 893.88 323.98 895.72 323.6 897.6 C323.22 899.48 322.91 901.58 322.4 903.3 C321.89 905.02 321.06 906.38 320.55 907.9 C320.04 909.42 319.52 908.43 319.32 912.4 C319.12 916.37 319.21 927.92 319.32 931.7 C319.43 935.48 319.95 933.97 319.95 935.1 C319.95 936.23 319.44 936.85 319.32 938.5 C319.19 940.15 319.22 943.92 319.2 945.01 C319.18 943.92 319.2 940.15 319.08 938.5 C318.95 936.85 318.45 936.23 318.45 935.1 C318.45 933.97 318.97 935.48 319.08 931.7 C319.19 927.92 319.28 916.37 319.08 912.4 C318.88 908.43 318.36 909.42 317.85 907.9 C317.34 906.38 316.51 905.02 316 903.3 C315.49 901.58 315.18 899.48 314.8 897.6 C314.42 895.72 314.07 893.88 313.7 892 C313.33 890.12 313.27 888.2 312.6 886.3 C311.93 884.4 311.03 882.32 309.7 880.6 C308.37 878.88 305.35 877.52 304.6 876 C303.85 874.48 305.3 873 305.2 871.5 C305.1 870 303.9 868.52 304 867 C304.1 865.48 304.37 863.73 305.8 862.4 C307.23 861.07 310.59 860.13 312.6 859 C314.61 857.87 316.77 856.93 317.85 855.6 C318.93 854.27 318.85 853.77 319.08 851 C319.31 848.23 319.18 840.99 319.2 838.99Z" fill="none" stroke="#000" stroke-width="2.2" stroke-linejoin="round"/>
<circle cx="314.64" cy="857.57" r="1.05" fill="#8e460a"/><circle cx="325.78" cy="858.38" r="1.05" fill="#8e460a"/><circle cx="331.87" cy="862.41" r="1.05" fill="#8e460a"/><circle cx="305.61" cy="865.25" r="1.05" fill="#8e460a"/><circle cx="304.55" cy="867.71" r="1.05" fill="#8e460a"/><circle cx="304.59" cy="873.93" r="1.05" fill="#8e460a"/><circle cx="332.96" cy="874.14" r="1.05" fill="#8e460a"/><circle cx="306.23" cy="876.19" r="1.05" fill="#8e460a"/><circle cx="334.54" cy="876.47" r="1.05" fill="#8e460a"/><circle cx="328.21" cy="880.87" r="1.05" fill="#8e460a"/><circle cx="325.21" cy="885.1" r="1.05" fill="#8e460a"/><circle cx="324.19" cy="887.75" r="1.05" fill="#8e460a"/><circle cx="314.12" cy="890.49" r="1.05" fill="#8e460a"/><circle cx="313.14" cy="892.24" r="1.05" fill="#8e460a"/><circle cx="313.97" cy="895.14" r="1.05" fill="#8e460a"/><circle cx="316.48" cy="901.75" r="1.05" fill="#8e460a"/><circle cx="315.62" cy="903.91" r="1.05" fill="#8e460a"/>
<line x1="304.6" y1="876" x2="333.8" y2="876" stroke="#000" stroke-width="3" stroke-dasharray="9 3.6" stroke-dashoffset="10.1"/>
<line x1="305.88" y1="867.3" x2="332.52" y2="867.3" stroke="#000" stroke-width="3.3" stroke-linecap="round" stroke-dasharray="0.3 5.9" stroke-dashoffset="6.97"/>
<line x1="314.5" y1="886.8" x2="323.9" y2="886.8" stroke="#000" stroke-width="3.3" stroke-linecap="round" stroke-dasharray="0.3 5.9" stroke-dashoffset="10.75"/>
<path d="M395.3 817.9 V983.6 H514.7" fill="none" stroke="#1a1a1a" stroke-width="1.4"/>
<line x1="390.7" y1="818.6" x2="395.3" y2="818.6" stroke="#1a1a1a" stroke-width="1.25"/>
<text x="389" y="822.1" font-size="8.2" text-anchor="end" font-weight="normal" fill="#111" stroke="#111" stroke-width="0.12">4</text>
<line x1="390.7" y1="846.2" x2="395.3" y2="846.2" stroke="#1a1a1a" stroke-width="1.25"/>
<text x="389" y="849.7" font-size="8.2" text-anchor="end" font-weight="normal" fill="#111" stroke="#111" stroke-width="0.12">3</text>
<line x1="390.7" y1="873.8" x2="395.3" y2="873.8" stroke="#1a1a1a" stroke-width="1.25"/>
<text x="389" y="877.3" font-size="8.2" text-anchor="end" font-weight="normal" fill="#111" stroke="#111" stroke-width="0.12">2</text>
<line x1="390.7" y1="901.1" x2="395.3" y2="901.1" stroke="#1a1a1a" stroke-width="1.25"/>
<text x="389" y="904.6" font-size="8.2" text-anchor="end" font-weight="normal" fill="#111" stroke="#111" stroke-width="0.12">1</text>
<line x1="390.7" y1="928.7" x2="395.3" y2="928.7" stroke="#1a1a1a" stroke-width="1.25"/>
<text x="389" y="932.2" font-size="8.2" text-anchor="end" font-weight="normal" fill="#111" stroke="#111" stroke-width="0.12">0</text>
<line x1="390.7" y1="956" x2="395.3" y2="956" stroke="#1a1a1a" stroke-width="1.25"/>
<text x="389" y="959.5" font-size="8.2" text-anchor="end" font-weight="normal" fill="#111" stroke="#111" stroke-width="0.12">-1</text>
<line x1="390.7" y1="983.6" x2="395.3" y2="983.6" stroke="#1a1a1a" stroke-width="1.25"/>
<text x="389" y="987.1" font-size="8.2" text-anchor="end" font-weight="normal" fill="#111" stroke="#111" stroke-width="0.12">-2</text>
<line x1="429.3" y1="983.6" x2="429.3" y2="987.8" stroke="#1a1a1a" stroke-width="1.4"/>
<line x1="480.6" y1="983.6" x2="480.6" y2="987.8" stroke="#1a1a1a" stroke-width="1.4"/>
<line x1="395.3" y1="928.5" x2="514.7" y2="928.5" stroke="#000" stroke-width="1" stroke-dasharray="1.3 1.3"/>
<text transform="translate(377.4 901.1) rotate(-90)" font-size="10.53" text-anchor="middle" textLength="101.4" lengthAdjust="spacingAndGlyphs" fill="#111" stroke="#111" stroke-width="0.15">Log-transformed Pcg</text>
<text x="452.3" y="790.4" font-size="11.8" text-anchor="middle" font-weight="normal" textLength="113.6" lengthAdjust="spacingAndGlyphs" fill="#111" stroke="#111" stroke-width="0.22"><tspan font-style="italic">p</tspan>-cresol glucuronide</text>
<text x="452" y="807.3" font-size="11.8" text-anchor="middle" font-weight="normal" textLength="27.3" lengthAdjust="spacingAndGlyphs" fill="#111" stroke="#111" stroke-width="0.22">(Pcg)</text>
<path d="M429.3 834.1 V827 H480.6 V834.1" fill="none" stroke="#111" stroke-width="1.3"/>
<text x="455" y="827.1" font-size="17.5" text-anchor="middle" font-weight="bold" textLength="6.6" lengthAdjust="spacingAndGlyphs" fill="#111">*</text>
<text x="416.5" y="1003" font-size="10.7" text-anchor="middle" font-weight="normal" textLength="54.2" lengthAdjust="spacingAndGlyphs" fill="#111" stroke="#111" stroke-width="0.12">PD without</text>
<text x="416.5" y="1017.3" font-size="10.7" text-anchor="middle" font-weight="normal" textLength="60" lengthAdjust="spacingAndGlyphs" fill="#111" stroke="#111" stroke-width="0.12">constipation</text>
<text x="481.1" y="1003" font-size="10.7" text-anchor="middle" font-weight="normal" textLength="37.4" lengthAdjust="spacingAndGlyphs" fill="#111" stroke="#111" stroke-width="0.12">PD with</text>
<text x="481.1" y="1017.3" font-size="10.7" text-anchor="middle" font-weight="normal" textLength="60" lengthAdjust="spacingAndGlyphs" fill="#111" stroke="#111" stroke-width="0.12">constipation</text>
<path d="M429.2 849.29 C429.22 850.44 428.74 854.05 429.32 856.2 C429.9 858.35 431.62 860.18 432.7 862.2 C433.78 864.22 434.88 866.27 435.8 868.3 C436.72 870.33 437.4 872.37 438.2 874.4 C439 876.43 439.68 878.47 440.6 880.5 C441.52 882.53 442.98 884.78 443.7 886.6 C444.42 888.42 444.9 889.78 444.9 891.4 C444.9 893.02 444.42 894.68 443.7 896.3 C442.98 897.92 441.42 899.48 440.6 901.1 C439.78 902.72 439.2 904.37 438.8 906 C438.4 907.63 438.3 909.07 438.2 910.9 C438.1 912.73 438.4 915.18 438.2 917 C438 918.82 437.72 920.18 437 921.8 C436.28 923.42 434.94 925.08 433.9 926.7 C432.86 928.32 431.51 929.88 430.75 931.5 C429.99 933.12 429.19 934.77 429.32 936.4 C429.44 938.03 430.52 939.48 431.5 941.3 C432.48 943.12 435.1 945.48 435.2 947.3 C435.3 949.12 433.08 950.57 432.1 952.2 C431.12 953.83 429.8 955.23 429.32 957.1 C428.84 958.97 429.22 962.36 429.2 963.41 C429.18 962.36 429.56 958.97 429.08 957.1 C428.6 955.23 427.28 953.83 426.3 952.2 C425.32 950.57 423.1 949.12 423.2 947.3 C423.3 945.48 425.92 943.12 426.9 941.3 C427.88 939.48 428.95 938.03 429.08 936.4 C429.2 934.77 428.41 933.12 427.65 931.5 C426.89 929.88 425.54 928.32 424.5 926.7 C423.46 925.08 422.12 923.42 421.4 921.8 C420.68 920.18 420.4 918.82 420.2 917 C420 915.18 420.3 912.73 420.2 910.9 C420.1 909.07 420 907.63 419.6 906 C419.2 904.37 418.62 902.72 417.8 901.1 C416.98 899.48 415.42 897.92 414.7 896.3 C413.98 894.68 413.5 893.02 413.5 891.4 C413.5 889.78 413.98 888.42 414.7 886.6 C415.42 884.78 416.88 882.53 417.8 880.5 C418.72 878.47 419.4 876.43 420.2 874.4 C421 872.37 421.68 870.33 422.6 868.3 C423.52 866.27 424.62 864.22 425.7 862.2 C426.78 860.18 428.5 858.35 429.08 856.2 C429.66 854.05 429.18 850.44 429.2 849.29Z" fill="url(#porl)" stroke="none" clip-path="url(#fc7)"/>
<circle cx="412.90" cy="948.00" r="0.90" fill="#f6be5c"/><circle cx="415.50" cy="948.00" r="0.90" fill="#f6be5c"/><circle cx="418.10" cy="948.00" r="0.90" fill="#f6be5c"/><circle cx="420.70" cy="948.00" r="0.90" fill="#f6be5c"/><circle cx="423.30" cy="948.00" r="0.90" fill="#f6be5c"/><circle cx="425.90" cy="948.00" r="0.90" fill="#f6be5c"/><circle cx="428.50" cy="948.00" r="0.90" fill="#f6be5c"/><circle cx="431.10" cy="948.00" r="0.90" fill="#f6be5c"/><circle cx="433.70" cy="948.00" r="0.90" fill="#f6be5c"/><circle cx="436.30" cy="948.00" r="0.90" fill="#f6be5c"/><circle cx="438.90" cy="948.00" r="0.90" fill="#f6be5c"/><circle cx="441.50" cy="948.00" r="0.90" fill="#f6be5c"/><circle cx="444.10" cy="948.00" r="0.90" fill="#f6be5c"/>
<path d="M429.2 849.29 C429.22 850.44 428.74 854.05 429.32 856.2 C429.9 858.35 431.62 860.18 432.7 862.2 C433.78 864.22 434.88 866.27 435.8 868.3 C436.72 870.33 437.4 872.37 438.2 874.4 C439 876.43 439.68 878.47 440.6 880.5 C441.52 882.53 442.98 884.78 443.7 886.6 C444.42 888.42 444.9 889.78 444.9 891.4 C444.9 893.02 444.42 894.68 443.7 896.3 C442.98 897.92 441.42 899.48 440.6 901.1 C439.78 902.72 439.2 904.37 438.8 906 C438.4 907.63 438.3 909.07 438.2 910.9 C438.1 912.73 438.4 915.18 438.2 917 C438 918.82 437.72 920.18 437 921.8 C436.28 923.42 434.94 925.08 433.9 926.7 C432.86 928.32 431.51 929.88 430.75 931.5 C429.99 933.12 429.19 934.77 429.32 936.4 C429.44 938.03 430.52 939.48 431.5 941.3 C432.48 943.12 435.1 945.48 435.2 947.3 C435.3 949.12 433.08 950.57 432.1 952.2 C431.12 953.83 429.8 955.23 429.32 957.1 C428.84 958.97 429.22 962.36 429.2 963.41 C429.18 962.36 429.56 958.97 429.08 957.1 C428.6 955.23 427.28 953.83 426.3 952.2 C425.32 950.57 423.1 949.12 423.2 947.3 C423.3 945.48 425.92 943.12 426.9 941.3 C427.88 939.48 428.95 938.03 429.08 936.4 C429.2 934.77 428.41 933.12 427.65 931.5 C426.89 929.88 425.54 928.32 424.5 926.7 C423.46 925.08 422.12 923.42 421.4 921.8 C420.68 920.18 420.4 918.82 420.2 917 C420 915.18 420.3 912.73 420.2 910.9 C420.1 909.07 420 907.63 419.6 906 C419.2 904.37 418.62 902.72 417.8 901.1 C416.98 899.48 415.42 897.92 414.7 896.3 C413.98 894.68 413.5 893.02 413.5 891.4 C413.5 889.78 413.98 888.42 414.7 886.6 C415.42 884.78 416.88 882.53 417.8 880.5 C418.72 878.47 419.4 876.43 420.2 874.4 C421 872.37 421.68 870.33 422.6 868.3 C423.52 866.27 424.62 864.22 425.7 862.2 C426.78 860.18 428.5 858.35 429.08 856.2 C429.66 854.05 429.18 850.44 429.2 849.29Z" fill="none" stroke="#000" stroke-width="2.2" stroke-linejoin="round"/>
<circle cx="437.55" cy="873.06" r="1.05" fill="#f7c160"/><circle cx="420.87" cy="875.8" r="1.05" fill="#f7c160"/><circle cx="438.6" cy="875.04" r="1.05" fill="#f7c160"/><circle cx="419.52" cy="877.18" r="1.05" fill="#f7c160"/><circle cx="440.01" cy="880.12" r="1.05" fill="#f7c160"/><circle cx="440.78" cy="881.93" r="1.05" fill="#f7c160"/><circle cx="444.82" cy="889.36" r="1.05" fill="#f7c160"/><circle cx="443.84" cy="896.18" r="1.05" fill="#f7c160"/><circle cx="438.94" cy="911.76" r="1.05" fill="#f7c160"/><circle cx="424.68" cy="928.37" r="1.05" fill="#f7c160"/>
<line x1="415.22" y1="897.1" x2="443.18" y2="897.1" stroke="#000" stroke-width="3" stroke-dasharray="9 3.6" stroke-dashoffset="9.48"/>
<line x1="417.26" y1="885.1" x2="441.14" y2="885.1" stroke="#000" stroke-width="3.3" stroke-linecap="round" stroke-dasharray="0.3 5.9" stroke-dashoffset="11.79"/>
<line x1="422" y1="915.7" x2="436.4" y2="915.7" stroke="#000" stroke-width="3.3" stroke-linecap="round" stroke-dasharray="0.3 5.9" stroke-dashoffset="7.05"/>
<path d="M480.3 840.49 C480.32 842.58 479.9 849.85 480.42 853 C480.94 856.15 482.15 857.25 483.4 859.4 C484.65 861.55 486.6 863.97 487.9 865.9 C489.2 867.83 490.38 869.28 491.2 871 C492.02 872.72 492.45 874.48 492.8 876.2 C493.15 877.92 493.08 879.6 493.3 881.3 C493.52 883 494.13 884.68 494.1 886.4 C494.07 888.12 493.1 889.88 493.1 891.6 C493.1 893.32 494.1 894.98 494.1 896.7 C494.1 898.42 493.8 900.18 493.1 901.9 C492.4 903.62 490.87 905.28 489.9 907 C488.93 908.72 488.17 910.27 487.3 912.2 C486.43 914.13 485.57 916.47 484.7 918.6 C483.82 920.73 482.76 923.07 482.05 925 C481.34 926.93 480.69 928.48 480.42 930.2 C480.15 931.92 480.15 933.37 480.42 935.3 C480.69 937.23 481.55 939.65 482.05 941.8 C482.55 943.95 483.52 946.28 483.4 948.2 C483.28 950.12 481.85 951.8 481.35 953.3 C480.85 954.8 480.6 955.87 480.42 957.2 C480.25 958.54 480.32 960.62 480.3 961.31 C480.28 960.62 480.36 958.54 480.18 957.2 C480 955.87 479.75 954.8 479.25 953.3 C478.75 951.8 477.32 950.12 477.2 948.2 C477.08 946.28 478.05 943.95 478.55 941.8 C479.05 939.65 479.91 937.23 480.18 935.3 C480.45 933.37 480.45 931.92 480.18 930.2 C479.91 928.48 479.26 926.93 478.55 925 C477.84 923.07 476.78 920.73 475.9 918.6 C475.03 916.47 474.17 914.13 473.3 912.2 C472.43 910.27 471.67 908.72 470.7 907 C469.73 905.28 468.2 903.62 467.5 901.9 C466.8 900.18 466.5 898.42 466.5 896.7 C466.5 894.98 467.5 893.32 467.5 891.6 C467.5 889.88 466.53 888.12 466.5 886.4 C466.47 884.68 467.08 883 467.3 881.3 C467.52 879.6 467.45 877.92 467.8 876.2 C468.15 874.48 468.58 872.72 469.4 871 C470.22 869.28 471.4 867.83 472.7 865.9 C474 863.97 475.95 861.55 477.2 859.4 C478.45 857.25 479.66 856.15 480.18 853 C480.7 849.85 480.28 842.58 480.3 840.49Z" fill="url(#pbrl)" stroke="none" clip-path="url(#fc8)"/>
<circle cx="472.80" cy="948.00" r="0.90" fill="#a0561c"/><circle cx="475.30" cy="948.00" r="0.90" fill="#a0561c"/><circle cx="477.80" cy="948.00" r="0.90" fill="#a0561c"/><circle cx="480.30" cy="948.00" r="0.90" fill="#a0561c"/><circle cx="482.80" cy="948.00" r="0.90" fill="#a0561c"/><circle cx="485.30" cy="948.00" r="0.90" fill="#a0561c"/><circle cx="487.80" cy="948.00" r="0.90" fill="#a0561c"/>
<path d="M480.3 840.49 C480.32 842.58 479.9 849.85 480.42 853 C480.94 856.15 482.15 857.25 483.4 859.4 C484.65 861.55 486.6 863.97 487.9 865.9 C489.2 867.83 490.38 869.28 491.2 871 C492.02 872.72 492.45 874.48 492.8 876.2 C493.15 877.92 493.08 879.6 493.3 881.3 C493.52 883 494.13 884.68 494.1 886.4 C494.07 888.12 493.1 889.88 493.1 891.6 C493.1 893.32 494.1 894.98 494.1 896.7 C494.1 898.42 493.8 900.18 493.1 901.9 C492.4 903.62 490.87 905.28 489.9 907 C488.93 908.72 488.17 910.27 487.3 912.2 C486.43 914.13 485.57 916.47 484.7 918.6 C483.82 920.73 482.76 923.07 482.05 925 C481.34 926.93 480.69 928.48 480.42 930.2 C480.15 931.92 480.15 933.37 480.42 935.3 C480.69 937.23 481.55 939.65 482.05 941.8 C482.55 943.95 483.52 946.28 483.4 948.2 C483.28 950.12 481.85 951.8 481.35 953.3 C480.85 954.8 480.6 955.87 480.42 957.2 C480.25 958.54 480.32 960.62 480.3 961.31 C480.28 960.62 480.36 958.54 480.18 957.2 C480 955.87 479.75 954.8 479.25 953.3 C478.75 951.8 477.32 950.12 477.2 948.2 C477.08 946.28 478.05 943.95 478.55 941.8 C479.05 939.65 479.91 937.23 480.18 935.3 C480.45 933.37 480.45 931.92 480.18 930.2 C479.91 928.48 479.26 926.93 478.55 925 C477.84 923.07 476.78 920.73 475.9 918.6 C475.03 916.47 474.17 914.13 473.3 912.2 C472.43 910.27 471.67 908.72 470.7 907 C469.73 905.28 468.2 903.62 467.5 901.9 C466.8 900.18 466.5 898.42 466.5 896.7 C466.5 894.98 467.5 893.32 467.5 891.6 C467.5 889.88 466.53 888.12 466.5 886.4 C466.47 884.68 467.08 883 467.3 881.3 C467.52 879.6 467.45 877.92 467.8 876.2 C468.15 874.48 468.58 872.72 469.4 871 C470.22 869.28 471.4 867.83 472.7 865.9 C474 863.97 475.95 861.55 477.2 859.4 C478.45 857.25 479.66 856.15 480.18 853 C480.7 849.85 480.28 842.58 480.3 840.49Z" fill="none" stroke="#000" stroke-width="2.2" stroke-linejoin="round"/>
<circle cx="475.46" cy="862.03" r="1.05" fill="#8e460a"/><circle cx="488.13" cy="866.99" r="1.05" fill="#8e460a"/><circle cx="465.45" cy="884.67" r="1.05" fill="#8e460a"/><circle cx="467.44" cy="887.7" r="1.05" fill="#8e460a"/><circle cx="468.3" cy="900.57" r="1.05" fill="#8e460a"/><circle cx="488.42" cy="909.91" r="1.05" fill="#8e460a"/><circle cx="472.6" cy="912.02" r="1.05" fill="#8e460a"/><circle cx="485.49" cy="919.3" r="1.05" fill="#8e460a"/><circle cx="477.78" cy="922.28" r="1.05" fill="#8e460a"/>
<line x1="467.25" y1="892.9" x2="493.35" y2="892.9" stroke="#000" stroke-width="3" stroke-dasharray="9 3.6" stroke-dashoffset="8.55"/>
<line x1="469.5" y1="877.2" x2="491.1" y2="877.2" stroke="#000" stroke-width="3.3" stroke-linecap="round" stroke-dasharray="0.3 5.9" stroke-dashoffset="10.65"/>
<line x1="470.93" y1="904.5" x2="489.67" y2="904.5" stroke="#000" stroke-width="3.3" stroke-linecap="round" stroke-dasharray="0.3 5.9" stroke-dashoffset="9.22"/>
<path d="M554.7 824.5 V983.3 H673.2" fill="none" stroke="#1a1a1a" stroke-width="1.4"/>
<line x1="550.1" y1="825.2" x2="554.7" y2="825.2" stroke="#1a1a1a" stroke-width="1.25"/>
<text x="548.4" y="828.7" font-size="8.2" text-anchor="end" font-weight="normal" fill="#111" stroke="#111" stroke-width="0.12">5</text>
<line x1="550.1" y1="856.7" x2="554.7" y2="856.7" stroke="#1a1a1a" stroke-width="1.25"/>
<text x="548.4" y="860.2" font-size="8.2" text-anchor="end" font-weight="normal" fill="#111" stroke="#111" stroke-width="0.12">4</text>
<line x1="550.1" y1="888.5" x2="554.7" y2="888.5" stroke="#1a1a1a" stroke-width="1.25"/>
<text x="548.4" y="892" font-size="8.2" text-anchor="end" font-weight="normal" fill="#111" stroke="#111" stroke-width="0.12">3</text>
<line x1="550.1" y1="920" x2="554.7" y2="920" stroke="#1a1a1a" stroke-width="1.25"/>
<text x="548.4" y="923.5" font-size="8.2" text-anchor="end" font-weight="normal" fill="#111" stroke="#111" stroke-width="0.12">2</text>
<line x1="550.1" y1="951.5" x2="554.7" y2="951.5" stroke="#1a1a1a" stroke-width="1.25"/>
<text x="548.4" y="955" font-size="8.2" text-anchor="end" font-weight="normal" fill="#111" stroke="#111" stroke-width="0.12">1</text>
<line x1="550.1" y1="983.3" x2="554.7" y2="983.3" stroke="#1a1a1a" stroke-width="1.25"/>
<text x="548.4" y="986.8" font-size="8.2" text-anchor="end" font-weight="normal" fill="#111" stroke="#111" stroke-width="0.12">0</text>
<line x1="588.6" y1="983.3" x2="588.6" y2="987.5" stroke="#1a1a1a" stroke-width="1.4"/>
<line x1="639.8" y1="983.3" x2="639.8" y2="987.5" stroke="#1a1a1a" stroke-width="1.4"/>
<text transform="translate(539.4 904.25) rotate(-90)" font-size="10.53" text-anchor="middle" fill="#111" stroke="#111" stroke-width="0.15">Log-transformed IS</text>
<text x="611.8" y="791.6" font-size="11.8" text-anchor="middle" font-weight="normal" textLength="80.4" lengthAdjust="spacingAndGlyphs" fill="#111" stroke="#111" stroke-width="0.22">Indoxyl sulfate</text>
<text x="611.4" y="808" font-size="11.8" text-anchor="middle" font-weight="normal" textLength="18.2" lengthAdjust="spacingAndGlyphs" fill="#111" stroke="#111" stroke-width="0.22">(IS)</text>
<path d="M588.6 835.7 V829.1 H639.8 V835.7" fill="none" stroke="#111" stroke-width="1.3"/>
<text x="614.6" y="829.7" font-size="17.5" text-anchor="middle" font-weight="bold" textLength="13.2" lengthAdjust="spacingAndGlyphs" fill="#111">**</text>
<text x="574.8" y="1000.3" font-size="10.7" text-anchor="middle" font-weight="normal" textLength="54.2" lengthAdjust="spacingAndGlyphs" fill="#111" stroke="#111" stroke-width="0.12">PD without</text>
<text x="574.8" y="1014.6" font-size="10.7" text-anchor="middle" font-weight="normal" textLength="60" lengthAdjust="spacingAndGlyphs" fill="#111" stroke="#111" stroke-width="0.12">constipation</text>
<text x="639.6" y="1000.3" font-size="10.7" text-anchor="middle" font-weight="normal" textLength="37.4" lengthAdjust="spacingAndGlyphs" fill="#111" stroke="#111" stroke-width="0.12">PD with</text>
<text x="639.6" y="1014.6" font-size="10.7" text-anchor="middle" font-weight="normal" textLength="60" lengthAdjust="spacingAndGlyphs" fill="#111" stroke="#111" stroke-width="0.12">constipation</text>
<path d="M588.8 864.29 C588.82 864.77 588.89 866.17 588.92 867.2 C588.94 868.24 588.95 869.4 588.95 870.5 C588.95 871.6 588.44 872.82 588.92 873.8 C589.39 874.78 590.55 875.53 591.8 876.4 C593.05 877.27 594.98 878.13 596.4 879 C597.82 879.87 599.48 880.72 600.3 881.6 C601.12 882.48 601.4 883.42 601.3 884.3 C601.2 885.18 599.65 886.03 599.7 886.9 C599.75 887.77 600.9 888.62 601.6 889.5 C602.3 890.38 604 891.32 603.9 892.2 C603.8 893.08 601.93 893.93 601 894.8 C600.07 895.67 598.63 896.53 598.3 897.4 C597.97 898.27 599 899.12 599 900 C599 900.88 599.18 901.82 598.3 902.7 C597.42 903.58 594.95 904.43 593.7 905.3 C592.45 906.17 591.47 906.8 590.8 907.9 C590.12 909 589.96 910.58 589.65 911.9 C589.34 913.22 589.09 914.43 588.95 915.8 C588.81 917.17 588.82 919.39 588.8 920.11 C588.77 919.39 588.79 917.17 588.65 915.8 C588.51 914.43 588.26 913.22 587.95 911.9 C587.64 910.58 587.47 909 586.8 907.9 C586.12 906.8 585.15 906.17 583.9 905.3 C582.65 904.43 580.18 903.58 579.3 902.7 C578.42 901.82 578.6 900.88 578.6 900 C578.6 899.12 579.63 898.27 579.3 897.4 C578.97 896.53 577.53 895.67 576.6 894.8 C575.67 893.93 573.8 893.08 573.7 892.2 C573.6 891.32 575.3 890.38 576 889.5 C576.7 888.62 577.85 887.77 577.9 886.9 C577.95 886.03 576.4 885.18 576.3 884.3 C576.2 883.42 576.48 882.48 577.3 881.6 C578.12 880.72 579.78 879.87 581.2 879 C582.62 878.13 584.55 877.27 585.8 876.4 C587.05 875.53 588.2 874.78 588.68 873.8 C589.15 872.82 588.65 871.6 588.65 870.5 C588.65 869.4 588.65 868.24 588.68 867.2 C588.7 866.17 588.78 864.77 588.8 864.29Z" fill="url(#por)" stroke="none"/>

<path d="M588.8 864.29 C588.82 864.77 588.89 866.17 588.92 867.2 C588.94 868.24 588.95 869.4 588.95 870.5 C588.95 871.6 588.44 872.82 588.92 873.8 C589.39 874.78 590.55 875.53 591.8 876.4 C593.05 877.27 594.98 878.13 596.4 879 C597.82 879.87 599.48 880.72 600.3 881.6 C601.12 882.48 601.4 883.42 601.3 884.3 C601.2 885.18 599.65 886.03 599.7 886.9 C599.75 887.77 600.9 888.62 601.6 889.5 C602.3 890.38 604 891.32 603.9 892.2 C603.8 893.08 601.93 893.93 601 894.8 C600.07 895.67 598.63 896.53 598.3 897.4 C597.97 898.27 599 899.12 599 900 C599 900.88 599.18 901.82 598.3 902.7 C597.42 903.58 594.95 904.43 593.7 905.3 C592.45 906.17 591.47 906.8 590.8 907.9 C590.12 909 589.96 910.58 589.65 911.9 C589.34 913.22 589.09 914.43 588.95 915.8 C588.81 917.17 588.82 919.39 588.8 920.11 C588.77 919.39 588.79 917.17 588.65 915.8 C588.51 914.43 588.26 913.22 587.95 911.9 C587.64 910.58 587.47 909 586.8 907.9 C586.12 906.8 585.15 906.17 583.9 905.3 C582.65 904.43 580.18 903.58 579.3 902.7 C578.42 901.82 578.6 900.88 578.6 900 C578.6 899.12 579.63 898.27 579.3 897.4 C578.97 896.53 577.53 895.67 576.6 894.8 C575.67 893.93 573.8 893.08 573.7 892.2 C573.6 891.32 575.3 890.38 576 889.5 C576.7 888.62 577.85 887.77 577.9 886.9 C577.95 886.03 576.4 885.18 576.3 884.3 C576.2 883.42 576.48 882.48 577.3 881.6 C578.12 880.72 579.78 879.87 581.2 879 C582.62 878.13 584.55 877.27 585.8 876.4 C587.05 875.53 588.2 874.78 588.68 873.8 C589.15 872.82 588.65 871.6 588.65 870.5 C588.65 869.4 588.65 868.24 588.68 867.2 C588.7 866.17 588.78 864.77 588.8 864.29Z" fill="none" stroke="#000" stroke-width="2.2" stroke-linejoin="round"/>
<circle cx="582.04" cy="878.75" r="1.05" fill="#f7c160"/><circle cx="600.9" cy="881.16" r="1.05" fill="#f7c160"/><circle cx="577.71" cy="883.3" r="1.05" fill="#f7c160"/><circle cx="601.7" cy="885.66" r="1.05" fill="#f7c160"/><circle cx="576.3" cy="887.68" r="1.05" fill="#f7c160"/><circle cx="575.98" cy="890.89" r="1.05" fill="#f7c160"/><circle cx="579.98" cy="896.63" r="1.05" fill="#f7c160"/><circle cx="598.31" cy="896.6" r="1.05" fill="#f7c160"/><circle cx="598.19" cy="899.27" r="1.05" fill="#f7c160"/><circle cx="599.54" cy="901.77" r="1.05" fill="#f7c160"/><circle cx="582.83" cy="904.56" r="1.05" fill="#f7c160"/><circle cx="584.49" cy="905.85" r="1.05" fill="#f7c160"/>
<line x1="573.7" y1="892.2" x2="603.9" y2="892.2" stroke="#000" stroke-width="3" stroke-dasharray="9 3.6" stroke-dashoffset="10.6"/>
<line x1="578.47" y1="884.9" x2="599.13" y2="884.9" stroke="#000" stroke-width="3.3" stroke-linecap="round" stroke-dasharray="0.3 5.9" stroke-dashoffset="10.18"/>
<line x1="580.78" y1="898.6" x2="596.82" y2="898.6" stroke="#000" stroke-width="3.3" stroke-linecap="round" stroke-dasharray="0.3 5.9" stroke-dashoffset="7.87"/>
<path d="M640.1 842.49 C640.12 843.19 640.2 842.5 640.22 846.7 C640.24 850.9 640.01 863.62 640.22 867.7 C640.43 871.78 641.07 870.03 641.45 871.2 C641.83 872.37 641.74 873.53 642.5 874.7 C643.26 875.87 645.05 877.03 646 878.2 C646.95 879.37 647.62 880.53 648.2 881.7 C648.78 882.87 648.33 884.03 649.5 885.2 C650.67 886.37 654.48 887.68 655.2 888.7 C655.92 889.72 655.05 890.43 653.8 891.3 C652.55 892.17 649.15 892.88 647.7 893.9 C646.25 894.92 645.82 896.23 645.1 897.4 C644.38 898.57 643.9 899.73 643.4 900.9 C642.9 902.07 642.58 903.23 642.1 904.4 C641.62 905.57 640.86 906.6 640.55 907.9 C640.24 909.2 640.3 909.6 640.22 912.2 C640.14 914.8 640.12 921.62 640.1 923.51 C640.08 921.62 640.06 914.8 639.98 912.2 C639.9 909.6 639.96 909.2 639.65 907.9 C639.34 906.6 638.58 905.57 638.1 904.4 C637.62 903.23 637.3 902.07 636.8 900.9 C636.3 899.73 635.82 898.57 635.1 897.4 C634.38 896.23 633.95 894.92 632.5 893.9 C631.05 892.88 627.65 892.17 626.4 891.3 C625.15 890.43 624.28 889.72 625 888.7 C625.72 887.68 629.53 886.37 630.7 885.2 C631.87 884.03 631.42 882.87 632 881.7 C632.58 880.53 633.25 879.37 634.2 878.2 C635.15 877.03 636.94 875.87 637.7 874.7 C638.46 873.53 638.37 872.37 638.75 871.2 C639.13 870.03 639.77 871.78 639.98 867.7 C640.19 863.62 639.96 850.9 639.98 846.7 C640 842.5 640.08 843.19 640.1 842.49Z" fill="url(#pbr)" stroke="none"/>

<path d="M640.1 842.49 C640.12 843.19 640.2 842.5 640.22 846.7 C640.24 850.9 640.01 863.62 640.22 867.7 C640.43 871.78 641.07 870.03 641.45 871.2 C641.83 872.37 641.74 873.53 642.5 874.7 C643.26 875.87 645.05 877.03 646 878.2 C646.95 879.37 647.62 880.53 648.2 881.7 C648.78 882.87 648.33 884.03 649.5 885.2 C650.67 886.37 654.48 887.68 655.2 888.7 C655.92 889.72 655.05 890.43 653.8 891.3 C652.55 892.17 649.15 892.88 647.7 893.9 C646.25 894.92 645.82 896.23 645.1 897.4 C644.38 898.57 643.9 899.73 643.4 900.9 C642.9 902.07 642.58 903.23 642.1 904.4 C641.62 905.57 640.86 906.6 640.55 907.9 C640.24 909.2 640.3 909.6 640.22 912.2 C640.14 914.8 640.12 921.62 640.1 923.51 C640.08 921.62 640.06 914.8 639.98 912.2 C639.9 909.6 639.96 909.2 639.65 907.9 C639.34 906.6 638.58 905.57 638.1 904.4 C637.62 903.23 637.3 902.07 636.8 900.9 C636.3 899.73 635.82 898.57 635.1 897.4 C634.38 896.23 633.95 894.92 632.5 893.9 C631.05 892.88 627.65 892.17 626.4 891.3 C625.15 890.43 624.28 889.72 625 888.7 C625.72 887.68 629.53 886.37 630.7 885.2 C631.87 884.03 631.42 882.87 632 881.7 C632.58 880.53 633.25 879.37 634.2 878.2 C635.15 877.03 636.94 875.87 637.7 874.7 C638.46 873.53 638.37 872.37 638.75 871.2 C639.13 870.03 639.77 871.78 639.98 867.7 C640.19 863.62 639.96 850.9 639.98 846.7 C640 842.5 640.08 843.19 640.1 842.49Z" fill="none" stroke="#000" stroke-width="2.2" stroke-linejoin="round"/>
<circle cx="634.86" cy="878.09" r="1.05" fill="#8e460a"/><circle cx="633.74" cy="879.47" r="1.05" fill="#8e460a"/><circle cx="631.88" cy="882.76" r="1.05" fill="#8e460a"/><circle cx="626.69" cy="887.33" r="1.05" fill="#8e460a"/><circle cx="656.28" cy="888.98" r="1.05" fill="#8e460a"/><circle cx="634.67" cy="896.28" r="1.05" fill="#8e460a"/><circle cx="644.26" cy="898.2" r="1.05" fill="#8e460a"/><circle cx="637.39" cy="900.71" r="1.05" fill="#8e460a"/><circle cx="642.92" cy="900.58" r="1.05" fill="#8e460a"/>
<line x1="625.43" y1="889.5" x2="654.77" y2="889.5" stroke="#000" stroke-width="3" stroke-dasharray="9 3.6" stroke-dashoffset="10.17"/>
<line x1="633.24" y1="883.2" x2="646.96" y2="883.2" stroke="#000" stroke-width="3.3" stroke-linecap="round" stroke-dasharray="0.3 5.9" stroke-dashoffset="6.71"/>
<line x1="632.19" y1="893" x2="648.01" y2="893" stroke="#000" stroke-width="3.3" stroke-linecap="round" stroke-dasharray="0.3 5.9" stroke-dashoffset="7.76"/>
</svg>
</body></html>
